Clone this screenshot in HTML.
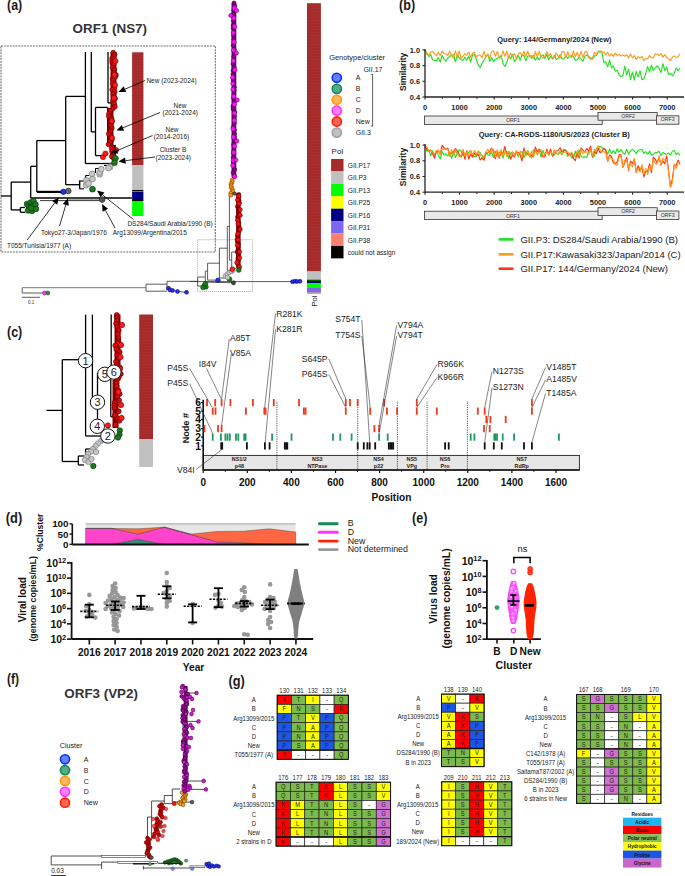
<!DOCTYPE html>
<html><head><meta charset="utf-8"><title>Figure</title>
<style>html,body{margin:0;padding:0;background:#fff;overflow:hidden}svg{display:block}text{font-family:"Liberation Sans",sans-serif}</style>
</head><body>
<svg width="685" height="876" viewBox="0 0 685 876">
<rect width="685" height="876" fill="#fff"/>
<text x="7" y="9.7" font-size="14" font-weight="bold" fill="#1a1a1a" textLength="15.2" lengthAdjust="spacingAndGlyphs">(a)</text>
<text x="399.1" y="9.7" font-size="14" font-weight="bold" fill="#1a1a1a" textLength="16" lengthAdjust="spacingAndGlyphs">(b)</text>
<text x="7" y="337.2" font-size="14" font-weight="bold" fill="#1a1a1a" textLength="15.2" lengthAdjust="spacingAndGlyphs">(c)</text>
<text x="5.8" y="522.8" font-size="14" font-weight="bold" fill="#1a1a1a" textLength="16.4" lengthAdjust="spacingAndGlyphs">(d)</text>
<text x="412" y="522.8" font-size="14" font-weight="bold" fill="#1a1a1a" textLength="15.4" lengthAdjust="spacingAndGlyphs">(e)</text>
<text x="7" y="683.9" font-size="14" font-weight="bold" fill="#1a1a1a" textLength="12" lengthAdjust="spacingAndGlyphs">(f)</text>
<text x="228.5" y="686.1" font-size="14" font-weight="bold" fill="#1a1a1a" textLength="16.3" lengthAdjust="spacingAndGlyphs">(g)</text>
<text x="72.6" y="33.3" font-size="13.4" font-weight="bold" fill="#333" >ORF1 (NS7)</text>
<rect x="1" y="46" width="214.3" height="206" fill="none" stroke="#707070" stroke-width="1.1" stroke-dasharray="2,0.9"/>
<line x1="1" y1="196" x2="11.2" y2="196" stroke="#000" stroke-width="1.3" />
<line x1="11.2" y1="182.1" x2="11.2" y2="209.9" stroke="#000" stroke-width="1.3" />
<line x1="11.2" y1="182.1" x2="30.7" y2="182.1" stroke="#000" stroke-width="1.3" />
<line x1="11.2" y1="209.9" x2="20.4" y2="209.9" stroke="#000" stroke-width="1.3" />
<line x1="20.4" y1="207.5" x2="20.4" y2="212.3" stroke="#000" stroke-width="1.3" />
<line x1="20.4" y1="207.5" x2="25" y2="207.5" stroke="#000" stroke-width="1.3" />
<line x1="20.4" y1="212.3" x2="25" y2="212.3" stroke="#000" stroke-width="1.3" />
<line x1="30.7" y1="166.3" x2="30.7" y2="198" stroke="#000" stroke-width="1.3" />
<line x1="30.7" y1="166.3" x2="36.8" y2="166.3" stroke="#000" stroke-width="1.3" />
<line x1="30.7" y1="198" x2="131.8" y2="198" stroke="#000" stroke-width="1.3" />
<line x1="36.8" y1="140.6" x2="36.8" y2="191.9" stroke="#000" stroke-width="1.3" />
<line x1="36.8" y1="140.6" x2="65.7" y2="140.6" stroke="#000" stroke-width="1.3" />
<line x1="65.7" y1="96.4" x2="65.7" y2="184.7" stroke="#000" stroke-width="1.3" />
<line x1="65.7" y1="96.4" x2="85.4" y2="96.4" stroke="#000" stroke-width="1.3" />
<line x1="65.7" y1="184.7" x2="79.7" y2="184.7" stroke="#000" stroke-width="1.3" />
<line x1="79.7" y1="180.5" x2="79.7" y2="188" stroke="#000" stroke-width="1.3" />
<line x1="85.4" y1="52" x2="85.4" y2="163.5" stroke="#000" stroke-width="1.3" />
<line x1="85.4" y1="163.5" x2="112" y2="163.5" stroke="#000" stroke-width="1.3" />
<line x1="91.3" y1="52" x2="91.3" y2="131.9" stroke="#000" stroke-width="1.3" />
<line x1="91.3" y1="131.9" x2="95.5" y2="131.9" stroke="#000" stroke-width="1.3" />
<line x1="95.5" y1="107.4" x2="95.5" y2="155.6" stroke="#000" stroke-width="1.3" />
<line x1="95.5" y1="155.6" x2="103.2" y2="155.6" stroke="#000" stroke-width="1.3" />
<line x1="95.5" y1="107.4" x2="107.7" y2="107.4" stroke="#000" stroke-width="1.3" />
<line x1="107.7" y1="107.4" x2="107.7" y2="146" stroke="#000" stroke-width="1.3" />
<line x1="108" y1="52" x2="108" y2="102.9" stroke="#000" stroke-width="1.3" />
<line x1="108" y1="102.9" x2="111" y2="102.9" stroke="#000" stroke-width="1.3" />
<line x1="36.8" y1="191.9" x2="63.4" y2="191.9" stroke="#000" stroke-width="2.2" />
<line x1="40" y1="200.6" x2="101" y2="200.6" stroke="#222" stroke-width="0.9" />
<line x1="68" y1="199.2" x2="101" y2="199.2" stroke="#555" stroke-width="0.7" />
<rect x="132.1" y="52.3" width="11.3" height="112.7" fill="#A52A2A" />
<rect x="132.1" y="54" width="11.3" height="0.5" fill="#B84444" opacity="0.5"/>
<rect x="132.1" y="57" width="11.3" height="0.5" fill="#B84444" opacity="0.5"/>
<rect x="132.1" y="60" width="11.3" height="0.5" fill="#B84444" opacity="0.5"/>
<rect x="132.1" y="63" width="11.3" height="0.5" fill="#B84444" opacity="0.5"/>
<rect x="132.1" y="66" width="11.3" height="0.5" fill="#B84444" opacity="0.5"/>
<rect x="132.1" y="69" width="11.3" height="0.5" fill="#B84444" opacity="0.5"/>
<rect x="132.1" y="72" width="11.3" height="0.5" fill="#B84444" opacity="0.5"/>
<rect x="132.1" y="75" width="11.3" height="0.5" fill="#B84444" opacity="0.5"/>
<rect x="132.1" y="78" width="11.3" height="0.5" fill="#B84444" opacity="0.5"/>
<rect x="132.1" y="81" width="11.3" height="0.5" fill="#B84444" opacity="0.5"/>
<rect x="132.1" y="84" width="11.3" height="0.5" fill="#B84444" opacity="0.5"/>
<rect x="132.1" y="87" width="11.3" height="0.5" fill="#B84444" opacity="0.5"/>
<rect x="132.1" y="90" width="11.3" height="0.5" fill="#B84444" opacity="0.5"/>
<rect x="132.1" y="93" width="11.3" height="0.5" fill="#B84444" opacity="0.5"/>
<rect x="132.1" y="96" width="11.3" height="0.5" fill="#B84444" opacity="0.5"/>
<rect x="132.1" y="99" width="11.3" height="0.5" fill="#B84444" opacity="0.5"/>
<rect x="132.1" y="102" width="11.3" height="0.5" fill="#B84444" opacity="0.5"/>
<rect x="132.1" y="105" width="11.3" height="0.5" fill="#B84444" opacity="0.5"/>
<rect x="132.1" y="108" width="11.3" height="0.5" fill="#B84444" opacity="0.5"/>
<rect x="132.1" y="111" width="11.3" height="0.5" fill="#B84444" opacity="0.5"/>
<rect x="132.1" y="114" width="11.3" height="0.5" fill="#B84444" opacity="0.5"/>
<rect x="132.1" y="117" width="11.3" height="0.5" fill="#B84444" opacity="0.5"/>
<rect x="132.1" y="120" width="11.3" height="0.5" fill="#B84444" opacity="0.5"/>
<rect x="132.1" y="123" width="11.3" height="0.5" fill="#B84444" opacity="0.5"/>
<rect x="132.1" y="126" width="11.3" height="0.5" fill="#B84444" opacity="0.5"/>
<rect x="132.1" y="129" width="11.3" height="0.5" fill="#B84444" opacity="0.5"/>
<rect x="132.1" y="132" width="11.3" height="0.5" fill="#B84444" opacity="0.5"/>
<rect x="132.1" y="135" width="11.3" height="0.5" fill="#B84444" opacity="0.5"/>
<rect x="132.1" y="138" width="11.3" height="0.5" fill="#B84444" opacity="0.5"/>
<rect x="132.1" y="141" width="11.3" height="0.5" fill="#B84444" opacity="0.5"/>
<rect x="132.1" y="144" width="11.3" height="0.5" fill="#B84444" opacity="0.5"/>
<rect x="132.1" y="147" width="11.3" height="0.5" fill="#B84444" opacity="0.5"/>
<rect x="132.1" y="150" width="11.3" height="0.5" fill="#B84444" opacity="0.5"/>
<rect x="132.1" y="153" width="11.3" height="0.5" fill="#B84444" opacity="0.5"/>
<rect x="132.1" y="156" width="11.3" height="0.5" fill="#B84444" opacity="0.5"/>
<rect x="132.1" y="159" width="11.3" height="0.5" fill="#B84444" opacity="0.5"/>
<rect x="132.1" y="162" width="11.3" height="0.5" fill="#B84444" opacity="0.5"/>
<rect x="132.1" y="165" width="11.3" height="25" fill="#C0C0C0" />
<rect x="132.1" y="190" width="11.3" height="1" fill="#000" />
<rect x="132.1" y="191" width="11.3" height="1" fill="#00CC00" />
<rect x="132.1" y="192" width="11.3" height="8" fill="#000080" />
<rect x="132.1" y="200" width="11.3" height="1" fill="#000" />
<rect x="132.1" y="201" width="11.3" height="14.2" fill="#00FF00" />
<rect x="132.1" y="215.2" width="11.3" height="0.8" fill="#7B68EE" />
<rect x="110.5" y="52" width="6" height="56" fill="#8B0000" />
<rect x="107.5" y="108" width="6" height="38" fill="#8B0000" />
<rect x="110" y="145" width="6" height="14" fill="#8B0000" />
<circle cx="113.22" cy="52.5" r="2.3" fill="#DD0A0A" stroke="#5A0000" stroke-width="0.6" />
<circle cx="114.66" cy="54.34" r="2.3" fill="#DD0A0A" stroke="#5A0000" stroke-width="0.6" />
<circle cx="114.16" cy="56.06" r="2.3" fill="#DD0A0A" stroke="#5A0000" stroke-width="0.6" />
<circle cx="112.06" cy="58.24" r="2.3" fill="#DD0A0A" stroke="#5A0000" stroke-width="0.6" />
<circle cx="111.96" cy="60.65" r="2.3" fill="#DD0A0A" stroke="#5A0000" stroke-width="0.6" />
<circle cx="112.11" cy="62.95" r="2.3" fill="#DD0A0A" stroke="#5A0000" stroke-width="0.6" />
<circle cx="113.67" cy="64.69" r="2.3" fill="#DD0A0A" stroke="#5A0000" stroke-width="0.6" />
<circle cx="112.34" cy="67.62" r="2.3" fill="#DD0A0A" stroke="#5A0000" stroke-width="0.6" />
<circle cx="114.56" cy="69.57" r="2.3" fill="#DD0A0A" stroke="#5A0000" stroke-width="0.6" />
<circle cx="114.34" cy="72.69" r="2.3" fill="#DD0A0A" stroke="#5A0000" stroke-width="0.6" />
<circle cx="116.1" cy="74.92" r="2.3" fill="#DD0A0A" stroke="#5A0000" stroke-width="0.6" />
<circle cx="115.58" cy="76.6" r="2.3" fill="#DD0A0A" stroke="#5A0000" stroke-width="0.6" />
<circle cx="112.43" cy="78.66" r="2.3" fill="#DD0A0A" stroke="#5A0000" stroke-width="0.6" />
<circle cx="113.16" cy="80.45" r="2.3" fill="#DD0A0A" stroke="#5A0000" stroke-width="0.6" />
<circle cx="112.6" cy="83.36" r="2.3" fill="#DD0A0A" stroke="#5A0000" stroke-width="0.6" />
<circle cx="114.61" cy="85.89" r="2.3" fill="#DD0A0A" stroke="#5A0000" stroke-width="0.6" />
<circle cx="114.21" cy="88.08" r="2.3" fill="#DD0A0A" stroke="#5A0000" stroke-width="0.6" />
<circle cx="112.06" cy="89.78" r="2.3" fill="#DD0A0A" stroke="#5A0000" stroke-width="0.6" />
<circle cx="114.79" cy="91.71" r="2.3" fill="#DD0A0A" stroke="#5A0000" stroke-width="0.6" />
<circle cx="113.18" cy="94" r="2.3" fill="#DD0A0A" stroke="#5A0000" stroke-width="0.6" />
<circle cx="113.79" cy="96.53" r="2.3" fill="#DD0A0A" stroke="#5A0000" stroke-width="0.6" />
<circle cx="115.3" cy="98.61" r="2.3" fill="#DD0A0A" stroke="#5A0000" stroke-width="0.6" />
<circle cx="112.87" cy="101.33" r="2.3" fill="#DD0A0A" stroke="#5A0000" stroke-width="0.6" />
<circle cx="114.11" cy="103.85" r="2.3" fill="#DD0A0A" stroke="#5A0000" stroke-width="0.6" />
<circle cx="115.01" cy="106.85" r="2.3" fill="#DD0A0A" stroke="#5A0000" stroke-width="0.6" />
<circle cx="112.61" cy="108.91" r="2.3" fill="#DD0A0A" stroke="#5A0000" stroke-width="0.6" />
<circle cx="110.14" cy="110.7" r="2.3" fill="#DD0A0A" stroke="#5A0000" stroke-width="0.6" />
<circle cx="108.97" cy="113.51" r="2.3" fill="#DD0A0A" stroke="#5A0000" stroke-width="0.6" />
<circle cx="108.47" cy="115.89" r="2.3" fill="#DD0A0A" stroke="#5A0000" stroke-width="0.6" />
<circle cx="111.66" cy="118.56" r="2.3" fill="#DD0A0A" stroke="#5A0000" stroke-width="0.6" />
<circle cx="112.15" cy="121.08" r="2.3" fill="#DD0A0A" stroke="#5A0000" stroke-width="0.6" />
<circle cx="111.36" cy="123.18" r="2.3" fill="#DD0A0A" stroke="#5A0000" stroke-width="0.6" />
<circle cx="110.85" cy="125.73" r="2.3" fill="#DD0A0A" stroke="#5A0000" stroke-width="0.6" />
<circle cx="112" cy="128.06" r="2.3" fill="#DD0A0A" stroke="#5A0000" stroke-width="0.6" />
<circle cx="110.39" cy="131.18" r="2.3" fill="#DD0A0A" stroke="#5A0000" stroke-width="0.6" />
<circle cx="108.57" cy="133.84" r="2.3" fill="#DD0A0A" stroke="#5A0000" stroke-width="0.6" />
<circle cx="111.15" cy="136.56" r="2.3" fill="#DD0A0A" stroke="#5A0000" stroke-width="0.6" />
<circle cx="111.92" cy="139.75" r="2.3" fill="#DD0A0A" stroke="#5A0000" stroke-width="0.6" />
<circle cx="110" cy="141.8" r="2.3" fill="#DD0A0A" stroke="#5A0000" stroke-width="0.6" />
<circle cx="108.4" cy="144.47" r="2.3" fill="#DD0A0A" stroke="#5A0000" stroke-width="0.6" />
<circle cx="112.04" cy="146.81" r="2.3" fill="#DD0A0A" stroke="#5A0000" stroke-width="0.6" />
<circle cx="111.56" cy="148.6" r="2.3" fill="#DD0A0A" stroke="#5A0000" stroke-width="0.6" />
<circle cx="111.87" cy="151.43" r="2.3" fill="#DD0A0A" stroke="#5A0000" stroke-width="0.6" />
<circle cx="113.02" cy="153.43" r="2.3" fill="#DD0A0A" stroke="#5A0000" stroke-width="0.6" />
<circle cx="111.65" cy="156.42" r="2.3" fill="#DD0A0A" stroke="#5A0000" stroke-width="0.6" />
<circle cx="113.72" cy="158.74" r="2.3" fill="#DD0A0A" stroke="#5A0000" stroke-width="0.6" />
<circle cx="115.5" cy="61" r="2.6" fill="#FF1A1A" stroke="#770000" stroke-width="0.6" />
<circle cx="114.5" cy="75" r="2.6" fill="#FF1A1A" stroke="#770000" stroke-width="0.6" />
<circle cx="115" cy="85" r="2.6" fill="#FF1A1A" stroke="#770000" stroke-width="0.6" />
<circle cx="114" cy="98" r="2.6" fill="#FF1A1A" stroke="#770000" stroke-width="0.6" />
<circle cx="112" cy="121" r="2.6" fill="#FF1A1A" stroke="#770000" stroke-width="0.6" />
<circle cx="112" cy="138" r="2.6" fill="#FF1A1A" stroke="#770000" stroke-width="0.6" />
<circle cx="116" cy="150" r="2.6" fill="#FF1A1A" stroke="#770000" stroke-width="0.6" />
<circle cx="103" cy="157" r="2.6" fill="#FF1A1A" stroke="#770000" stroke-width="0.6" />
<circle cx="105.5" cy="153.5" r="2.6" fill="#FF1A1A" stroke="#770000" stroke-width="0.6" />
<line x1="79.5" y1="181" x2="79.5" y2="188.8" stroke="#000" stroke-width="1.1" />
<line x1="79.5" y1="181" x2="84" y2="181" stroke="#000" stroke-width="1.1" />
<line x1="79.5" y1="188.8" x2="84" y2="188.8" stroke="#000" stroke-width="1.1" />
<line x1="85.5" y1="175.5" x2="85.5" y2="181" stroke="#000" stroke-width="1.1" />
<line x1="85.5" y1="175.5" x2="89" y2="175.5" stroke="#000" stroke-width="1.1" />
<line x1="95.5" y1="168.5" x2="95.5" y2="173" stroke="#000" stroke-width="1.1" />
<line x1="95.5" y1="168.5" x2="99" y2="168.5" stroke="#000" stroke-width="1.1" />
<line x1="104" y1="165.5" x2="108" y2="165.5" stroke="#000" stroke-width="1.1" />
<circle cx="86" cy="185.2" r="2.9" fill="#C8C8C8" stroke="#777" stroke-width="0.7" />
<circle cx="86.5" cy="180.3" r="2.9" fill="#C8C8C8" stroke="#777" stroke-width="0.7" />
<circle cx="92.1" cy="173.9" r="2.9" fill="#C8C8C8" stroke="#777" stroke-width="0.7" />
<circle cx="92.5" cy="179.1" r="2.9" fill="#C8C8C8" stroke="#777" stroke-width="0.7" />
<circle cx="99.7" cy="174.3" r="2.9" fill="#C8C8C8" stroke="#777" stroke-width="0.7" />
<circle cx="99.7" cy="172.3" r="2.9" fill="#C8C8C8" stroke="#777" stroke-width="0.7" />
<circle cx="101.3" cy="169.1" r="2.9" fill="#C8C8C8" stroke="#777" stroke-width="0.7" />
<circle cx="110.2" cy="166.7" r="2.9" fill="#C8C8C8" stroke="#777" stroke-width="0.7" />
<circle cx="108.5" cy="168" r="2.9" fill="#C8C8C8" stroke="#777" stroke-width="0.7" />
<circle cx="88.5" cy="183.5" r="2.9" fill="#C8C8C8" stroke="#777" stroke-width="0.7" />
<circle cx="115.4" cy="158.3" r="2.9" fill="#1E7A1E" stroke="#0A3A0A" stroke-width="0.7" />
<circle cx="114.5" cy="162.7" r="2.9" fill="#1E7A1E" stroke="#0A3A0A" stroke-width="0.7" />
<circle cx="92.5" cy="189.2" r="2.9" fill="#1E7A1E" stroke="#0A3A0A" stroke-width="0.7" />
<circle cx="27" cy="204" r="2.8" fill="#1E7A1E" stroke="#0A3A0A" stroke-width="0.7" />
<circle cx="30.5" cy="202.5" r="2.8" fill="#1E7A1E" stroke="#0A3A0A" stroke-width="0.7" />
<circle cx="33.5" cy="201" r="2.8" fill="#1E7A1E" stroke="#0A3A0A" stroke-width="0.7" />
<circle cx="29" cy="207" r="2.8" fill="#1E7A1E" stroke="#0A3A0A" stroke-width="0.7" />
<circle cx="33" cy="206" r="2.8" fill="#1E7A1E" stroke="#0A3A0A" stroke-width="0.7" />
<circle cx="28" cy="210.5" r="2.8" fill="#1E7A1E" stroke="#0A3A0A" stroke-width="0.7" />
<circle cx="32" cy="211" r="2.8" fill="#1E7A1E" stroke="#0A3A0A" stroke-width="0.7" />
<circle cx="35.5" cy="204.5" r="2.8" fill="#1E7A1E" stroke="#0A3A0A" stroke-width="0.7" />
<circle cx="36" cy="209" r="2.8" fill="#1E7A1E" stroke="#0A3A0A" stroke-width="0.7" />
<circle cx="31" cy="208" r="2.8" fill="#1E7A1E" stroke="#0A3A0A" stroke-width="0.7" />
<circle cx="63.4" cy="191.8" r="2.6" fill="#1A33EE" stroke="#000066" stroke-width="0.7" />
<circle cx="68.3" cy="191" r="2.8" fill="#666" stroke="#222" stroke-width="0.7" />
<circle cx="102.2" cy="199.6" r="2.8" fill="#555" stroke="#222" stroke-width="0.7" />
<line x1="145" y1="80.5" x2="124.92" y2="89.21" stroke="#000" stroke-width="0.8" />
<polygon points="118.5,92 123.69,86.37 126.16,92.06" fill="#000" />
<line x1="160" y1="112.5" x2="122.97" y2="127.82" stroke="#000" stroke-width="0.8" />
<polygon points="116.5,130.5 121.78,124.96 124.15,130.69" fill="#000" />
<line x1="152.5" y1="135.5" x2="116.93" y2="150.74" stroke="#000" stroke-width="0.8" />
<polygon points="110.5,153.5 115.71,147.89 118.16,153.59" fill="#000" />
<line x1="155" y1="157" x2="125.45" y2="160.64" stroke="#000" stroke-width="0.8" />
<polygon points="118.5,161.5 125.07,157.57 125.83,163.72" fill="#000" />
<line x1="133.5" y1="219.5" x2="102.48" y2="194.85" stroke="#000" stroke-width="0.8" />
<polygon points="97,190.5 104.41,192.43 100.55,197.28" fill="#000" />
<line x1="115" y1="228" x2="105.33" y2="210.16" stroke="#000" stroke-width="0.8" />
<polygon points="102,204 108.06,208.68 102.61,211.63" fill="#000" />
<line x1="59.5" y1="226" x2="65.8" y2="204.91" stroke="#000" stroke-width="0.8" />
<polygon points="67.8,198.2 68.77,205.79 62.83,204.02" fill="#000" />
<line x1="27.2" y1="240" x2="54.73" y2="202.92" stroke="#000" stroke-width="0.8" />
<polygon points="58.9,197.3 57.22,204.77 52.24,201.07" fill="#000" />
<text x="146.4" y="83" font-size="6.5" fill="#222" >New (2023-2024)</text>
<text x="180" y="108" font-size="6.5" text-anchor="middle" fill="#222" >New</text>
<text x="162.5" y="115.3" font-size="6.5" fill="#222" >(2021-2024)</text>
<text x="172" y="131.5" font-size="6.5" text-anchor="middle" fill="#222" >New</text>
<text x="153.8" y="138.5" font-size="6.5" fill="#222" >(2014-2016)</text>
<text x="173" y="152.3" font-size="6.5" text-anchor="middle" fill="#222" >Cluster B</text>
<text x="155.6" y="160.4" font-size="6.5" fill="#222" >(2023-2024)</text>
<text x="127.4" y="225.9" font-size="6.5" fill="#222" >DS284/Saudi Arabia/1990 (B)</text>
<text x="112.7" y="234.5" font-size="6.5" fill="#222" >Arg13099/Argentina/2015</text>
<text x="41" y="234.6" font-size="6.5" fill="#222" >Tokyo27-3/Japan/1976</text>
<text x="7" y="247.7" font-size="6.5" fill="#222" >T055/Tunisia/1977 (A)</text>
<line x1="22.2" y1="287.7" x2="22.2" y2="293" stroke="#333" stroke-width="0.8" />
<line x1="22.2" y1="293" x2="44" y2="293" stroke="#333" stroke-width="0.8" />
<line x1="146" y1="284.2" x2="146" y2="291.2" stroke="#333" stroke-width="0.8" />
<line x1="146" y1="284.2" x2="167" y2="284.2" stroke="#333" stroke-width="0.8" />
<line x1="146" y1="291.2" x2="167" y2="291.2" stroke="#333" stroke-width="0.8" />
<line x1="167" y1="281.3" x2="167" y2="290" stroke="#333" stroke-width="0.8" />
<line x1="167" y1="281.3" x2="197.7" y2="281.3" stroke="#333" stroke-width="0.8" />
<line x1="167" y1="289.5" x2="186" y2="292.5" stroke="#333" stroke-width="0.8" />
<line x1="22.2" y1="287.7" x2="146" y2="287.7" stroke="#666" stroke-width="0.9" />
<line x1="22" y1="297.3" x2="40" y2="297.3" stroke="#333" stroke-width="0.8" />
<text x="28" y="304.3" font-size="4.5" fill="#333" >0.1</text>
<circle cx="44.5" cy="293" r="2" fill="#FF44FF" stroke="#660066" stroke-width="0.5" />
<circle cx="47.8" cy="293" r="2" fill="#3A8A3A" stroke="#113311" stroke-width="0.5" />
<circle cx="168.5" cy="288.3" r="2" fill="#2233EE" stroke="#000066" stroke-width="0.5" />
<circle cx="170" cy="290" r="2" fill="#2233EE" stroke="#000066" stroke-width="0.5" />
<circle cx="172.5" cy="290.5" r="2" fill="#2233EE" stroke="#000066" stroke-width="0.5" />
<circle cx="177.5" cy="291.5" r="2" fill="#2233EE" stroke="#000066" stroke-width="0.5" />
<circle cx="186.5" cy="292.3" r="2" fill="#2233EE" stroke="#000066" stroke-width="0.5" />
<rect x="197.5" y="239.7" width="55" height="51.8" fill="none" stroke="#888" stroke-width="0.6" stroke-dasharray="1.2,0.8"/>
<line x1="190" y1="281.6" x2="300" y2="281.6" stroke="#333" stroke-width="0.8" />
<circle cx="292.5" cy="281.8" r="2" fill="#2233EE" stroke="#000066" stroke-width="0.5" />
<circle cx="295" cy="281.2" r="2" fill="#2233EE" stroke="#000066" stroke-width="0.5" />
<circle cx="297" cy="281.5" r="2" fill="#2233EE" stroke="#000066" stroke-width="0.5" />
<circle cx="300" cy="281.3" r="2" fill="#2233EE" stroke="#000066" stroke-width="0.5" />
<line x1="197.7" y1="277" x2="197.7" y2="286" stroke="#333" stroke-width="0.8" />
<line x1="197.7" y1="277" x2="205.1" y2="277" stroke="#333" stroke-width="0.8" />
<line x1="197.7" y1="286" x2="203" y2="286" stroke="#333" stroke-width="0.8" />
<line x1="205.3" y1="271.1" x2="205.3" y2="282.1" stroke="#333" stroke-width="0.8" />
<line x1="205.3" y1="271.1" x2="207.6" y2="271.1" stroke="#333" stroke-width="0.8" />
<line x1="207.6" y1="263.2" x2="207.6" y2="280.1" stroke="#333" stroke-width="0.8" />
<line x1="207.6" y1="263.2" x2="219.4" y2="263.2" stroke="#333" stroke-width="0.8" />
<line x1="207.6" y1="280.1" x2="216" y2="280.1" stroke="#333" stroke-width="0.8" />
<line x1="219.4" y1="248.2" x2="219.4" y2="278" stroke="#333" stroke-width="0.8" />
<line x1="219.4" y1="248.2" x2="227.3" y2="248.2" stroke="#333" stroke-width="0.8" />
<line x1="219.4" y1="278" x2="226" y2="278" stroke="#333" stroke-width="0.8" />
<line x1="227.3" y1="226.4" x2="227.3" y2="270.4" stroke="#333" stroke-width="0.8" />
<line x1="227.3" y1="226.4" x2="229.4" y2="226.4" stroke="#333" stroke-width="0.8" />
<line x1="227.3" y1="270.4" x2="233" y2="270.4" stroke="#333" stroke-width="0.8" />
<line x1="229.4" y1="195.6" x2="229.4" y2="260.1" stroke="#333" stroke-width="0.8" />
<line x1="229.4" y1="260.1" x2="231.7" y2="260.1" stroke="#333" stroke-width="0.8" />
<line x1="231.7" y1="252" x2="231.7" y2="268.3" stroke="#333" stroke-width="0.8" />
<line x1="231.7" y1="252" x2="236" y2="252" stroke="#333" stroke-width="0.8" />
<line x1="231.7" y1="268.3" x2="236" y2="268.3" stroke="#333" stroke-width="0.8" />
<line x1="205.3" y1="282.1" x2="233.5" y2="282.8" stroke="#333" stroke-width="0.8" />
<line x1="197.7" y1="277.3" x2="205" y2="277.3" stroke="#aaa" stroke-width="1.5" />
<rect x="231.5" y="1.5" width="4.8" height="177" fill="#700070" rx="2.4"/>
<circle cx="234.05" cy="3" r="2.1" fill="#8A008A" stroke="#3A003A" stroke-width="0.5" />
<circle cx="234.74" cy="5.89" r="2.1" fill="#8A008A" stroke="#3A003A" stroke-width="0.5" />
<circle cx="233.84" cy="10.24" r="2.1" fill="#8A008A" stroke="#3A003A" stroke-width="0.5" />
<circle cx="233.39" cy="14.06" r="2.1" fill="#8A008A" stroke="#3A003A" stroke-width="0.5" />
<circle cx="233.52" cy="17.01" r="2.1" fill="#8A008A" stroke="#3A003A" stroke-width="0.5" />
<circle cx="233.38" cy="20.89" r="2.1" fill="#8A008A" stroke="#3A003A" stroke-width="0.5" />
<circle cx="233.13" cy="25.33" r="2.1" fill="#8A008A" stroke="#3A003A" stroke-width="0.5" />
<circle cx="233.16" cy="28.22" r="2.1" fill="#8A008A" stroke="#3A003A" stroke-width="0.5" />
<circle cx="233.66" cy="32.26" r="2.1" fill="#8A008A" stroke="#3A003A" stroke-width="0.5" />
<circle cx="233.59" cy="35.7" r="2.1" fill="#8A008A" stroke="#3A003A" stroke-width="0.5" />
<circle cx="233.73" cy="39.48" r="2.1" fill="#8A008A" stroke="#3A003A" stroke-width="0.5" />
<circle cx="233.77" cy="42.4" r="2.1" fill="#8A008A" stroke="#3A003A" stroke-width="0.5" />
<circle cx="233.2" cy="45.5" r="2.1" fill="#8A008A" stroke="#3A003A" stroke-width="0.5" />
<circle cx="234.22" cy="49.65" r="2.1" fill="#8A008A" stroke="#3A003A" stroke-width="0.5" />
<circle cx="234.59" cy="53.48" r="2.1" fill="#8A008A" stroke="#3A003A" stroke-width="0.5" />
<circle cx="233.68" cy="56.77" r="2.1" fill="#8A008A" stroke="#3A003A" stroke-width="0.5" />
<circle cx="233.73" cy="60.12" r="2.1" fill="#8A008A" stroke="#3A003A" stroke-width="0.5" />
<circle cx="233.01" cy="63.95" r="2.1" fill="#8A008A" stroke="#3A003A" stroke-width="0.5" />
<circle cx="233.96" cy="67.38" r="2.1" fill="#8A008A" stroke="#3A003A" stroke-width="0.5" />
<circle cx="233.04" cy="70.57" r="2.1" fill="#8A008A" stroke="#3A003A" stroke-width="0.5" />
<circle cx="233.02" cy="74.48" r="2.1" fill="#8A008A" stroke="#3A003A" stroke-width="0.5" />
<circle cx="233.28" cy="78.11" r="2.1" fill="#8A008A" stroke="#3A003A" stroke-width="0.5" />
<circle cx="233.33" cy="80.68" r="2.1" fill="#8A008A" stroke="#3A003A" stroke-width="0.5" />
<circle cx="233.27" cy="83.31" r="2.1" fill="#8A008A" stroke="#3A003A" stroke-width="0.5" />
<circle cx="234.31" cy="87.18" r="2.1" fill="#8A008A" stroke="#3A003A" stroke-width="0.5" />
<circle cx="234.17" cy="90.41" r="2.1" fill="#8A008A" stroke="#3A003A" stroke-width="0.5" />
<circle cx="233.9" cy="93.86" r="2.1" fill="#8A008A" stroke="#3A003A" stroke-width="0.5" />
<circle cx="233.56" cy="98.11" r="2.1" fill="#8A008A" stroke="#3A003A" stroke-width="0.5" />
<circle cx="234.24" cy="102.35" r="2.1" fill="#8A008A" stroke="#3A003A" stroke-width="0.5" />
<circle cx="233.01" cy="106.22" r="2.1" fill="#8A008A" stroke="#3A003A" stroke-width="0.5" />
<circle cx="233.06" cy="108.88" r="2.1" fill="#8A008A" stroke="#3A003A" stroke-width="0.5" />
<circle cx="234.7" cy="112.08" r="2.1" fill="#8A008A" stroke="#3A003A" stroke-width="0.5" />
<circle cx="234.51" cy="116.33" r="2.1" fill="#8A008A" stroke="#3A003A" stroke-width="0.5" />
<circle cx="234.27" cy="119.06" r="2.1" fill="#8A008A" stroke="#3A003A" stroke-width="0.5" />
<circle cx="234.46" cy="123.11" r="2.1" fill="#8A008A" stroke="#3A003A" stroke-width="0.5" />
<circle cx="233.25" cy="127.2" r="2.1" fill="#8A008A" stroke="#3A003A" stroke-width="0.5" />
<circle cx="234.43" cy="130.06" r="2.1" fill="#8A008A" stroke="#3A003A" stroke-width="0.5" />
<circle cx="234.61" cy="134.03" r="2.1" fill="#8A008A" stroke="#3A003A" stroke-width="0.5" />
<circle cx="234.6" cy="137.43" r="2.1" fill="#8A008A" stroke="#3A003A" stroke-width="0.5" />
<circle cx="234.72" cy="140.2" r="2.1" fill="#8A008A" stroke="#3A003A" stroke-width="0.5" />
<circle cx="233.61" cy="144.47" r="2.1" fill="#8A008A" stroke="#3A003A" stroke-width="0.5" />
<circle cx="233.99" cy="147.11" r="2.1" fill="#8A008A" stroke="#3A003A" stroke-width="0.5" />
<circle cx="233.63" cy="150.99" r="2.1" fill="#8A008A" stroke="#3A003A" stroke-width="0.5" />
<circle cx="233.5" cy="153.6" r="2.1" fill="#8A008A" stroke="#3A003A" stroke-width="0.5" />
<circle cx="233.16" cy="157.75" r="2.1" fill="#8A008A" stroke="#3A003A" stroke-width="0.5" />
<circle cx="233.45" cy="162.13" r="2.1" fill="#8A008A" stroke="#3A003A" stroke-width="0.5" />
<circle cx="233.2" cy="165.03" r="2.1" fill="#8A008A" stroke="#3A003A" stroke-width="0.5" />
<circle cx="234.62" cy="169.5" r="2.1" fill="#8A008A" stroke="#3A003A" stroke-width="0.5" />
<circle cx="233.17" cy="172.63" r="2.1" fill="#8A008A" stroke="#3A003A" stroke-width="0.5" />
<circle cx="234.6" cy="176.44" r="2.1" fill="#8A008A" stroke="#3A003A" stroke-width="0.5" />
<circle cx="234.25" cy="8" r="2.2" fill="#FF10FF" stroke="#5A005A" stroke-width="0.4" />
<circle cx="233.79" cy="18.14" r="2.2" fill="#FF10FF" stroke="#5A005A" stroke-width="0.4" />
<circle cx="234.69" cy="26.56" r="2.2" fill="#FF10FF" stroke="#5A005A" stroke-width="0.4" />
<circle cx="233.31" cy="32.99" r="2.2" fill="#FF10FF" stroke="#5A005A" stroke-width="0.4" />
<circle cx="234.04" cy="41.95" r="2.2" fill="#FF10FF" stroke="#5A005A" stroke-width="0.4" />
<circle cx="233.47" cy="50.16" r="2.2" fill="#FF10FF" stroke="#5A005A" stroke-width="0.4" />
<circle cx="233.35" cy="60.78" r="2.2" fill="#FF10FF" stroke="#5A005A" stroke-width="0.4" />
<circle cx="234.92" cy="69.86" r="2.2" fill="#FF10FF" stroke="#5A005A" stroke-width="0.4" />
<circle cx="232.74" cy="77.26" r="2.2" fill="#FF10FF" stroke="#5A005A" stroke-width="0.4" />
<circle cx="232.77" cy="83.58" r="2.2" fill="#FF10FF" stroke="#5A005A" stroke-width="0.4" />
<circle cx="232.91" cy="89.47" r="2.2" fill="#FF10FF" stroke="#5A005A" stroke-width="0.4" />
<circle cx="233.56" cy="96.53" r="2.2" fill="#FF10FF" stroke="#5A005A" stroke-width="0.4" />
<circle cx="234.33" cy="104.21" r="2.2" fill="#FF10FF" stroke="#5A005A" stroke-width="0.4" />
<circle cx="234.39" cy="113.27" r="2.2" fill="#FF10FF" stroke="#5A005A" stroke-width="0.4" />
<circle cx="234.32" cy="120.46" r="2.2" fill="#FF10FF" stroke="#5A005A" stroke-width="0.4" />
<circle cx="232.93" cy="128.76" r="2.2" fill="#FF10FF" stroke="#5A005A" stroke-width="0.4" />
<circle cx="233.43" cy="137.03" r="2.2" fill="#FF10FF" stroke="#5A005A" stroke-width="0.4" />
<circle cx="234.51" cy="146.09" r="2.2" fill="#FF10FF" stroke="#5A005A" stroke-width="0.4" />
<circle cx="233.73" cy="152.53" r="2.2" fill="#FF10FF" stroke="#5A005A" stroke-width="0.4" />
<circle cx="233.37" cy="160.26" r="2.2" fill="#FF10FF" stroke="#5A005A" stroke-width="0.4" />
<circle cx="232.73" cy="165.51" r="2.2" fill="#FF10FF" stroke="#5A005A" stroke-width="0.4" />
<circle cx="234.52" cy="176.46" r="2.2" fill="#FF10FF" stroke="#5A005A" stroke-width="0.4" />
<circle cx="236.6" cy="10.5" r="2.1" fill="#FF10FF" stroke="#4A004A" stroke-width="0.5" />
<circle cx="230.8" cy="15.5" r="2.1" fill="#FF10FF" stroke="#4A004A" stroke-width="0.5" />
<circle cx="236.4" cy="53" r="2.1" fill="#FF10FF" stroke="#4A004A" stroke-width="0.5" />
<circle cx="237.2" cy="100" r="2.1" fill="#FF10FF" stroke="#4A004A" stroke-width="0.5" />
<circle cx="236.8" cy="141" r="2.1" fill="#FF10FF" stroke="#4A004A" stroke-width="0.5" />
<circle cx="235.8" cy="160" r="2.1" fill="#FF10FF" stroke="#4A004A" stroke-width="0.5" />
<circle cx="232.2" cy="180" r="2" fill="#FF9900" stroke="#663300" stroke-width="0.5" />
<circle cx="232.3" cy="181.9" r="2" fill="#FF9900" stroke="#663300" stroke-width="0.5" />
<circle cx="231.01" cy="183.8" r="2" fill="#FF9900" stroke="#663300" stroke-width="0.5" />
<circle cx="231.31" cy="185.7" r="2" fill="#FF9900" stroke="#663300" stroke-width="0.5" />
<circle cx="231.19" cy="187.6" r="2" fill="#FF9900" stroke="#663300" stroke-width="0.5" />
<circle cx="232.35" cy="189.5" r="2" fill="#FF9900" stroke="#663300" stroke-width="0.5" />
<circle cx="232.51" cy="191.4" r="2" fill="#FF9900" stroke="#663300" stroke-width="0.5" />
<circle cx="230.73" cy="193.3" r="2" fill="#FF9900" stroke="#663300" stroke-width="0.5" />
<circle cx="230.79" cy="195.2" r="2" fill="#FF9900" stroke="#663300" stroke-width="0.5" />
<circle cx="234.6" cy="193.6" r="1.8" fill="#555" stroke="#222" stroke-width="0.5" />
<rect x="236.2" y="193.6" width="4.4" height="74" fill="#7A0000" />
<circle cx="238.73" cy="194.5" r="2.1" fill="#A00000" stroke="#3A0000" stroke-width="0.5" />
<circle cx="238.82" cy="196.9" r="2.1" fill="#A00000" stroke="#3A0000" stroke-width="0.5" />
<circle cx="238.95" cy="200.33" r="2.1" fill="#A00000" stroke="#3A0000" stroke-width="0.5" />
<circle cx="239.37" cy="203.03" r="2.1" fill="#A00000" stroke="#3A0000" stroke-width="0.5" />
<circle cx="237.52" cy="206.41" r="2.1" fill="#A00000" stroke="#3A0000" stroke-width="0.5" />
<circle cx="238.3" cy="209.03" r="2.1" fill="#A00000" stroke="#3A0000" stroke-width="0.5" />
<circle cx="238.63" cy="211.44" r="2.1" fill="#A00000" stroke="#3A0000" stroke-width="0.5" />
<circle cx="238.89" cy="213.65" r="2.1" fill="#A00000" stroke="#3A0000" stroke-width="0.5" />
<circle cx="237.52" cy="216.94" r="2.1" fill="#A00000" stroke="#3A0000" stroke-width="0.5" />
<circle cx="237.93" cy="219.98" r="2.1" fill="#A00000" stroke="#3A0000" stroke-width="0.5" />
<circle cx="238.78" cy="222.94" r="2.1" fill="#A00000" stroke="#3A0000" stroke-width="0.5" />
<circle cx="239" cy="226.4" r="2.1" fill="#A00000" stroke="#3A0000" stroke-width="0.5" />
<circle cx="238.86" cy="228.91" r="2.1" fill="#A00000" stroke="#3A0000" stroke-width="0.5" />
<circle cx="238.83" cy="231.13" r="2.1" fill="#A00000" stroke="#3A0000" stroke-width="0.5" />
<circle cx="237.93" cy="233.76" r="2.1" fill="#A00000" stroke="#3A0000" stroke-width="0.5" />
<circle cx="237.43" cy="236.11" r="2.1" fill="#A00000" stroke="#3A0000" stroke-width="0.5" />
<circle cx="237.19" cy="239.31" r="2.1" fill="#A00000" stroke="#3A0000" stroke-width="0.5" />
<circle cx="237.38" cy="241.66" r="2.1" fill="#A00000" stroke="#3A0000" stroke-width="0.5" />
<circle cx="238.46" cy="243.89" r="2.1" fill="#A00000" stroke="#3A0000" stroke-width="0.5" />
<circle cx="238.33" cy="246.78" r="2.1" fill="#A00000" stroke="#3A0000" stroke-width="0.5" />
<circle cx="237.9" cy="250.13" r="2.1" fill="#A00000" stroke="#3A0000" stroke-width="0.5" />
<circle cx="237.38" cy="252.18" r="2.1" fill="#A00000" stroke="#3A0000" stroke-width="0.5" />
<circle cx="238.43" cy="254.96" r="2.1" fill="#A00000" stroke="#3A0000" stroke-width="0.5" />
<circle cx="238.02" cy="258.33" r="2.1" fill="#A00000" stroke="#3A0000" stroke-width="0.5" />
<circle cx="238.19" cy="260.68" r="2.1" fill="#A00000" stroke="#3A0000" stroke-width="0.5" />
<circle cx="237.67" cy="264.08" r="2.1" fill="#A00000" stroke="#3A0000" stroke-width="0.5" />
<circle cx="238.81" cy="267.47" r="2.1" fill="#A00000" stroke="#3A0000" stroke-width="0.5" />
<circle cx="238.64" cy="196" r="2.2" fill="#F01010" stroke="#4A0000" stroke-width="0.4" />
<circle cx="237.53" cy="199.95" r="2.2" fill="#F01010" stroke="#4A0000" stroke-width="0.4" />
<circle cx="239.03" cy="203.59" r="2.2" fill="#F01010" stroke="#4A0000" stroke-width="0.4" />
<circle cx="240.18" cy="209.59" r="2.2" fill="#F01010" stroke="#4A0000" stroke-width="0.4" />
<circle cx="240.18" cy="215.2" r="2.2" fill="#F01010" stroke="#4A0000" stroke-width="0.4" />
<circle cx="237.6" cy="220.11" r="2.2" fill="#F01010" stroke="#4A0000" stroke-width="0.4" />
<circle cx="238.06" cy="223.82" r="2.2" fill="#F01010" stroke="#4A0000" stroke-width="0.4" />
<circle cx="240.16" cy="229.17" r="2.2" fill="#F01010" stroke="#4A0000" stroke-width="0.4" />
<circle cx="237.91" cy="233.71" r="2.2" fill="#F01010" stroke="#4A0000" stroke-width="0.4" />
<circle cx="237.97" cy="239.75" r="2.2" fill="#F01010" stroke="#4A0000" stroke-width="0.4" />
<circle cx="237.25" cy="245.2" r="2.2" fill="#F01010" stroke="#4A0000" stroke-width="0.4" />
<circle cx="239.56" cy="251.69" r="2.2" fill="#F01010" stroke="#4A0000" stroke-width="0.4" />
<circle cx="239.61" cy="257.83" r="2.2" fill="#F01010" stroke="#4A0000" stroke-width="0.4" />
<circle cx="236.9" cy="262.49" r="2.2" fill="#F01010" stroke="#4A0000" stroke-width="0.4" />
<circle cx="239.49" cy="267.06" r="2.2" fill="#F01010" stroke="#4A0000" stroke-width="0.4" />
<circle cx="238.8" cy="270" r="2.4" fill="#1E7A1E" stroke="#0A3A0A" stroke-width="0.6" />
<circle cx="229.5" cy="279.2" r="2.4" fill="#1E7A1E" stroke="#0A3A0A" stroke-width="0.6" />
<circle cx="204.5" cy="285.2" r="2.3" fill="#1E7A1E" stroke="#0A3A0A" stroke-width="0.6" />
<circle cx="206" cy="287" r="2.3" fill="#1E7A1E" stroke="#0A3A0A" stroke-width="0.6" />
<circle cx="203" cy="287.5" r="2.3" fill="#1E7A1E" stroke="#0A3A0A" stroke-width="0.6" />
<circle cx="205.5" cy="283.5" r="2.3" fill="#1E7A1E" stroke="#0A3A0A" stroke-width="0.6" />
<circle cx="218" cy="280.3" r="2.3" fill="#2233EE" stroke="#000066" stroke-width="0.5" />
<circle cx="233.5" cy="282.8" r="2.1" fill="#444" stroke="#111" stroke-width="0.5" />
<circle cx="225" cy="276" r="2.2" fill="#C8C8C8" stroke="#666" stroke-width="0.5" />
<circle cx="227" cy="274" r="2.2" fill="#C8C8C8" stroke="#666" stroke-width="0.5" />
<circle cx="229" cy="272.5" r="2.2" fill="#C8C8C8" stroke="#666" stroke-width="0.5" />
<circle cx="231.5" cy="271.5" r="2.2" fill="#C8C8C8" stroke="#666" stroke-width="0.5" />
<circle cx="233" cy="270.5" r="2.2" fill="#C8C8C8" stroke="#666" stroke-width="0.5" />
<circle cx="227.5" cy="277.5" r="2.2" fill="#C8C8C8" stroke="#666" stroke-width="0.5" />
<circle cx="232.3" cy="269.2" r="2.4" fill="#FF2222" stroke="#550000" stroke-width="0.5" />
<rect x="307" y="3.2" width="13.9" height="268.3" fill="#A52A2A" />
<rect x="307" y="5" width="13.9" height="0.5" fill="#B84444" opacity="0.5"/>
<rect x="307" y="8" width="13.9" height="0.5" fill="#B84444" opacity="0.5"/>
<rect x="307" y="11" width="13.9" height="0.5" fill="#B84444" opacity="0.5"/>
<rect x="307" y="14" width="13.9" height="0.5" fill="#B84444" opacity="0.5"/>
<rect x="307" y="17" width="13.9" height="0.5" fill="#B84444" opacity="0.5"/>
<rect x="307" y="20" width="13.9" height="0.5" fill="#B84444" opacity="0.5"/>
<rect x="307" y="23" width="13.9" height="0.5" fill="#B84444" opacity="0.5"/>
<rect x="307" y="26" width="13.9" height="0.5" fill="#B84444" opacity="0.5"/>
<rect x="307" y="29" width="13.9" height="0.5" fill="#B84444" opacity="0.5"/>
<rect x="307" y="32" width="13.9" height="0.5" fill="#B84444" opacity="0.5"/>
<rect x="307" y="35" width="13.9" height="0.5" fill="#B84444" opacity="0.5"/>
<rect x="307" y="38" width="13.9" height="0.5" fill="#B84444" opacity="0.5"/>
<rect x="307" y="41" width="13.9" height="0.5" fill="#B84444" opacity="0.5"/>
<rect x="307" y="44" width="13.9" height="0.5" fill="#B84444" opacity="0.5"/>
<rect x="307" y="47" width="13.9" height="0.5" fill="#B84444" opacity="0.5"/>
<rect x="307" y="50" width="13.9" height="0.5" fill="#B84444" opacity="0.5"/>
<rect x="307" y="53" width="13.9" height="0.5" fill="#B84444" opacity="0.5"/>
<rect x="307" y="56" width="13.9" height="0.5" fill="#B84444" opacity="0.5"/>
<rect x="307" y="59" width="13.9" height="0.5" fill="#B84444" opacity="0.5"/>
<rect x="307" y="62" width="13.9" height="0.5" fill="#B84444" opacity="0.5"/>
<rect x="307" y="65" width="13.9" height="0.5" fill="#B84444" opacity="0.5"/>
<rect x="307" y="68" width="13.9" height="0.5" fill="#B84444" opacity="0.5"/>
<rect x="307" y="71" width="13.9" height="0.5" fill="#B84444" opacity="0.5"/>
<rect x="307" y="74" width="13.9" height="0.5" fill="#B84444" opacity="0.5"/>
<rect x="307" y="77" width="13.9" height="0.5" fill="#B84444" opacity="0.5"/>
<rect x="307" y="80" width="13.9" height="0.5" fill="#B84444" opacity="0.5"/>
<rect x="307" y="83" width="13.9" height="0.5" fill="#B84444" opacity="0.5"/>
<rect x="307" y="86" width="13.9" height="0.5" fill="#B84444" opacity="0.5"/>
<rect x="307" y="89" width="13.9" height="0.5" fill="#B84444" opacity="0.5"/>
<rect x="307" y="92" width="13.9" height="0.5" fill="#B84444" opacity="0.5"/>
<rect x="307" y="95" width="13.9" height="0.5" fill="#B84444" opacity="0.5"/>
<rect x="307" y="98" width="13.9" height="0.5" fill="#B84444" opacity="0.5"/>
<rect x="307" y="101" width="13.9" height="0.5" fill="#B84444" opacity="0.5"/>
<rect x="307" y="104" width="13.9" height="0.5" fill="#B84444" opacity="0.5"/>
<rect x="307" y="107" width="13.9" height="0.5" fill="#B84444" opacity="0.5"/>
<rect x="307" y="110" width="13.9" height="0.5" fill="#B84444" opacity="0.5"/>
<rect x="307" y="113" width="13.9" height="0.5" fill="#B84444" opacity="0.5"/>
<rect x="307" y="116" width="13.9" height="0.5" fill="#B84444" opacity="0.5"/>
<rect x="307" y="119" width="13.9" height="0.5" fill="#B84444" opacity="0.5"/>
<rect x="307" y="122" width="13.9" height="0.5" fill="#B84444" opacity="0.5"/>
<rect x="307" y="125" width="13.9" height="0.5" fill="#B84444" opacity="0.5"/>
<rect x="307" y="128" width="13.9" height="0.5" fill="#B84444" opacity="0.5"/>
<rect x="307" y="131" width="13.9" height="0.5" fill="#B84444" opacity="0.5"/>
<rect x="307" y="134" width="13.9" height="0.5" fill="#B84444" opacity="0.5"/>
<rect x="307" y="137" width="13.9" height="0.5" fill="#B84444" opacity="0.5"/>
<rect x="307" y="140" width="13.9" height="0.5" fill="#B84444" opacity="0.5"/>
<rect x="307" y="143" width="13.9" height="0.5" fill="#B84444" opacity="0.5"/>
<rect x="307" y="146" width="13.9" height="0.5" fill="#B84444" opacity="0.5"/>
<rect x="307" y="149" width="13.9" height="0.5" fill="#B84444" opacity="0.5"/>
<rect x="307" y="152" width="13.9" height="0.5" fill="#B84444" opacity="0.5"/>
<rect x="307" y="155" width="13.9" height="0.5" fill="#B84444" opacity="0.5"/>
<rect x="307" y="158" width="13.9" height="0.5" fill="#B84444" opacity="0.5"/>
<rect x="307" y="161" width="13.9" height="0.5" fill="#B84444" opacity="0.5"/>
<rect x="307" y="164" width="13.9" height="0.5" fill="#B84444" opacity="0.5"/>
<rect x="307" y="167" width="13.9" height="0.5" fill="#B84444" opacity="0.5"/>
<rect x="307" y="170" width="13.9" height="0.5" fill="#B84444" opacity="0.5"/>
<rect x="307" y="173" width="13.9" height="0.5" fill="#B84444" opacity="0.5"/>
<rect x="307" y="176" width="13.9" height="0.5" fill="#B84444" opacity="0.5"/>
<rect x="307" y="179" width="13.9" height="0.5" fill="#B84444" opacity="0.5"/>
<rect x="307" y="182" width="13.9" height="0.5" fill="#B84444" opacity="0.5"/>
<rect x="307" y="185" width="13.9" height="0.5" fill="#B84444" opacity="0.5"/>
<rect x="307" y="188" width="13.9" height="0.5" fill="#B84444" opacity="0.5"/>
<rect x="307" y="191" width="13.9" height="0.5" fill="#B84444" opacity="0.5"/>
<rect x="307" y="194" width="13.9" height="0.5" fill="#B84444" opacity="0.5"/>
<rect x="307" y="197" width="13.9" height="0.5" fill="#B84444" opacity="0.5"/>
<rect x="307" y="200" width="13.9" height="0.5" fill="#B84444" opacity="0.5"/>
<rect x="307" y="203" width="13.9" height="0.5" fill="#B84444" opacity="0.5"/>
<rect x="307" y="206" width="13.9" height="0.5" fill="#B84444" opacity="0.5"/>
<rect x="307" y="209" width="13.9" height="0.5" fill="#B84444" opacity="0.5"/>
<rect x="307" y="212" width="13.9" height="0.5" fill="#B84444" opacity="0.5"/>
<rect x="307" y="215" width="13.9" height="0.5" fill="#B84444" opacity="0.5"/>
<rect x="307" y="218" width="13.9" height="0.5" fill="#B84444" opacity="0.5"/>
<rect x="307" y="221" width="13.9" height="0.5" fill="#B84444" opacity="0.5"/>
<rect x="307" y="224" width="13.9" height="0.5" fill="#B84444" opacity="0.5"/>
<rect x="307" y="227" width="13.9" height="0.5" fill="#B84444" opacity="0.5"/>
<rect x="307" y="230" width="13.9" height="0.5" fill="#B84444" opacity="0.5"/>
<rect x="307" y="233" width="13.9" height="0.5" fill="#B84444" opacity="0.5"/>
<rect x="307" y="236" width="13.9" height="0.5" fill="#B84444" opacity="0.5"/>
<rect x="307" y="239" width="13.9" height="0.5" fill="#B84444" opacity="0.5"/>
<rect x="307" y="242" width="13.9" height="0.5" fill="#B84444" opacity="0.5"/>
<rect x="307" y="245" width="13.9" height="0.5" fill="#B84444" opacity="0.5"/>
<rect x="307" y="248" width="13.9" height="0.5" fill="#B84444" opacity="0.5"/>
<rect x="307" y="251" width="13.9" height="0.5" fill="#B84444" opacity="0.5"/>
<rect x="307" y="254" width="13.9" height="0.5" fill="#B84444" opacity="0.5"/>
<rect x="307" y="257" width="13.9" height="0.5" fill="#B84444" opacity="0.5"/>
<rect x="307" y="260" width="13.9" height="0.5" fill="#B84444" opacity="0.5"/>
<rect x="307" y="263" width="13.9" height="0.5" fill="#B84444" opacity="0.5"/>
<rect x="307" y="266" width="13.9" height="0.5" fill="#B84444" opacity="0.5"/>
<rect x="307" y="269" width="13.9" height="0.5" fill="#B84444" opacity="0.5"/>
<rect x="307" y="271.5" width="13.9" height="8.1" fill="#C0C0C0" />
<rect x="307" y="279.6" width="13.9" height="1.4" fill="#006400" />
<rect x="307" y="281" width="13.9" height="2" fill="#000080" />
<rect x="307" y="283" width="13.9" height="5" fill="#00FF00" />
<rect x="307" y="288" width="13.9" height="4.7" fill="#7B68EE" />
<rect x="307" y="292.7" width="13.9" height="1.1" fill="#F08030" />
<text x="0" y="0" font-size="7.6" fill="#222" transform="translate(316.8,306.6) rotate(-90)">Pol</text>
<text x="329.2" y="59.7" font-size="7.4" fill="#222" >Genotype/cluster</text>
<text x="363.4" y="71.5" font-size="7" fill="#222" >GII.17</text>
<circle cx="336.8" cy="77.8" r="4.6" fill="#6680FF" stroke="#0033FF" stroke-width="1.6" />
<text x="355.7" y="80.3" font-size="7" fill="#222" >A</text>
<circle cx="336.8" cy="88.9" r="4.6" fill="#55AA88" stroke="#118855" stroke-width="1.6" />
<text x="355.7" y="91.4" font-size="7" fill="#222" >B</text>
<circle cx="336.8" cy="99.8" r="4.6" fill="#FFB860" stroke="#FF9900" stroke-width="1.6" />
<text x="355.7" y="102.3" font-size="7" fill="#222" >C</text>
<circle cx="336.8" cy="110.6" r="4.6" fill="#FF80FF" stroke="#FF33FF" stroke-width="1.6" />
<text x="355.7" y="113.1" font-size="7" fill="#222" >D</text>
<circle cx="336.8" cy="121.5" r="4.6" fill="#FF6655" stroke="#FF2200" stroke-width="1.6" />
<text x="355.7" y="124" font-size="7" fill="#222" >New</text>
<circle cx="336.8" cy="132.6" r="4.6" fill="#C0C0C0" stroke="#A0A0A0" stroke-width="1.6" />
<text x="355.7" y="135.1" font-size="7" fill="#222" >GII.3</text>
<line x1="372.6" y1="74.4" x2="372.6" y2="126" stroke="#333" stroke-width="0.8" />
<line x1="370.8" y1="74.4" x2="372.6" y2="74.4" stroke="#333" stroke-width="0.8" />
<line x1="370.8" y1="126" x2="372.6" y2="126" stroke="#333" stroke-width="0.8" />
<text x="331.6" y="154" font-size="8" fill="#222" >Pol</text>
<rect x="331.1" y="159" width="12.4" height="12.42" fill="#A52A2A" />
<text x="347.8" y="168" font-size="6.6" fill="#222" >GII.P17</text>
<rect x="331.1" y="171.42" width="12.4" height="12.42" fill="#C0C0C0" />
<text x="347.8" y="180.42" font-size="6.6" fill="#222" >GII.P3</text>
<rect x="331.1" y="183.84" width="12.4" height="12.42" fill="#00FF00" />
<text x="347.8" y="192.84" font-size="6.6" fill="#222" >GII.P13</text>
<rect x="331.1" y="196.26" width="12.4" height="12.42" fill="#FFFF00" />
<text x="347.8" y="205.26" font-size="6.6" fill="#222" >GII.P25</text>
<rect x="331.1" y="208.68" width="12.4" height="12.42" fill="#000080" />
<text x="347.8" y="217.68" font-size="6.6" fill="#222" >GII.P16</text>
<rect x="331.1" y="221.1" width="12.4" height="12.42" fill="#7B68EE" />
<text x="347.8" y="230.1" font-size="6.6" fill="#222" >GII.P31</text>
<rect x="331.1" y="233.52" width="12.4" height="12.42" fill="#FA8072" />
<text x="347.8" y="242.52" font-size="6.6" fill="#222" >GII.P38</text>
<rect x="331.1" y="245.94" width="12.4" height="12.42" fill="#000" />
<text x="347.8" y="254.94" font-size="6.6" fill="#222" >could not assign</text>
<polyline points="425,49.9 426.9,53.12 428.81,56.52 430.71,54.57 432.61,59.76 434.51,60.59 436.42,60.61 438.32,57.61 440.22,61.99 442.13,55.52 444.03,59.15 445.93,61.02 447.84,58.03 449.74,56.47 451.64,55.04 453.55,54.89 455.45,61.76 457.35,54.84 459.25,57.8 461.16,59.69 463.06,60.47 464.96,57.08 466.87,60.29 468.77,56.08 470.67,62.12 472.57,54.86 474.48,54.64 476.38,59.5 478.28,64.88 480.19,67.77 482.09,63.26 483.99,60.18 485.9,57.3 487.8,54.19 489.7,61.46 491.61,57.47 493.51,61.66 495.41,59.25 497.31,58.31 499.22,57.46 501.12,55.32 503.02,63.63 504.93,66.51 506.83,62.54 508.73,55.92 510.63,58.69 512.54,54.29 514.44,61.53 516.34,59.48 518.25,55.52 520.15,60.25 522.05,55.17 523.96,55.57 525.86,60.69 527.76,56.29 529.66,55.52 531.57,58.18 533.47,55.31 535.37,60.32 537.28,57.15 539.18,59.79 541.08,56.11 542.99,54.75 544.89,58.36 546.79,53.95 548.69,59.75 550.6,56.23 552.5,59.25 554.4,55.25 556.31,59.47 558.21,58.24 560.11,54.76 562.02,58.93 563.92,58.99 565.82,55.82 567.73,58.5 569.63,56.18 571.53,55.81 573.43,56.76 575.34,60.44 577.24,59.74 579.14,56.93 581.05,58.82 582.95,61.1 584.85,56.37 586.75,55.09 588.66,56.14 590.56,59.17 592.46,59.1 594.37,55.88 596.27,55.71 598.17,51.88 600.08,51.74 601.98,52.53 603.88,62.72 605.78,61.79 607.69,66.88 609.59,60.04 611.49,67.93 613.4,65.92 615.3,71.27 617.2,70.31 619.11,75.01 621.01,76.87 622.91,75.42 624.82,66.17 626.72,74.83 628.62,69.2 630.52,79.7 632.43,71.97 634.33,80.19 636.23,71.37 638.14,77.09 640.04,70.76 641.94,79.6 643.85,78.96 645.75,73.54 647.65,66.36 649.55,72.11 651.46,65.08 653.36,70.47 655.26,67.81 657.17,65.82 659.07,68.18 660.97,72.63 662.88,63.7 664.78,70.62 666.68,66.9 668.58,74.63 670.49,73.25 672.39,75.86 674.29,73.4 676.2,67.87 678.1,70.71 680,67.98" fill="none" stroke="#22E022" stroke-width="1.15" stroke-linejoin="round"/>
<polyline points="425,49.9 426.9,54.58 428.81,55.38 430.71,52.06 432.61,51.73 434.51,53.66 436.42,55.87 438.32,52.19 440.22,55.77 442.13,50.98 444.03,53.65 445.93,53.73 447.84,55.45 449.74,51.14 451.64,55.76 453.55,58.08 455.45,50.82 457.35,57.4 459.25,50.89 461.16,58.42 463.06,56.06 464.96,53.63 466.87,55.23 468.77,52.09 470.67,57.4 472.57,53.12 474.48,52.52 476.38,56.7 478.28,55.2 480.19,55.08 482.09,57.99 483.99,51.43 485.9,57.05 487.8,54.05 489.7,58.38 491.61,51.55 493.51,50.89 495.41,56.26 497.31,51.48 499.22,57.65 501.12,58.04 503.02,50.88 504.93,56.21 506.83,50.97 508.73,58.27 510.63,53.11 512.54,55.63 514.44,53.69 516.34,58.52 518.25,54.05 520.15,52.33 522.05,55.84 523.96,51.3 525.86,56.49 527.76,50.98 529.66,56.75 531.57,55.46 533.47,58.36 535.37,51.43 537.28,56.54 539.18,51.23 541.08,56.6 542.99,58.01 544.89,56.6 546.79,51.64 548.69,56.03 550.6,53.7 552.5,58.49 554.4,57.22 556.31,53.02 558.21,55.96 560.11,58.07 562.02,51.44 563.92,51.76 565.82,57.69 567.73,51.73 569.63,56.72 571.53,57.44 573.43,50.88 575.34,57.05 577.24,52.29 579.14,57.38 581.05,51.33 582.95,57.82 584.85,51.94 586.75,51.29 588.66,57.98 590.56,57.43 592.46,58.38 594.37,52.35 596.27,54.66 598.17,51.2 600.08,50.69 601.98,52.06 603.88,52.03 605.78,55.05 607.69,52.19 609.59,56.14 611.49,53.9 613.4,56.43 615.3,53.05 617.2,55.45 619.11,54.48 621.01,56.08 622.91,54.96 624.82,56.24 626.72,54.83 628.62,58.06 630.52,53.83 632.43,58.02 634.33,55.47 636.23,59.6 638.14,56.85 640.04,58.02 641.94,56.38 643.85,60.54 645.75,58.56 647.65,58.68 649.55,55.61 651.46,57.5 653.36,57.99 655.26,53.89 657.17,54.28 659.07,55.57 660.97,53.61 662.88,57.13 664.78,54.72 666.68,57.58 668.58,58.63 670.49,60.63 672.39,57.09 674.29,55.87 676.2,57.35 678.1,57 680,53.76" fill="none" stroke="#FF9A1A" stroke-width="1.15" stroke-linejoin="round"/>
<line x1="425" y1="48.9" x2="425" y2="97" stroke="#222" stroke-width="1.3" />
<line x1="425" y1="97" x2="684" y2="97" stroke="#222" stroke-width="1.3" />
<line x1="422.5" y1="49.9" x2="425" y2="49.9" stroke="#222" stroke-width="1.1" />
<text x="420" y="52.5" font-size="7.4" text-anchor="end" font-weight="bold" fill="#222" >1.0</text>
<line x1="422.5" y1="65.6" x2="425" y2="65.6" stroke="#222" stroke-width="1.1" />
<text x="420" y="68.2" font-size="7.4" text-anchor="end" font-weight="bold" fill="#222" >0.8</text>
<line x1="422.5" y1="81.3" x2="425" y2="81.3" stroke="#222" stroke-width="1.1" />
<text x="420" y="83.9" font-size="7.4" text-anchor="end" font-weight="bold" fill="#222" >0.6</text>
<line x1="422.5" y1="97" x2="425" y2="97" stroke="#222" stroke-width="1.1" />
<text x="420" y="99.6" font-size="7.4" text-anchor="end" font-weight="bold" fill="#222" >0.4</text>
<line x1="425" y1="97" x2="425" y2="99.6" stroke="#222" stroke-width="1.1" />
<text x="425" y="109.5" font-size="7.4" text-anchor="middle" font-weight="bold" fill="#222" >0</text>
<line x1="442.3" y1="97" x2="442.3" y2="98.8" stroke="#222" stroke-width="1.1" />
<line x1="459.6" y1="97" x2="459.6" y2="99.6" stroke="#222" stroke-width="1.1" />
<text x="459.6" y="109.5" font-size="7.4" text-anchor="middle" font-weight="bold" fill="#222" >1000</text>
<line x1="476.9" y1="97" x2="476.9" y2="98.8" stroke="#222" stroke-width="1.1" />
<line x1="494.2" y1="97" x2="494.2" y2="99.6" stroke="#222" stroke-width="1.1" />
<text x="494.2" y="109.5" font-size="7.4" text-anchor="middle" font-weight="bold" fill="#222" >2000</text>
<line x1="511.5" y1="97" x2="511.5" y2="98.8" stroke="#222" stroke-width="1.1" />
<line x1="528.8" y1="97" x2="528.8" y2="99.6" stroke="#222" stroke-width="1.1" />
<text x="528.8" y="109.5" font-size="7.4" text-anchor="middle" font-weight="bold" fill="#222" >3000</text>
<line x1="546.1" y1="97" x2="546.1" y2="98.8" stroke="#222" stroke-width="1.1" />
<line x1="563.4" y1="97" x2="563.4" y2="99.6" stroke="#222" stroke-width="1.1" />
<text x="563.4" y="109.5" font-size="7.4" text-anchor="middle" font-weight="bold" fill="#222" >4000</text>
<line x1="580.7" y1="97" x2="580.7" y2="98.8" stroke="#222" stroke-width="1.1" />
<line x1="598" y1="97" x2="598" y2="99.6" stroke="#222" stroke-width="1.1" />
<text x="598" y="109.5" font-size="7.4" text-anchor="middle" font-weight="bold" fill="#222" >5000</text>
<line x1="615.3" y1="97" x2="615.3" y2="98.8" stroke="#222" stroke-width="1.1" />
<line x1="632.6" y1="97" x2="632.6" y2="99.6" stroke="#222" stroke-width="1.1" />
<text x="632.6" y="109.5" font-size="7.4" text-anchor="middle" font-weight="bold" fill="#222" >6000</text>
<line x1="649.9" y1="97" x2="649.9" y2="98.8" stroke="#222" stroke-width="1.1" />
<line x1="667.2" y1="97" x2="667.2" y2="99.6" stroke="#222" stroke-width="1.1" />
<text x="667.2" y="109.5" font-size="7.4" text-anchor="middle" font-weight="bold" fill="#222" >7000</text>
<text x="497.3" y="41.6" font-size="7.48" font-weight="bold" fill="#222" >Query: 144/Germany/2024 (New)</text>
<text x="0" y="0" font-size="8.5" text-anchor="middle" font-weight="bold" fill="#222" transform="translate(406,71.8) rotate(-90)">Similarity</text>
<rect x="424.4" y="116" width="177.8" height="8.4" fill="#E8E8E8" stroke="#333" stroke-width="0.8" />
<rect x="598" y="112.5" width="59.2" height="7.7" fill="#E8E8E8" stroke="#333" stroke-width="0.8" />
<rect x="656.5" y="115.8" width="22.4" height="8.4" fill="#E8E8E8" stroke="#333" stroke-width="0.8" />
<text x="513" y="122.4" font-size="5.2" text-anchor="middle" fill="#333" >ORF1</text>
<text x="628.1" y="118.1" font-size="5.2" text-anchor="middle" fill="#333" >ORF2</text>
<text x="667.7" y="121.4" font-size="5.2" text-anchor="middle" fill="#333" >ORF3</text>
<polyline points="425,145.1 426.9,151.23 428.81,149.62 430.71,155.75 432.61,150.69 434.51,156.26 436.42,150.61 438.32,155.13 440.22,159 442.13,151.42 444.03,154.99 445.93,153.74 447.84,155.92 449.74,152.04 451.64,158.39 453.55,151.3 455.45,157.61 457.35,152.79 459.25,149.83 461.16,151.01 463.06,155.77 464.96,153.62 466.87,152.26 468.77,152.31 470.67,150.43 472.57,155.63 474.48,156.67 476.38,156.36 478.28,151.31 480.19,152.75 482.09,156.06 483.99,157.76 485.9,152.83 487.8,154.93 489.7,155.39 491.61,152.01 493.51,157.57 495.41,151.22 497.31,156.31 499.22,152.69 501.12,150.58 503.02,158.09 504.93,152.19 506.83,151.21 508.73,158.45 510.63,152.7 512.54,152.42 514.44,154.84 516.34,151.43 518.25,156.86 520.15,151.92 522.05,151.8 523.96,157.83 525.86,153.05 527.76,150.51 529.66,155.2 531.57,158.04 533.47,150 535.37,151.31 537.28,154.82 539.18,149.95 541.08,157.06 542.99,150.47 544.89,155.49 546.79,150.86 548.69,155.22 550.6,150.36 552.5,155.39 554.4,155.1 556.31,152.51 558.21,154.54 560.11,152.13 562.02,154.78 563.92,150.21 565.82,151.06 567.73,156.4 569.63,153.32 571.53,157.56 573.43,157.73 575.34,151.13 577.24,156.85 579.14,149.81 581.05,156.16 582.95,157.41 584.85,156.69 586.75,157.43 588.66,150.93 590.56,150.27 592.46,156.94 594.37,156.15 596.27,148.76 598.17,146.57 600.08,146.53 601.98,147.14 603.88,149.3 605.78,149.45 607.69,154.15 609.59,149.09 611.49,153.6 613.4,150.68 615.3,153.42 617.2,148.84 619.11,152.16 621.01,149.65 622.91,152.73 624.82,154.17 626.72,149.22 628.62,154.31 630.52,150.64 632.43,149.33 634.33,150.89 636.23,153.56 638.14,150.69 640.04,149.75 641.94,149.53 643.85,153.38 645.75,151.55 647.65,154.19 649.55,151.05 651.46,155.51 653.36,154.47 655.26,152.53 657.17,152.57 659.07,151.13 660.97,155.66 662.88,152.48 664.78,153.62 666.68,154.28 668.58,152.9 670.49,154.98 672.39,151.3 674.29,150.5 676.2,154.46 678.1,152.83 680,155.35" fill="none" stroke="#22E022" stroke-width="1.15" stroke-linejoin="round"/>
<polyline points="425,147.2 426.9,148.96 428.81,151.61 430.71,150.03 432.61,153.79 434.51,158.22 436.42,151.3 438.32,150.95 440.22,154.06 442.13,145.27 444.03,147.62 445.93,149.25 447.84,148.25 449.74,155.57 451.64,152.85 453.55,152.05 455.45,148.51 457.35,150.95 459.25,154.36 461.16,157.09 463.06,150.22 464.96,159.29 466.87,150.72 468.77,158.97 470.67,154.02 472.57,157.3 474.48,153.16 476.38,155.61 478.28,154.53 480.19,159.94 482.09,157.7 483.99,160.27 485.9,153.01 487.8,152.88 489.7,151.09 491.61,148.16 493.51,152.08 495.41,158.72 497.31,150.87 499.22,158.29 501.12,152.63 503.02,153.07 504.93,146.32 506.83,156.5 508.73,151.49 510.63,159.3 512.54,154.76 514.44,157.11 516.34,152.26 518.25,152.5 520.15,154.82 522.05,160.96 523.96,147.83 525.86,155.44 527.76,153.5 529.66,156.22 531.57,154.97 533.47,156.83 535.37,146.98 537.28,151.64 539.18,149.1 541.08,151.63 542.99,156.98 544.89,156.95 546.79,149.07 548.69,154.18 550.6,149.04 552.5,156.18 554.4,151.9 556.31,150.93 558.21,150.26 560.11,147.73 562.02,152.02 563.92,149.54 565.82,150.25 567.73,153.89 569.63,154.63 571.53,153.21 573.43,158.65 575.34,160.64 577.24,152.35 579.14,158.13 581.05,147.83 582.95,150.21 584.85,152.08 586.75,148.59 588.66,150.84 590.56,146.14 592.46,156.95 594.37,151.45 596.27,153.75 598.17,147.96 600.08,152.71 601.98,150.95 603.88,148.36 605.78,150.19 607.69,161.42 609.59,155.02 611.49,156.26 613.4,163.04 615.3,163.34 617.2,162.02 619.11,154.52 621.01,154.7 622.91,167.27 624.82,162.54 626.72,157.26 628.62,170.43 630.52,161.06 632.43,163.32 634.33,159.27 636.23,172.44 638.14,165.83 640.04,170.2 641.94,167.07 643.85,177.01 645.75,171.15 647.65,171.46 649.55,163.87 651.46,172.68 653.36,157.03 655.26,159.35 657.17,162.88 659.07,156.91 660.97,164.93 662.88,160.91 664.78,163.94 666.68,155.84 668.58,170.56 670.49,187.2 672.39,179.14 674.29,164.47 676.2,165.57 678.1,160.11 680,164.37" fill="none" stroke="#FF3311" stroke-width="1.15" stroke-linejoin="round"/>
<polyline points="425,145.1 426.9,146.86 428.81,151.49 430.71,150.73 432.61,151.93 434.51,154.32 436.42,150.66 438.32,149.92 440.22,154.58 442.13,148.83 444.03,149.11 445.93,149.37 447.84,149.18 449.74,156.95 451.64,149.35 453.55,155.19 455.45,150.71 457.35,153.89 459.25,156.7 461.16,156.25 463.06,149.42 464.96,156.18 466.87,151.77 468.77,155.54 470.67,150.63 472.57,155.01 474.48,150.51 476.38,154.35 478.28,151.02 480.19,156.02 482.09,154.96 483.99,157.14 485.9,151.94 487.8,149.16 489.7,154.03 491.61,149.05 493.51,149.32 495.41,156.77 497.31,149.68 499.22,157.22 501.12,149.67 503.02,155.81 504.93,150.2 506.83,156.23 508.73,151.36 510.63,156.05 512.54,151.64 514.44,155.88 516.34,150.42 518.25,155.08 520.15,152.16 522.05,157.22 523.96,151.37 525.86,155.66 527.76,150.73 529.66,156.56 531.57,151.25 533.47,157.06 535.37,150.73 537.28,154.49 539.18,150.64 541.08,149.75 542.99,155.94 544.89,154.34 546.79,151.2 548.69,154.44 550.6,151.23 552.5,154.84 554.4,149.73 556.31,153.38 558.21,154.06 560.11,150.5 562.02,154.42 563.92,152.04 565.82,152.13 567.73,151.75 569.63,154.77 571.53,152.08 573.43,154.95 575.34,156.93 577.24,150.62 579.14,156.24 581.05,149.34 582.95,153.8 584.85,151.67 586.75,152.02 588.66,154.67 590.56,149.71 592.46,155.89 594.37,149.25 596.27,151.6 598.17,145.58 600.08,150.39 601.98,151.92 603.88,151.5 605.78,152.86 607.69,161.26 609.59,156.23 611.49,158.61 613.4,159.78 615.3,164.61 617.2,165.24 619.11,156.74 621.01,156.67 622.91,167.1 624.82,160.02 626.72,159.53 628.62,169.11 630.52,163.42 632.43,167.03 634.33,158.45 636.23,171.66 638.14,169.33 640.04,171.96 641.94,164.48 643.85,174.08 645.75,168.42 647.65,174.64 649.55,166.28 651.46,169.9 653.36,159.59 655.26,163.12 657.17,164.12 659.07,155.73 660.97,165.31 662.88,158.01 664.78,160.13 666.68,159.53 668.58,171.73 670.49,187.41 672.39,182.55 674.29,163.95 676.2,168.49 678.1,162.67 680,162.1" fill="none" stroke="#FF9A1A" stroke-width="1.15" stroke-linejoin="round"/>
<line x1="425" y1="144.1" x2="425" y2="192.2" stroke="#222" stroke-width="1.3" />
<line x1="425" y1="192.2" x2="684" y2="192.2" stroke="#222" stroke-width="1.3" />
<line x1="422.5" y1="145.1" x2="425" y2="145.1" stroke="#222" stroke-width="1.1" />
<text x="420" y="147.7" font-size="7.4" text-anchor="end" font-weight="bold" fill="#222" >1.0</text>
<line x1="422.5" y1="160.8" x2="425" y2="160.8" stroke="#222" stroke-width="1.1" />
<text x="420" y="163.4" font-size="7.4" text-anchor="end" font-weight="bold" fill="#222" >0.8</text>
<line x1="422.5" y1="176.5" x2="425" y2="176.5" stroke="#222" stroke-width="1.1" />
<text x="420" y="179.1" font-size="7.4" text-anchor="end" font-weight="bold" fill="#222" >0.6</text>
<line x1="422.5" y1="192.2" x2="425" y2="192.2" stroke="#222" stroke-width="1.1" />
<text x="420" y="194.8" font-size="7.4" text-anchor="end" font-weight="bold" fill="#222" >0.4</text>
<line x1="425" y1="192.2" x2="425" y2="194.8" stroke="#222" stroke-width="1.1" />
<text x="425" y="204.7" font-size="7.4" text-anchor="middle" font-weight="bold" fill="#222" >0</text>
<line x1="442.3" y1="192.2" x2="442.3" y2="194" stroke="#222" stroke-width="1.1" />
<line x1="459.6" y1="192.2" x2="459.6" y2="194.8" stroke="#222" stroke-width="1.1" />
<text x="459.6" y="204.7" font-size="7.4" text-anchor="middle" font-weight="bold" fill="#222" >1000</text>
<line x1="476.9" y1="192.2" x2="476.9" y2="194" stroke="#222" stroke-width="1.1" />
<line x1="494.2" y1="192.2" x2="494.2" y2="194.8" stroke="#222" stroke-width="1.1" />
<text x="494.2" y="204.7" font-size="7.4" text-anchor="middle" font-weight="bold" fill="#222" >2000</text>
<line x1="511.5" y1="192.2" x2="511.5" y2="194" stroke="#222" stroke-width="1.1" />
<line x1="528.8" y1="192.2" x2="528.8" y2="194.8" stroke="#222" stroke-width="1.1" />
<text x="528.8" y="204.7" font-size="7.4" text-anchor="middle" font-weight="bold" fill="#222" >3000</text>
<line x1="546.1" y1="192.2" x2="546.1" y2="194" stroke="#222" stroke-width="1.1" />
<line x1="563.4" y1="192.2" x2="563.4" y2="194.8" stroke="#222" stroke-width="1.1" />
<text x="563.4" y="204.7" font-size="7.4" text-anchor="middle" font-weight="bold" fill="#222" >4000</text>
<line x1="580.7" y1="192.2" x2="580.7" y2="194" stroke="#222" stroke-width="1.1" />
<line x1="598" y1="192.2" x2="598" y2="194.8" stroke="#222" stroke-width="1.1" />
<text x="598" y="204.7" font-size="7.4" text-anchor="middle" font-weight="bold" fill="#222" >5000</text>
<line x1="615.3" y1="192.2" x2="615.3" y2="194" stroke="#222" stroke-width="1.1" />
<line x1="632.6" y1="192.2" x2="632.6" y2="194.8" stroke="#222" stroke-width="1.1" />
<text x="632.6" y="204.7" font-size="7.4" text-anchor="middle" font-weight="bold" fill="#222" >6000</text>
<line x1="649.9" y1="192.2" x2="649.9" y2="194" stroke="#222" stroke-width="1.1" />
<line x1="667.2" y1="192.2" x2="667.2" y2="194.8" stroke="#222" stroke-width="1.1" />
<text x="667.2" y="204.7" font-size="7.4" text-anchor="middle" font-weight="bold" fill="#222" >7000</text>
<text x="478.7" y="136.8" font-size="7.48" font-weight="bold" fill="#222" >Query: CA-RGDS-1180/US/2023 (Cluster B)</text>
<text x="0" y="0" font-size="8.5" text-anchor="middle" font-weight="bold" fill="#222" transform="translate(406,167) rotate(-90)">Similarity</text>
<rect x="424.4" y="211.2" width="177.8" height="8.4" fill="#E8E8E8" stroke="#333" stroke-width="0.8" />
<rect x="598" y="207.7" width="59.2" height="7.7" fill="#E8E8E8" stroke="#333" stroke-width="0.8" />
<rect x="656.5" y="211" width="22.4" height="8.4" fill="#E8E8E8" stroke="#333" stroke-width="0.8" />
<text x="513" y="217.6" font-size="5.2" text-anchor="middle" fill="#333" >ORF1</text>
<text x="628.1" y="213.3" font-size="5.2" text-anchor="middle" fill="#333" >ORF2</text>
<text x="667.7" y="216.6" font-size="5.2" text-anchor="middle" fill="#333" >ORF3</text>
<line x1="498.6" y1="239.4" x2="513.5" y2="239.4" stroke="#22E022" stroke-width="2.6" />
<text x="520.4" y="242.7" font-size="9.55" fill="#222" >GII.P3: DS284/Saudi Arabia/1990 (B)</text>
<line x1="498.6" y1="254.3" x2="513.5" y2="254.3" stroke="#FF9A1A" stroke-width="2.6" />
<text x="520.4" y="257.6" font-size="9.55" fill="#222" >GII.P17:Kawasaki323/Japan/2014 (C)</text>
<line x1="498.6" y1="268.7" x2="513.5" y2="268.7" stroke="#FF3311" stroke-width="2.6" />
<text x="520.4" y="272" font-size="9.55" fill="#222" >GII.P17: 144/Germany/2024 (New)</text>
<line x1="46.4" y1="410.4" x2="62.3" y2="410.4" stroke="#000" stroke-width="1.3" />
<line x1="62.3" y1="359.7" x2="62.3" y2="461.5" stroke="#000" stroke-width="1.3" />
<line x1="62.3" y1="359.7" x2="80" y2="359.7" stroke="#000" stroke-width="1.3" />
<line x1="62.3" y1="461.5" x2="78.3" y2="461.5" stroke="#000" stroke-width="1.3" />
<line x1="85.6" y1="314.6" x2="85.6" y2="436" stroke="#000" stroke-width="1.3" />
<line x1="85.6" y1="436" x2="101" y2="436" stroke="#000" stroke-width="1.3" />
<line x1="92.4" y1="314.6" x2="92.4" y2="397" stroke="#000" stroke-width="1.3" />
<line x1="97.5" y1="373" x2="97.5" y2="426" stroke="#000" stroke-width="1.3" />
<line x1="97.5" y1="373" x2="104" y2="373" stroke="#000" stroke-width="1.3" />
<line x1="111.2" y1="314.6" x2="111.2" y2="372" stroke="#000" stroke-width="1.3" />
<line x1="110.8" y1="378" x2="110.8" y2="416.8" stroke="#000" stroke-width="1.3" />
<line x1="110.8" y1="416.8" x2="114" y2="416.8" stroke="#000" stroke-width="1.3" />
<line x1="78.3" y1="456" x2="78.3" y2="465" stroke="#000" stroke-width="1.3" />
<line x1="78.3" y1="456" x2="84" y2="456" stroke="#000" stroke-width="1.3" />
<line x1="78.3" y1="465" x2="84" y2="465" stroke="#000" stroke-width="1.3" />
<line x1="85.6" y1="449" x2="85.6" y2="455" stroke="#000" stroke-width="1.3" />
<line x1="85.6" y1="449" x2="90" y2="449" stroke="#000" stroke-width="1.3" />
<rect x="139.2" y="314.5" width="13.8" height="124.5" fill="#A52A2A" />
<rect x="139.2" y="316" width="13.8" height="0.5" fill="#B84444" opacity="0.5"/>
<rect x="139.2" y="319" width="13.8" height="0.5" fill="#B84444" opacity="0.5"/>
<rect x="139.2" y="322" width="13.8" height="0.5" fill="#B84444" opacity="0.5"/>
<rect x="139.2" y="325" width="13.8" height="0.5" fill="#B84444" opacity="0.5"/>
<rect x="139.2" y="328" width="13.8" height="0.5" fill="#B84444" opacity="0.5"/>
<rect x="139.2" y="331" width="13.8" height="0.5" fill="#B84444" opacity="0.5"/>
<rect x="139.2" y="334" width="13.8" height="0.5" fill="#B84444" opacity="0.5"/>
<rect x="139.2" y="337" width="13.8" height="0.5" fill="#B84444" opacity="0.5"/>
<rect x="139.2" y="340" width="13.8" height="0.5" fill="#B84444" opacity="0.5"/>
<rect x="139.2" y="343" width="13.8" height="0.5" fill="#B84444" opacity="0.5"/>
<rect x="139.2" y="346" width="13.8" height="0.5" fill="#B84444" opacity="0.5"/>
<rect x="139.2" y="349" width="13.8" height="0.5" fill="#B84444" opacity="0.5"/>
<rect x="139.2" y="352" width="13.8" height="0.5" fill="#B84444" opacity="0.5"/>
<rect x="139.2" y="355" width="13.8" height="0.5" fill="#B84444" opacity="0.5"/>
<rect x="139.2" y="358" width="13.8" height="0.5" fill="#B84444" opacity="0.5"/>
<rect x="139.2" y="361" width="13.8" height="0.5" fill="#B84444" opacity="0.5"/>
<rect x="139.2" y="364" width="13.8" height="0.5" fill="#B84444" opacity="0.5"/>
<rect x="139.2" y="367" width="13.8" height="0.5" fill="#B84444" opacity="0.5"/>
<rect x="139.2" y="370" width="13.8" height="0.5" fill="#B84444" opacity="0.5"/>
<rect x="139.2" y="373" width="13.8" height="0.5" fill="#B84444" opacity="0.5"/>
<rect x="139.2" y="376" width="13.8" height="0.5" fill="#B84444" opacity="0.5"/>
<rect x="139.2" y="379" width="13.8" height="0.5" fill="#B84444" opacity="0.5"/>
<rect x="139.2" y="382" width="13.8" height="0.5" fill="#B84444" opacity="0.5"/>
<rect x="139.2" y="385" width="13.8" height="0.5" fill="#B84444" opacity="0.5"/>
<rect x="139.2" y="388" width="13.8" height="0.5" fill="#B84444" opacity="0.5"/>
<rect x="139.2" y="391" width="13.8" height="0.5" fill="#B84444" opacity="0.5"/>
<rect x="139.2" y="394" width="13.8" height="0.5" fill="#B84444" opacity="0.5"/>
<rect x="139.2" y="397" width="13.8" height="0.5" fill="#B84444" opacity="0.5"/>
<rect x="139.2" y="400" width="13.8" height="0.5" fill="#B84444" opacity="0.5"/>
<rect x="139.2" y="403" width="13.8" height="0.5" fill="#B84444" opacity="0.5"/>
<rect x="139.2" y="406" width="13.8" height="0.5" fill="#B84444" opacity="0.5"/>
<rect x="139.2" y="409" width="13.8" height="0.5" fill="#B84444" opacity="0.5"/>
<rect x="139.2" y="412" width="13.8" height="0.5" fill="#B84444" opacity="0.5"/>
<rect x="139.2" y="415" width="13.8" height="0.5" fill="#B84444" opacity="0.5"/>
<rect x="139.2" y="418" width="13.8" height="0.5" fill="#B84444" opacity="0.5"/>
<rect x="139.2" y="421" width="13.8" height="0.5" fill="#B84444" opacity="0.5"/>
<rect x="139.2" y="424" width="13.8" height="0.5" fill="#B84444" opacity="0.5"/>
<rect x="139.2" y="427" width="13.8" height="0.5" fill="#B84444" opacity="0.5"/>
<rect x="139.2" y="430" width="13.8" height="0.5" fill="#B84444" opacity="0.5"/>
<rect x="139.2" y="433" width="13.8" height="0.5" fill="#B84444" opacity="0.5"/>
<rect x="139.2" y="436" width="13.8" height="0.5" fill="#B84444" opacity="0.5"/>
<rect x="139.2" y="439" width="13.8" height="28" fill="#C0C0C0" />
<rect x="114.5" y="314.5" width="6" height="66" fill="#8B0000" />
<rect x="112.5" y="380" width="6" height="48" fill="#8B0000" />
<circle cx="116.81" cy="315" r="2.5" fill="#D80808" stroke="#550000" stroke-width="0.6" />
<circle cx="116.74" cy="317.59" r="2.5" fill="#D80808" stroke="#550000" stroke-width="0.6" />
<circle cx="116.86" cy="320.76" r="2.5" fill="#D80808" stroke="#550000" stroke-width="0.6" />
<circle cx="116.09" cy="323.6" r="2.5" fill="#D80808" stroke="#550000" stroke-width="0.6" />
<circle cx="117.42" cy="327.42" r="2.5" fill="#D80808" stroke="#550000" stroke-width="0.6" />
<circle cx="118.8" cy="330.33" r="2.5" fill="#D80808" stroke="#550000" stroke-width="0.6" />
<circle cx="117.82" cy="334.14" r="2.5" fill="#D80808" stroke="#550000" stroke-width="0.6" />
<circle cx="118.31" cy="337.98" r="2.5" fill="#D80808" stroke="#550000" stroke-width="0.6" />
<circle cx="118.44" cy="341.04" r="2.5" fill="#D80808" stroke="#550000" stroke-width="0.6" />
<circle cx="117.94" cy="343.08" r="2.5" fill="#D80808" stroke="#550000" stroke-width="0.6" />
<circle cx="115.32" cy="345.44" r="2.5" fill="#D80808" stroke="#550000" stroke-width="0.6" />
<circle cx="116.33" cy="349.04" r="2.5" fill="#D80808" stroke="#550000" stroke-width="0.6" />
<circle cx="119.65" cy="351.99" r="2.5" fill="#D80808" stroke="#550000" stroke-width="0.6" />
<circle cx="117.26" cy="355.1" r="2.5" fill="#D80808" stroke="#550000" stroke-width="0.6" />
<circle cx="118.63" cy="358.14" r="2.5" fill="#D80808" stroke="#550000" stroke-width="0.6" />
<circle cx="115.94" cy="361.71" r="2.5" fill="#D80808" stroke="#550000" stroke-width="0.6" />
<circle cx="116.79" cy="364.83" r="2.5" fill="#D80808" stroke="#550000" stroke-width="0.6" />
<circle cx="119.93" cy="367.38" r="2.5" fill="#D80808" stroke="#550000" stroke-width="0.6" />
<circle cx="118.67" cy="370.4" r="2.5" fill="#D80808" stroke="#550000" stroke-width="0.6" />
<circle cx="120.77" cy="373.92" r="2.5" fill="#D80808" stroke="#550000" stroke-width="0.6" />
<circle cx="118.98" cy="376.8" r="2.5" fill="#D80808" stroke="#550000" stroke-width="0.6" />
<circle cx="117.07" cy="379.82" r="2.5" fill="#D80808" stroke="#550000" stroke-width="0.6" />
<circle cx="116.71" cy="383.2" r="2.5" fill="#D80808" stroke="#550000" stroke-width="0.6" />
<circle cx="116.87" cy="386.27" r="2.5" fill="#D80808" stroke="#550000" stroke-width="0.6" />
<circle cx="118.2" cy="390.15" r="2.5" fill="#D80808" stroke="#550000" stroke-width="0.6" />
<circle cx="119.65" cy="393.9" r="2.5" fill="#D80808" stroke="#550000" stroke-width="0.6" />
<circle cx="117.36" cy="396.42" r="2.5" fill="#D80808" stroke="#550000" stroke-width="0.6" />
<circle cx="119.04" cy="400.31" r="2.5" fill="#D80808" stroke="#550000" stroke-width="0.6" />
<circle cx="114.73" cy="402.58" r="2.5" fill="#D80808" stroke="#550000" stroke-width="0.6" />
<circle cx="114.44" cy="405.47" r="2.5" fill="#D80808" stroke="#550000" stroke-width="0.6" />
<circle cx="114.44" cy="407.95" r="2.5" fill="#D80808" stroke="#550000" stroke-width="0.6" />
<circle cx="118.7" cy="411.29" r="2.5" fill="#D80808" stroke="#550000" stroke-width="0.6" />
<circle cx="114.93" cy="415.08" r="2.5" fill="#D80808" stroke="#550000" stroke-width="0.6" />
<circle cx="117.96" cy="418.51" r="2.5" fill="#D80808" stroke="#550000" stroke-width="0.6" />
<circle cx="119.3" cy="420.8" r="2.5" fill="#D80808" stroke="#550000" stroke-width="0.6" />
<circle cx="115.32" cy="424.74" r="2.5" fill="#D80808" stroke="#550000" stroke-width="0.6" />
<circle cx="122" cy="325" r="2.7" fill="#FF1A1A" stroke="#770000" stroke-width="0.6" />
<circle cx="121" cy="345" r="2.7" fill="#FF1A1A" stroke="#770000" stroke-width="0.6" />
<circle cx="120.5" cy="357" r="2.7" fill="#FF1A1A" stroke="#770000" stroke-width="0.6" />
<circle cx="120" cy="369" r="2.7" fill="#FF1A1A" stroke="#770000" stroke-width="0.6" />
<circle cx="118.5" cy="392" r="2.7" fill="#FF1A1A" stroke="#770000" stroke-width="0.6" />
<circle cx="121" cy="405" r="2.7" fill="#FF1A1A" stroke="#770000" stroke-width="0.6" />
<circle cx="121.5" cy="418" r="2.7" fill="#FF1A1A" stroke="#770000" stroke-width="0.6" />
<circle cx="107.9" cy="425.4" r="2.6" fill="#FF1A1A" stroke="#770000" stroke-width="0.6" />
<circle cx="119.8" cy="430.5" r="2.7" fill="#1E7A1E" stroke="#0A3A0A" stroke-width="0.7" />
<circle cx="119.5" cy="434.5" r="2.7" fill="#1E7A1E" stroke="#0A3A0A" stroke-width="0.7" />
<circle cx="118" cy="437.5" r="2.7" fill="#1E7A1E" stroke="#0A3A0A" stroke-width="0.7" />
<circle cx="93.3" cy="466" r="2.7" fill="#1E7A1E" stroke="#0A3A0A" stroke-width="0.7" />
<circle cx="101" cy="441" r="2.7" fill="#C4C4C4" stroke="#777" stroke-width="0.6" />
<circle cx="98" cy="443.5" r="2.7" fill="#C4C4C4" stroke="#777" stroke-width="0.6" />
<circle cx="95.5" cy="446" r="2.7" fill="#C4C4C4" stroke="#777" stroke-width="0.6" />
<circle cx="93" cy="449" r="2.7" fill="#C4C4C4" stroke="#777" stroke-width="0.6" />
<circle cx="91" cy="451.5" r="2.7" fill="#C4C4C4" stroke="#777" stroke-width="0.6" />
<circle cx="88" cy="454" r="2.7" fill="#C4C4C4" stroke="#777" stroke-width="0.6" />
<circle cx="86.5" cy="457" r="2.7" fill="#C4C4C4" stroke="#777" stroke-width="0.6" />
<circle cx="85" cy="460" r="2.7" fill="#C4C4C4" stroke="#777" stroke-width="0.6" />
<circle cx="88.5" cy="462" r="2.7" fill="#C4C4C4" stroke="#777" stroke-width="0.6" />
<circle cx="91.5" cy="459" r="2.7" fill="#C4C4C4" stroke="#777" stroke-width="0.6" />
<circle cx="104" cy="439.5" r="2.7" fill="#C4C4C4" stroke="#777" stroke-width="0.6" />
<circle cx="96" cy="452" r="2.7" fill="#C4C4C4" stroke="#777" stroke-width="0.6" />
<circle cx="85.6" cy="360.7" r="7.2" fill="#fff" stroke="#111" stroke-width="1" />
<text x="85.6" y="364.6" font-size="11" text-anchor="middle" fill="#222" >1</text>
<circle cx="104.8" cy="374.3" r="7.2" fill="#fff" stroke="#111" stroke-width="1" />
<text x="104.8" y="378.2" font-size="11" text-anchor="middle" fill="#222" >5</text>
<circle cx="113.9" cy="372.1" r="7.2" fill="#fff" stroke="#111" stroke-width="1" />
<text x="113.9" y="376" font-size="11" text-anchor="middle" fill="#222" >6</text>
<circle cx="97.5" cy="402.2" r="7.2" fill="#fff" stroke="#111" stroke-width="1" />
<text x="97.5" y="406.1" font-size="11" text-anchor="middle" fill="#222" >3</text>
<circle cx="97.3" cy="426.3" r="7.2" fill="#fff" stroke="#111" stroke-width="1" />
<text x="97.3" y="430.2" font-size="11" text-anchor="middle" fill="#222" >4</text>
<circle cx="107.9" cy="436" r="7.2" fill="#fff" stroke="#111" stroke-width="1" />
<text x="107.9" y="439.9" font-size="11" text-anchor="middle" fill="#222" >2</text>
<rect x="203.2" y="455.4" width="376.2" height="14.6" fill="#E6E6E6" stroke="#222" stroke-width="0.9" />
<line x1="203.2" y1="470" x2="579.6" y2="470" stroke="#111" stroke-width="1.6" />
<line x1="203.2" y1="399.7" x2="203.2" y2="470" stroke="#111" stroke-width="1.6" />
<line x1="201" y1="402.6" x2="203.2" y2="402.6" stroke="#111" stroke-width="1.2" />
<text x="201" y="406.3" font-size="10.3" text-anchor="end" font-weight="bold" fill="#111" >6</text>
<line x1="201" y1="411.1" x2="203.2" y2="411.1" stroke="#111" stroke-width="1.2" />
<text x="201" y="414.8" font-size="10.3" text-anchor="end" font-weight="bold" fill="#111" >5</text>
<line x1="201" y1="419.5" x2="203.2" y2="419.5" stroke="#111" stroke-width="1.2" />
<text x="201" y="423.2" font-size="10.3" text-anchor="end" font-weight="bold" fill="#111" >4</text>
<line x1="201" y1="428.6" x2="203.2" y2="428.6" stroke="#111" stroke-width="1.2" />
<text x="201" y="432.3" font-size="10.3" text-anchor="end" font-weight="bold" fill="#111" >3</text>
<line x1="201" y1="437.1" x2="203.2" y2="437.1" stroke="#111" stroke-width="1.2" />
<text x="201" y="440.8" font-size="10.3" text-anchor="end" font-weight="bold" fill="#111" >2</text>
<line x1="201" y1="445.9" x2="203.2" y2="445.9" stroke="#111" stroke-width="1.2" />
<text x="201" y="449.6" font-size="10.3" text-anchor="end" font-weight="bold" fill="#111" >1</text>
<line x1="203.2" y1="470" x2="203.2" y2="473" stroke="#111" stroke-width="1.2" />
<text x="203.2" y="485.7" font-size="10" text-anchor="middle" font-weight="bold" fill="#111" >0</text>
<line x1="247.3" y1="470" x2="247.3" y2="473" stroke="#111" stroke-width="1.2" />
<text x="247.3" y="485.7" font-size="10" text-anchor="middle" font-weight="bold" fill="#111" >200</text>
<line x1="291.4" y1="470" x2="291.4" y2="473" stroke="#111" stroke-width="1.2" />
<text x="291.4" y="485.7" font-size="10" text-anchor="middle" font-weight="bold" fill="#111" >400</text>
<line x1="335.5" y1="470" x2="335.5" y2="473" stroke="#111" stroke-width="1.2" />
<text x="335.5" y="485.7" font-size="10" text-anchor="middle" font-weight="bold" fill="#111" >600</text>
<line x1="379.6" y1="470" x2="379.6" y2="473" stroke="#111" stroke-width="1.2" />
<text x="379.6" y="485.7" font-size="10" text-anchor="middle" font-weight="bold" fill="#111" >800</text>
<line x1="423.7" y1="470" x2="423.7" y2="473" stroke="#111" stroke-width="1.2" />
<text x="423.7" y="485.7" font-size="10" text-anchor="middle" font-weight="bold" fill="#111" >1000</text>
<line x1="467.8" y1="470" x2="467.8" y2="473" stroke="#111" stroke-width="1.2" />
<text x="467.8" y="485.7" font-size="10" text-anchor="middle" font-weight="bold" fill="#111" >1200</text>
<line x1="511.9" y1="470" x2="511.9" y2="473" stroke="#111" stroke-width="1.2" />
<text x="511.9" y="485.7" font-size="10" text-anchor="middle" font-weight="bold" fill="#111" >1400</text>
<line x1="556" y1="470" x2="556" y2="473" stroke="#111" stroke-width="1.2" />
<text x="556" y="485.7" font-size="10" text-anchor="middle" font-weight="bold" fill="#111" >1600</text>
<line x1="225.25" y1="470" x2="225.25" y2="471.8" stroke="#111" stroke-width="1" />
<line x1="269.35" y1="470" x2="269.35" y2="471.8" stroke="#111" stroke-width="1" />
<line x1="313.45" y1="470" x2="313.45" y2="471.8" stroke="#111" stroke-width="1" />
<line x1="357.55" y1="470" x2="357.55" y2="471.8" stroke="#111" stroke-width="1" />
<line x1="401.65" y1="470" x2="401.65" y2="471.8" stroke="#111" stroke-width="1" />
<line x1="445.75" y1="470" x2="445.75" y2="471.8" stroke="#111" stroke-width="1" />
<line x1="489.85" y1="470" x2="489.85" y2="471.8" stroke="#111" stroke-width="1" />
<line x1="533.95" y1="470" x2="533.95" y2="471.8" stroke="#111" stroke-width="1" />
<text x="0" y="0" font-size="9.1" text-anchor="middle" font-weight="bold" fill="#111" transform="translate(188.5,428.2) rotate(-90)">Node #</text>
<text x="391.4" y="501" font-size="10.1" text-anchor="middle" font-weight="bold" fill="#111" >Position</text>
<line x1="276.9" y1="401.6" x2="276.9" y2="470" stroke="#222" stroke-width="0.8" stroke-dasharray="0.9,0.9"/>
<line x1="357.7" y1="401.6" x2="357.7" y2="470" stroke="#222" stroke-width="0.8" stroke-dasharray="0.9,0.9"/>
<line x1="397.4" y1="401.6" x2="397.4" y2="470" stroke="#222" stroke-width="0.8" stroke-dasharray="0.9,0.9"/>
<line x1="427.1" y1="401.6" x2="427.1" y2="470" stroke="#222" stroke-width="0.8" stroke-dasharray="0.9,0.9"/>
<line x1="467.4" y1="401.6" x2="467.4" y2="470" stroke="#222" stroke-width="0.8" stroke-dasharray="0.9,0.9"/>
<text x="239.3" y="461.2" font-size="5.4" text-anchor="middle" font-weight="bold" fill="#222" >NS1/2</text>
<text x="239.3" y="468" font-size="5.4" text-anchor="middle" font-weight="bold" fill="#222" >p48</text>
<text x="317.3" y="461.2" font-size="5.4" text-anchor="middle" font-weight="bold" fill="#222" >NS3</text>
<text x="317.3" y="468" font-size="5.4" text-anchor="middle" font-weight="bold" fill="#222" >NTPase</text>
<text x="378.5" y="461.2" font-size="5.4" text-anchor="middle" font-weight="bold" fill="#222" >NS4</text>
<text x="378.5" y="468" font-size="5.4" text-anchor="middle" font-weight="bold" fill="#222" >p22</text>
<text x="411.8" y="461.2" font-size="5.4" text-anchor="middle" font-weight="bold" fill="#222" >NS5</text>
<text x="411.8" y="468" font-size="5.4" text-anchor="middle" font-weight="bold" fill="#222" >VPg</text>
<text x="445.1" y="461.2" font-size="5.4" text-anchor="middle" font-weight="bold" fill="#222" >NS6</text>
<text x="445.1" y="468" font-size="5.4" text-anchor="middle" font-weight="bold" fill="#222" >Pro</text>
<text x="521.7" y="461.2" font-size="5.4" text-anchor="middle" font-weight="bold" fill="#222" >NS7</text>
<text x="521.7" y="468" font-size="5.4" text-anchor="middle" font-weight="bold" fill="#222" >RdRp</text>
<rect x="206.1" y="399" width="1.8" height="7.2" fill="#F03A1E" />
<rect x="214.3" y="399" width="1.8" height="7.2" fill="#F03A1E" />
<rect x="220.7" y="399" width="1.8" height="7.2" fill="#F03A1E" />
<rect x="229.5" y="399" width="1.8" height="7.2" fill="#F03A1E" />
<rect x="252" y="399" width="1.8" height="7.2" fill="#F03A1E" />
<rect x="272.9" y="399" width="1.8" height="7.2" fill="#F03A1E" />
<rect x="298.1" y="399" width="1.8" height="7.2" fill="#F03A1E" />
<rect x="344.9" y="399" width="1.8" height="7.2" fill="#F03A1E" />
<rect x="349.1" y="399" width="1.8" height="7.2" fill="#F03A1E" />
<rect x="356.8" y="399" width="1.8" height="7.2" fill="#F03A1E" />
<rect x="383.2" y="399" width="1.8" height="7.2" fill="#F03A1E" />
<rect x="415.9" y="399" width="1.8" height="7.2" fill="#F03A1E" />
<rect x="531" y="399" width="1.8" height="7.2" fill="#F03A1E" />
<rect x="211.8" y="407.5" width="1.8" height="7.2" fill="#F03A1E" />
<rect x="214.6" y="407.5" width="1.8" height="7.2" fill="#F03A1E" />
<rect x="245" y="407.5" width="1.8" height="7.2" fill="#F03A1E" />
<rect x="263.4" y="407.5" width="1.8" height="7.2" fill="#F03A1E" />
<rect x="264.7" y="407.5" width="1.8" height="7.2" fill="#F03A1E" />
<rect x="303" y="407.5" width="1.8" height="7.2" fill="#F03A1E" />
<rect x="304.7" y="407.5" width="1.8" height="7.2" fill="#F03A1E" />
<rect x="344.9" y="407.5" width="1.8" height="7.2" fill="#F03A1E" />
<rect x="369.3" y="407.5" width="1.8" height="7.2" fill="#F03A1E" />
<rect x="386" y="407.5" width="1.8" height="7.2" fill="#F03A1E" />
<rect x="396.2" y="407.5" width="1.8" height="7.2" fill="#F03A1E" />
<rect x="415.9" y="407.5" width="1.8" height="7.2" fill="#F03A1E" />
<rect x="435.9" y="407.5" width="1.8" height="7.2" fill="#F03A1E" />
<rect x="476.9" y="407.5" width="1.8" height="7.2" fill="#F03A1E" />
<rect x="483.8" y="407.5" width="1.8" height="7.2" fill="#F03A1E" />
<rect x="531" y="407.5" width="1.8" height="7.2" fill="#F03A1E" />
<rect x="485.4" y="415.9" width="1.8" height="7.2" fill="#F03A1E" />
<rect x="489.5" y="415.9" width="1.8" height="7.2" fill="#F03A1E" />
<rect x="504.8" y="415.9" width="1.8" height="7.2" fill="#F03A1E" />
<rect x="203.6" y="425" width="1.8" height="7.2" fill="#F03A1E" />
<rect x="217.1" y="425" width="1.8" height="7.2" fill="#F03A1E" />
<rect x="220.7" y="425" width="1.8" height="7.2" fill="#F03A1E" />
<rect x="373.5" y="425" width="1.8" height="7.2" fill="#F03A1E" />
<rect x="378.2" y="425" width="1.8" height="7.2" fill="#F03A1E" />
<rect x="483.1" y="425" width="1.8" height="7.2" fill="#F03A1E" />
<rect x="488.8" y="425" width="1.8" height="7.2" fill="#F03A1E" />
<rect x="211.8" y="433.5" width="1.8" height="7.2" fill="#1F9960" />
<rect x="220" y="433.5" width="1.8" height="7.2" fill="#1F9960" />
<rect x="224.5" y="433.5" width="1.8" height="7.2" fill="#1F9960" />
<rect x="226.6" y="433.5" width="1.8" height="7.2" fill="#1F9960" />
<rect x="228.9" y="433.5" width="1.8" height="7.2" fill="#1F9960" />
<rect x="235.1" y="433.5" width="1.8" height="7.2" fill="#1F9960" />
<rect x="237.4" y="433.5" width="1.8" height="7.2" fill="#1F9960" />
<rect x="243.3" y="433.5" width="1.8" height="7.2" fill="#1F9960" />
<rect x="244.7" y="433.5" width="1.8" height="7.2" fill="#1F9960" />
<rect x="271.2" y="433.5" width="1.8" height="7.2" fill="#1F9960" />
<rect x="290.6" y="433.5" width="1.8" height="7.2" fill="#1F9960" />
<rect x="332.1" y="433.5" width="1.8" height="7.2" fill="#1F9960" />
<rect x="339.4" y="433.5" width="1.8" height="7.2" fill="#1F9960" />
<rect x="350.7" y="433.5" width="1.8" height="7.2" fill="#1F9960" />
<rect x="378.2" y="433.5" width="1.8" height="7.2" fill="#1F9960" />
<rect x="386.8" y="433.5" width="1.8" height="7.2" fill="#1F9960" />
<rect x="469.8" y="433.5" width="1.8" height="7.2" fill="#1F9960" />
<rect x="473.5" y="433.5" width="1.8" height="7.2" fill="#1F9960" />
<rect x="493.4" y="433.5" width="1.8" height="7.2" fill="#1F9960" />
<rect x="494.7" y="433.5" width="1.8" height="7.2" fill="#1F9960" />
<rect x="496.1" y="433.5" width="1.8" height="7.2" fill="#1F9960" />
<rect x="501.8" y="433.5" width="1.8" height="7.2" fill="#1F9960" />
<rect x="513.2" y="433.5" width="1.8" height="7.2" fill="#1F9960" />
<rect x="558" y="433.5" width="1.8" height="7.2" fill="#1F9960" />
<rect x="220.3" y="442.3" width="1.8" height="7.2" fill="#111" />
<rect x="221.3" y="442.3" width="1.8" height="7.2" fill="#111" />
<rect x="246" y="442.3" width="1.8" height="7.2" fill="#111" />
<rect x="264" y="442.3" width="1.8" height="7.2" fill="#111" />
<rect x="268.7" y="442.3" width="1.8" height="7.2" fill="#111" />
<rect x="283.9" y="442.3" width="1.8" height="7.2" fill="#111" />
<rect x="285.2" y="442.3" width="1.8" height="7.2" fill="#111" />
<rect x="286.4" y="442.3" width="1.8" height="7.2" fill="#111" />
<rect x="356.8" y="442.3" width="1.8" height="7.2" fill="#111" />
<rect x="362.9" y="442.3" width="1.8" height="7.2" fill="#111" />
<rect x="366.5" y="442.3" width="1.8" height="7.2" fill="#111" />
<rect x="368.8" y="442.3" width="1.8" height="7.2" fill="#111" />
<rect x="374.3" y="442.3" width="1.8" height="7.2" fill="#111" />
<rect x="387.9" y="442.3" width="1.8" height="7.2" fill="#111" />
<rect x="389.4" y="442.3" width="1.8" height="7.2" fill="#111" />
<rect x="390.9" y="442.3" width="1.8" height="7.2" fill="#111" />
<rect x="392.3" y="442.3" width="1.8" height="7.2" fill="#111" />
<rect x="444.2" y="442.3" width="1.8" height="7.2" fill="#111" />
<rect x="447.8" y="442.3" width="1.8" height="7.2" fill="#111" />
<rect x="483.8" y="442.3" width="1.8" height="7.2" fill="#111" />
<rect x="492.9" y="442.3" width="1.8" height="7.2" fill="#111" />
<rect x="500.9" y="442.3" width="1.8" height="7.2" fill="#111" />
<rect x="523.1" y="442.3" width="1.8" height="7.2" fill="#111" />
<rect x="531" y="442.3" width="1.8" height="7.2" fill="#111" />
<text x="188.3" y="370.7" font-size="8.6" text-anchor="end" fill="#222" >P45S</text>
<line x1="189.7" y1="368.5" x2="212" y2="407" stroke="#333" stroke-width="0.6" />
<text x="188.3" y="386" font-size="8.6" text-anchor="end" fill="#222" >P45S</text>
<line x1="189.7" y1="383.8" x2="212.7" y2="433.5" stroke="#333" stroke-width="0.6" />
<text x="198.8" y="366.6" font-size="8.6" fill="#222" >I84V</text>
<line x1="206.5" y1="368.5" x2="221.2" y2="398.8" stroke="#333" stroke-width="0.6" />
<text x="230" y="341" font-size="8.6" fill="#222" >A85T</text>
<line x1="229.3" y1="338.8" x2="221.6" y2="398.8" stroke="#333" stroke-width="0.6" />
<text x="230" y="356.3" font-size="8.6" fill="#222" >V85A</text>
<line x1="231.3" y1="354" x2="221.6" y2="425" stroke="#333" stroke-width="0.6" />
<text x="194.7" y="472.8" font-size="8.6" text-anchor="end" fill="#222" >V84I</text>
<line x1="196" y1="469.5" x2="222" y2="449.5" stroke="#333" stroke-width="0.6" />
<text x="276.2" y="316.6" font-size="8.6" fill="#222" >R281K</text>
<line x1="275.5" y1="313.5" x2="264.6" y2="407.5" stroke="#333" stroke-width="0.6" />
<text x="276.2" y="332" font-size="8.6" fill="#222" >K281R</text>
<line x1="275.5" y1="329.5" x2="265.2" y2="442.3" stroke="#333" stroke-width="0.6" />
<text x="327.5" y="361.6" font-size="8.6" text-anchor="end" fill="#222" >S645P</text>
<line x1="328.8" y1="359" x2="345.8" y2="399" stroke="#333" stroke-width="0.6" />
<text x="327.5" y="376.8" font-size="8.6" text-anchor="end" fill="#222" >P645S</text>
<line x1="328.8" y1="374.5" x2="345.8" y2="407.5" stroke="#333" stroke-width="0.6" />
<text x="360.5" y="322.2" font-size="8.6" text-anchor="end" fill="#222" >S754T</text>
<line x1="361.8" y1="320" x2="369.7" y2="442.3" stroke="#333" stroke-width="0.6" />
<text x="360.5" y="338.3" font-size="8.6" text-anchor="end" fill="#222" >T754S</text>
<line x1="361.8" y1="336" x2="370.2" y2="407.5" stroke="#333" stroke-width="0.6" />
<text x="397.4" y="327.7" font-size="8.6" fill="#222" >V794A</text>
<line x1="396.6" y1="325.5" x2="379.1" y2="425" stroke="#333" stroke-width="0.6" />
<text x="397.4" y="338" font-size="8.6" fill="#222" >V794T</text>
<line x1="396.6" y1="336" x2="379.1" y2="433.5" stroke="#333" stroke-width="0.6" />
<text x="437.6" y="366.6" font-size="8.6" fill="#222" >R966K</text>
<line x1="437" y1="364.5" x2="416.8" y2="399" stroke="#333" stroke-width="0.6" />
<text x="437.6" y="379.9" font-size="8.6" fill="#222" >K966R</text>
<line x1="437" y1="377.5" x2="416.8" y2="407.5" stroke="#333" stroke-width="0.6" />
<text x="492.7" y="373.5" font-size="8.6" fill="#222" >N1273S</text>
<line x1="492" y1="371.5" x2="484.7" y2="407.5" stroke="#333" stroke-width="0.6" />
<text x="492.7" y="389.5" font-size="8.6" fill="#222" >S1273N</text>
<line x1="492" y1="387.5" x2="484.7" y2="442.3" stroke="#333" stroke-width="0.6" />
<text x="546.3" y="369.6" font-size="8.6" fill="#222" >V1485T</text>
<line x1="545.5" y1="367.5" x2="531.9" y2="399" stroke="#333" stroke-width="0.6" />
<text x="546.3" y="382.2" font-size="8.6" fill="#222" >A1485V</text>
<line x1="545.5" y1="380" x2="531.9" y2="407.5" stroke="#333" stroke-width="0.6" />
<text x="546.3" y="395.5" font-size="8.6" fill="#222" >T1485A</text>
<line x1="545.5" y1="393.5" x2="531.9" y2="442.3" stroke="#333" stroke-width="0.6" />
<polygon points="85.6,523.9 295.68,523.9 295.68,532.1 269.42,528.82 243.16,531.28 216.9,531.49 190.64,534.15 164.38,527.18 138.12,528.82 111.86,528.41 85.6,528.41" fill="#E6E6E6" />
<line x1="85.6" y1="523.9" x2="295.68" y2="523.9" stroke="#999" stroke-width="0.9" />
<polygon points="85.6,544.4 111.86,544.4 138.12,539.27 164.38,544.4 190.64,544.4 216.9,544.4 243.16,544.4 269.42,544.4 295.68,544.4 295.68,544.4 269.42,544.4 243.16,544.4 216.9,544.4 190.64,544.4 164.38,544.4 138.12,544.4 111.86,544.4 85.6,544.4" fill="#3D8A78" stroke="#333" stroke-width="0.4" />
<polygon points="85.6,528.41 111.86,528.41 138.12,534.15 164.38,527.18 190.64,534.36 216.9,541.94 243.16,542.76 269.42,544.4 295.68,544.4 295.68,544.4 269.42,544.4 243.16,544.4 216.9,544.4 190.64,544.4 164.38,544.4 138.12,539.27 111.86,544.4 85.6,544.4" fill="#FF44CC" stroke="#333" stroke-width="0.4" />
<polygon points="85.6,528.41 111.86,528.41 138.12,528.82 164.38,527.18 190.64,534.15 216.9,531.49 243.16,531.28 269.42,528.82 295.68,532.1 295.68,544.4 269.42,544.4 243.16,542.76 216.9,541.94 190.64,534.36 164.38,527.18 138.12,534.15 111.86,528.41 85.6,528.41" fill="#FF6644" stroke="#333" stroke-width="0.4" />
<line x1="72.3" y1="523.9" x2="72.3" y2="544.5" stroke="#111" stroke-width="1.6" />
<line x1="72.3" y1="544.5" x2="308.8" y2="544.5" stroke="#111" stroke-width="1.8" />
<line x1="69.5" y1="523.9" x2="72.3" y2="523.9" stroke="#111" stroke-width="1.4" />
<text x="68.5" y="527.4" font-size="9.8" text-anchor="end" font-weight="bold" fill="#111" >100</text>
<line x1="69.5" y1="534.1" x2="72.3" y2="534.1" stroke="#111" stroke-width="1.4" />
<text x="68.5" y="537.6" font-size="9.8" text-anchor="end" font-weight="bold" fill="#111" >50</text>
<line x1="69.5" y1="544.3" x2="72.3" y2="544.3" stroke="#111" stroke-width="1.4" />
<text x="68.5" y="547.8" font-size="9.8" text-anchor="end" font-weight="bold" fill="#111" >0</text>
<text x="0" y="0" font-size="8.6" text-anchor="middle" font-weight="bold" fill="#111" transform="translate(42.6,532.3) rotate(-90)">%Cluster</text>
<line x1="319.4" y1="523.8" x2="337.2" y2="523.8" stroke="#118855" stroke-width="2.9" stroke-linecap="round"/>
<text x="347.7" y="526.4" font-size="8.8" fill="#222" >B</text>
<line x1="319.4" y1="532.3" x2="337.2" y2="532.3" stroke="#FF33FF" stroke-width="2.9" stroke-linecap="round"/>
<text x="347.7" y="534.9" font-size="8.8" fill="#222" >D</text>
<line x1="319.4" y1="541.1" x2="337.2" y2="541.1" stroke="#FF2200" stroke-width="2.9" stroke-linecap="round"/>
<text x="347.7" y="543.7" font-size="8.8" fill="#222" >New</text>
<line x1="319.4" y1="549.6" x2="337.2" y2="549.6" stroke="#999" stroke-width="2.9" stroke-linecap="round"/>
<text x="347.7" y="552.2" font-size="8.8" fill="#222" >Not determined</text>
<line x1="71.6" y1="562" x2="71.6" y2="639.1" stroke="#111" stroke-width="1.8" />
<line x1="71.6" y1="639" x2="313.2" y2="639" stroke="#111" stroke-width="2" />
<line x1="67" y1="562.9" x2="71.6" y2="562.9" stroke="#111" stroke-width="1.6" />
<text x="66.2" y="567" font-size="10.5" font-weight="bold" text-anchor="end" fill="#111">10<tspan font-size="7.35" dy="-3.6">12</tspan></text>
<line x1="67" y1="578.14" x2="71.6" y2="578.14" stroke="#111" stroke-width="1.6" />
<text x="66.2" y="582.24" font-size="10.5" font-weight="bold" text-anchor="end" fill="#111">10<tspan font-size="7.35" dy="-3.6">10</tspan></text>
<line x1="67" y1="593.38" x2="71.6" y2="593.38" stroke="#111" stroke-width="1.6" />
<text x="66.2" y="597.48" font-size="10.5" font-weight="bold" text-anchor="end" fill="#111">10<tspan font-size="7.35" dy="-3.6">8</tspan></text>
<line x1="67" y1="608.62" x2="71.6" y2="608.62" stroke="#111" stroke-width="1.6" />
<text x="66.2" y="612.72" font-size="10.5" font-weight="bold" text-anchor="end" fill="#111">10<tspan font-size="7.35" dy="-3.6">6</tspan></text>
<line x1="67" y1="623.86" x2="71.6" y2="623.86" stroke="#111" stroke-width="1.6" />
<text x="66.2" y="627.96" font-size="10.5" font-weight="bold" text-anchor="end" fill="#111">10<tspan font-size="7.35" dy="-3.6">4</tspan></text>
<line x1="67" y1="639.1" x2="71.6" y2="639.1" stroke="#111" stroke-width="1.6" />
<text x="66.2" y="643.2" font-size="10.5" font-weight="bold" text-anchor="end" fill="#111">10<tspan font-size="7.35" dy="-3.6">2</tspan></text>
<text x="0" y="0" font-size="10.1" text-anchor="middle" font-weight="bold" fill="#111" transform="translate(25.6,599.7) rotate(-90)">Viral load</text>
<text x="0" y="0" font-size="8.8" text-anchor="middle" font-weight="bold" fill="#111" transform="translate(35.6,598.8) rotate(-90)">(genome copies/mL)</text>
<line x1="89.3" y1="639" x2="89.3" y2="644.5" stroke="#111" stroke-width="1.6" />
<text x="89.3" y="655.5" font-size="10.2" text-anchor="middle" font-weight="bold" fill="#111" >2016</text>
<line x1="115.13" y1="639" x2="115.13" y2="644.5" stroke="#111" stroke-width="1.6" />
<text x="115.13" y="655.5" font-size="10.2" text-anchor="middle" font-weight="bold" fill="#111" >2017</text>
<line x1="140.96" y1="639" x2="140.96" y2="644.5" stroke="#111" stroke-width="1.6" />
<text x="140.96" y="655.5" font-size="10.2" text-anchor="middle" font-weight="bold" fill="#111" >2018</text>
<line x1="166.79" y1="639" x2="166.79" y2="644.5" stroke="#111" stroke-width="1.6" />
<text x="166.79" y="655.5" font-size="10.2" text-anchor="middle" font-weight="bold" fill="#111" >2019</text>
<line x1="192.62" y1="639" x2="192.62" y2="644.5" stroke="#111" stroke-width="1.6" />
<text x="192.62" y="655.5" font-size="10.2" text-anchor="middle" font-weight="bold" fill="#111" >2020</text>
<line x1="218.45" y1="639" x2="218.45" y2="644.5" stroke="#111" stroke-width="1.6" />
<text x="218.45" y="655.5" font-size="10.2" text-anchor="middle" font-weight="bold" fill="#111" >2021</text>
<line x1="244.28" y1="639" x2="244.28" y2="644.5" stroke="#111" stroke-width="1.6" />
<text x="244.28" y="655.5" font-size="10.2" text-anchor="middle" font-weight="bold" fill="#111" >2022</text>
<line x1="270.11" y1="639" x2="270.11" y2="644.5" stroke="#111" stroke-width="1.6" />
<text x="270.11" y="655.5" font-size="10.2" text-anchor="middle" font-weight="bold" fill="#111" >2023</text>
<line x1="295.94" y1="639" x2="295.94" y2="644.5" stroke="#111" stroke-width="1.6" />
<text x="295.94" y="655.5" font-size="10.2" text-anchor="middle" font-weight="bold" fill="#111" >2024</text>
<text x="193.5" y="671.4" font-size="10.2" text-anchor="middle" font-weight="bold" fill="#111" >Year</text>
<circle cx="89.3" cy="594.9" r="2.3" fill="#8F8F8F" fill-opacity="0.92"/>
<circle cx="89.3" cy="604.3" r="2.3" fill="#8F8F8F" fill-opacity="0.92"/>
<circle cx="86.3" cy="606.2" r="2.3" fill="#8F8F8F" fill-opacity="0.92"/>
<circle cx="89.3" cy="610" r="2.3" fill="#8F8F8F" fill-opacity="0.92"/>
<circle cx="85.8" cy="611" r="2.3" fill="#8F8F8F" fill-opacity="0.92"/>
<circle cx="92.3" cy="612" r="2.3" fill="#8F8F8F" fill-opacity="0.92"/>
<circle cx="89.3" cy="613.8" r="2.3" fill="#8F8F8F" fill-opacity="0.92"/>
<circle cx="92.3" cy="615.7" r="2.3" fill="#8F8F8F" fill-opacity="0.92"/>
<circle cx="86.8" cy="616.5" r="2.3" fill="#8F8F8F" fill-opacity="0.92"/>
<circle cx="95.3" cy="617.6" r="2.3" fill="#8F8F8F" fill-opacity="0.92"/>
<line x1="89.3" y1="604.7" x2="89.3" y2="617.3" stroke="#000" stroke-width="1.8" />
<line x1="84.8" y1="604.7" x2="93.8" y2="604.7" stroke="#000" stroke-width="1.8" />
<line x1="84.8" y1="617.3" x2="93.8" y2="617.3" stroke="#000" stroke-width="1.8" />
<line x1="80.3" y1="611.4" x2="98.3" y2="611.4" stroke="#000" stroke-width="1.6" stroke-dasharray="2.2,1.3"/>
<circle cx="115.13" cy="583.5" r="2.3" fill="#8F8F8F" fill-opacity="0.92"/>
<circle cx="112.63" cy="586" r="2.3" fill="#8F8F8F" fill-opacity="0.92"/>
<circle cx="115.63" cy="588" r="2.3" fill="#8F8F8F" fill-opacity="0.92"/>
<circle cx="112.63" cy="590" r="2.3" fill="#8F8F8F" fill-opacity="0.92"/>
<circle cx="115.63" cy="592" r="2.3" fill="#8F8F8F" fill-opacity="0.92"/>
<circle cx="112.13" cy="593.5" r="2.3" fill="#8F8F8F" fill-opacity="0.92"/>
<circle cx="117.63" cy="595" r="2.3" fill="#8F8F8F" fill-opacity="0.92"/>
<circle cx="109.63" cy="596" r="2.3" fill="#8F8F8F" fill-opacity="0.92"/>
<circle cx="114.63" cy="597" r="2.3" fill="#8F8F8F" fill-opacity="0.92"/>
<circle cx="120.13" cy="597.5" r="2.3" fill="#8F8F8F" fill-opacity="0.92"/>
<circle cx="123.63" cy="598" r="2.3" fill="#8F8F8F" fill-opacity="0.92"/>
<circle cx="111.63" cy="599" r="2.3" fill="#8F8F8F" fill-opacity="0.92"/>
<circle cx="116.63" cy="600" r="2.3" fill="#8F8F8F" fill-opacity="0.92"/>
<circle cx="108.13" cy="600.5" r="2.3" fill="#8F8F8F" fill-opacity="0.92"/>
<circle cx="120.13" cy="601" r="2.3" fill="#8F8F8F" fill-opacity="0.92"/>
<circle cx="113.63" cy="602" r="2.3" fill="#8F8F8F" fill-opacity="0.92"/>
<circle cx="123.63" cy="602.5" r="2.3" fill="#8F8F8F" fill-opacity="0.92"/>
<circle cx="105.63" cy="603" r="2.3" fill="#8F8F8F" fill-opacity="0.92"/>
<circle cx="116.63" cy="604" r="2.3" fill="#8F8F8F" fill-opacity="0.92"/>
<circle cx="111.13" cy="604.5" r="2.3" fill="#8F8F8F" fill-opacity="0.92"/>
<circle cx="120.13" cy="605" r="2.3" fill="#8F8F8F" fill-opacity="0.92"/>
<circle cx="107.63" cy="606" r="2.3" fill="#8F8F8F" fill-opacity="0.92"/>
<circle cx="114.13" cy="606.5" r="2.3" fill="#8F8F8F" fill-opacity="0.92"/>
<circle cx="123.13" cy="607" r="2.3" fill="#8F8F8F" fill-opacity="0.92"/>
<circle cx="117.63" cy="608" r="2.3" fill="#8F8F8F" fill-opacity="0.92"/>
<circle cx="111.13" cy="608.5" r="2.3" fill="#8F8F8F" fill-opacity="0.92"/>
<circle cx="105.63" cy="609" r="2.3" fill="#8F8F8F" fill-opacity="0.92"/>
<circle cx="114.63" cy="610" r="2.3" fill="#8F8F8F" fill-opacity="0.92"/>
<circle cx="119.63" cy="611" r="2.3" fill="#8F8F8F" fill-opacity="0.92"/>
<circle cx="112.13" cy="612.5" r="2.3" fill="#8F8F8F" fill-opacity="0.92"/>
<circle cx="115.63" cy="614" r="2.3" fill="#8F8F8F" fill-opacity="0.92"/>
<circle cx="119.13" cy="615.5" r="2.3" fill="#8F8F8F" fill-opacity="0.92"/>
<circle cx="113.63" cy="617" r="2.3" fill="#8F8F8F" fill-opacity="0.92"/>
<circle cx="116.63" cy="619" r="2.3" fill="#8F8F8F" fill-opacity="0.92"/>
<circle cx="113.63" cy="621" r="2.3" fill="#8F8F8F" fill-opacity="0.92"/>
<circle cx="116.63" cy="623" r="2.3" fill="#8F8F8F" fill-opacity="0.92"/>
<circle cx="113.63" cy="625" r="2.3" fill="#8F8F8F" fill-opacity="0.92"/>
<circle cx="116.63" cy="627" r="2.3" fill="#8F8F8F" fill-opacity="0.92"/>
<circle cx="114.13" cy="629.5" r="2.3" fill="#8F8F8F" fill-opacity="0.92"/>
<circle cx="117.63" cy="631" r="2.3" fill="#8F8F8F" fill-opacity="0.92"/>
<line x1="115.13" y1="601.5" x2="115.13" y2="610" stroke="#000" stroke-width="1.8" />
<line x1="110.63" y1="601.5" x2="119.63" y2="601.5" stroke="#000" stroke-width="1.8" />
<line x1="110.63" y1="610" x2="119.63" y2="610" stroke="#000" stroke-width="1.8" />
<line x1="106.13" y1="605.3" x2="124.13" y2="605.3" stroke="#000" stroke-width="1.6" stroke-dasharray="2.2,1.3"/>
<circle cx="140.96" cy="607.2" r="2.3" fill="#8F8F8F" fill-opacity="0.92"/>
<circle cx="144.46" cy="607.8" r="2.3" fill="#8F8F8F" fill-opacity="0.92"/>
<circle cx="137.46" cy="608" r="2.3" fill="#8F8F8F" fill-opacity="0.92"/>
<circle cx="133.96" cy="608.5" r="2.3" fill="#8F8F8F" fill-opacity="0.92"/>
<circle cx="147.96" cy="609" r="2.3" fill="#8F8F8F" fill-opacity="0.92"/>
<circle cx="151.46" cy="609" r="2.3" fill="#8F8F8F" fill-opacity="0.92"/>
<line x1="140.96" y1="595.8" x2="140.96" y2="609" stroke="#000" stroke-width="1.8" />
<line x1="136.46" y1="595.8" x2="145.46" y2="595.8" stroke="#000" stroke-width="1.8" />
<line x1="136.46" y1="609" x2="145.46" y2="609" stroke="#000" stroke-width="1.8" />
<line x1="131.96" y1="606.6" x2="149.96" y2="606.6" stroke="#000" stroke-width="1.6" stroke-dasharray="2.2,1.3"/>
<circle cx="166.79" cy="573" r="2.3" fill="#8F8F8F" fill-opacity="0.92"/>
<circle cx="166.79" cy="582" r="2.3" fill="#8F8F8F" fill-opacity="0.92"/>
<circle cx="166.79" cy="586" r="2.3" fill="#8F8F8F" fill-opacity="0.92"/>
<circle cx="169.79" cy="588" r="2.3" fill="#8F8F8F" fill-opacity="0.92"/>
<circle cx="166.79" cy="591" r="2.3" fill="#8F8F8F" fill-opacity="0.92"/>
<circle cx="163.79" cy="593" r="2.3" fill="#8F8F8F" fill-opacity="0.92"/>
<circle cx="166.79" cy="595" r="2.3" fill="#8F8F8F" fill-opacity="0.92"/>
<circle cx="169.79" cy="597" r="2.3" fill="#8F8F8F" fill-opacity="0.92"/>
<circle cx="166.79" cy="599" r="2.3" fill="#8F8F8F" fill-opacity="0.92"/>
<circle cx="169.79" cy="601" r="2.3" fill="#8F8F8F" fill-opacity="0.92"/>
<circle cx="166.79" cy="603" r="2.3" fill="#8F8F8F" fill-opacity="0.92"/>
<circle cx="166.79" cy="606.6" r="2.3" fill="#8F8F8F" fill-opacity="0.92"/>
<line x1="166.79" y1="586.3" x2="166.79" y2="598.3" stroke="#000" stroke-width="1.8" />
<line x1="162.29" y1="586.3" x2="171.29" y2="586.3" stroke="#000" stroke-width="1.8" />
<line x1="162.29" y1="598.3" x2="171.29" y2="598.3" stroke="#000" stroke-width="1.8" />
<line x1="157.79" y1="594.3" x2="175.79" y2="594.3" stroke="#000" stroke-width="1.6" stroke-dasharray="2.2,1.3"/>
<circle cx="192.62" cy="604" r="2.3" fill="#8F8F8F" fill-opacity="0.92"/>
<circle cx="192.62" cy="623" r="2.3" fill="#8F8F8F" fill-opacity="0.92"/>
<line x1="192.62" y1="604.3" x2="192.62" y2="622.4" stroke="#000" stroke-width="1.8" />
<line x1="188.12" y1="604.3" x2="197.12" y2="604.3" stroke="#000" stroke-width="1.8" />
<line x1="188.12" y1="622.4" x2="197.12" y2="622.4" stroke="#000" stroke-width="1.8" />
<line x1="183.62" y1="606.2" x2="201.62" y2="606.2" stroke="#000" stroke-width="1.6" stroke-dasharray="2.2,1.3"/>
<circle cx="218.45" cy="593.9" r="2.3" fill="#8F8F8F" fill-opacity="0.92"/>
<circle cx="214.95" cy="594.9" r="2.3" fill="#8F8F8F" fill-opacity="0.92"/>
<circle cx="218.45" cy="600.5" r="2.3" fill="#8F8F8F" fill-opacity="0.92"/>
<circle cx="220.95" cy="603" r="2.3" fill="#8F8F8F" fill-opacity="0.92"/>
<circle cx="218.45" cy="605.5" r="2.3" fill="#8F8F8F" fill-opacity="0.92"/>
<circle cx="221.95" cy="606.6" r="2.3" fill="#8F8F8F" fill-opacity="0.92"/>
<circle cx="215.45" cy="607.6" r="2.3" fill="#8F8F8F" fill-opacity="0.92"/>
<line x1="218.45" y1="588.2" x2="218.45" y2="607.2" stroke="#000" stroke-width="1.8" />
<line x1="213.95" y1="588.2" x2="222.95" y2="588.2" stroke="#000" stroke-width="1.8" />
<line x1="213.95" y1="607.2" x2="222.95" y2="607.2" stroke="#000" stroke-width="1.8" />
<line x1="209.45" y1="599.2" x2="227.45" y2="599.2" stroke="#000" stroke-width="1.6" stroke-dasharray="2.2,1.3"/>
<circle cx="244.28" cy="587.3" r="2.3" fill="#8F8F8F" fill-opacity="0.92"/>
<circle cx="241.78" cy="590" r="2.3" fill="#8F8F8F" fill-opacity="0.92"/>
<circle cx="244.78" cy="592" r="2.3" fill="#8F8F8F" fill-opacity="0.92"/>
<circle cx="244.28" cy="597" r="2.3" fill="#8F8F8F" fill-opacity="0.92"/>
<circle cx="242.28" cy="600" r="2.3" fill="#8F8F8F" fill-opacity="0.92"/>
<circle cx="245.78" cy="601" r="2.3" fill="#8F8F8F" fill-opacity="0.92"/>
<circle cx="249.28" cy="602" r="2.3" fill="#8F8F8F" fill-opacity="0.92"/>
<circle cx="240.28" cy="603" r="2.3" fill="#8F8F8F" fill-opacity="0.92"/>
<circle cx="236.78" cy="603.5" r="2.3" fill="#8F8F8F" fill-opacity="0.92"/>
<circle cx="243.78" cy="604" r="2.3" fill="#8F8F8F" fill-opacity="0.92"/>
<circle cx="251.78" cy="604.5" r="2.3" fill="#8F8F8F" fill-opacity="0.92"/>
<circle cx="247.28" cy="605" r="2.3" fill="#8F8F8F" fill-opacity="0.92"/>
<circle cx="234.28" cy="606" r="2.3" fill="#8F8F8F" fill-opacity="0.92"/>
<circle cx="241.28" cy="606.5" r="2.3" fill="#8F8F8F" fill-opacity="0.92"/>
<circle cx="237.78" cy="607" r="2.3" fill="#8F8F8F" fill-opacity="0.92"/>
<circle cx="244.78" cy="608" r="2.3" fill="#8F8F8F" fill-opacity="0.92"/>
<circle cx="241.78" cy="610" r="2.3" fill="#8F8F8F" fill-opacity="0.92"/>
<circle cx="244.28" cy="634.2" r="2.3" fill="#8F8F8F" fill-opacity="0.92"/>
<circle cx="247.78" cy="634.8" r="2.3" fill="#8F8F8F" fill-opacity="0.92"/>
<line x1="244.28" y1="601.1" x2="244.28" y2="606.6" stroke="#000" stroke-width="1.8" />
<line x1="239.78" y1="601.1" x2="248.78" y2="601.1" stroke="#000" stroke-width="1.8" />
<line x1="239.78" y1="606.6" x2="248.78" y2="606.6" stroke="#000" stroke-width="1.8" />
<line x1="235.28" y1="603.4" x2="253.28" y2="603.4" stroke="#000" stroke-width="1.6" stroke-dasharray="2.2,1.3"/>
<circle cx="270.11" cy="584.4" r="2.3" fill="#8F8F8F" fill-opacity="0.92"/>
<circle cx="270.11" cy="597" r="2.3" fill="#8F8F8F" fill-opacity="0.92"/>
<circle cx="273.61" cy="598" r="2.3" fill="#8F8F8F" fill-opacity="0.92"/>
<circle cx="267.61" cy="599.6" r="2.3" fill="#8F8F8F" fill-opacity="0.92"/>
<circle cx="271.11" cy="600.5" r="2.3" fill="#8F8F8F" fill-opacity="0.92"/>
<circle cx="274.61" cy="601.5" r="2.3" fill="#8F8F8F" fill-opacity="0.92"/>
<circle cx="265.11" cy="602" r="2.3" fill="#8F8F8F" fill-opacity="0.92"/>
<circle cx="268.61" cy="603" r="2.3" fill="#8F8F8F" fill-opacity="0.92"/>
<circle cx="272.11" cy="604" r="2.3" fill="#8F8F8F" fill-opacity="0.92"/>
<circle cx="275.61" cy="605" r="2.3" fill="#8F8F8F" fill-opacity="0.92"/>
<circle cx="266.61" cy="606" r="2.3" fill="#8F8F8F" fill-opacity="0.92"/>
<circle cx="270.11" cy="607" r="2.3" fill="#8F8F8F" fill-opacity="0.92"/>
<circle cx="273.61" cy="608" r="2.3" fill="#8F8F8F" fill-opacity="0.92"/>
<circle cx="264.61" cy="609" r="2.3" fill="#8F8F8F" fill-opacity="0.92"/>
<circle cx="270.11" cy="611" r="2.3" fill="#8F8F8F" fill-opacity="0.92"/>
<circle cx="270.11" cy="617" r="2.3" fill="#8F8F8F" fill-opacity="0.92"/>
<circle cx="268.11" cy="620" r="2.3" fill="#8F8F8F" fill-opacity="0.92"/>
<circle cx="271.11" cy="622" r="2.3" fill="#8F8F8F" fill-opacity="0.92"/>
<circle cx="268.11" cy="624" r="2.3" fill="#8F8F8F" fill-opacity="0.92"/>
<circle cx="270.11" cy="628" r="2.3" fill="#8F8F8F" fill-opacity="0.92"/>
<line x1="270.11" y1="599.6" x2="270.11" y2="609.1" stroke="#000" stroke-width="1.8" />
<line x1="265.61" y1="599.6" x2="274.61" y2="599.6" stroke="#000" stroke-width="1.8" />
<line x1="265.61" y1="609.1" x2="274.61" y2="609.1" stroke="#000" stroke-width="1.8" />
<line x1="261.11" y1="605.3" x2="279.11" y2="605.3" stroke="#000" stroke-width="1.6" stroke-dasharray="2.2,1.3"/>
<polygon points="297.54,569.2 298.14,572 299.34,579.4 300.74,587 302.24,594 303.94,600 304.54,603.6 303.54,607 301.74,613.3 300.24,618 298.94,623 298.24,630 297.94,636 297.14,638.6 294.74,638.6 293.94,636 293.64,630 292.94,623 291.64,618 290.14,613.3 288.34,607 287.34,603.6 287.94,600 289.64,594 291.14,587 292.54,579.4 293.74,572 294.34,569.2" fill="#7F7F7F" />
<circle cx="295.94" cy="570.5" r="1.8" fill="#7F7F7F" />
<line x1="287.14" y1="603.6" x2="304.74" y2="603.6" stroke="#000" stroke-width="2" stroke-dasharray="2.2,1.2"/>
<rect x="290.94" y="602.4" width="10" height="2.4" fill="#000" />
<line x1="486.9" y1="560" x2="486.9" y2="639.2" stroke="#111" stroke-width="1.8" />
<line x1="486.9" y1="639.2" x2="540.9" y2="639.2" stroke="#111" stroke-width="1.8" />
<line x1="482.5" y1="560.7" x2="486.9" y2="560.7" stroke="#111" stroke-width="1.6" />
<text x="481.5" y="564.8" font-size="10.5" font-weight="bold" text-anchor="end" fill="#111">10<tspan font-size="7.35" dy="-3.6">12</tspan></text>
<line x1="482.5" y1="576.4" x2="486.9" y2="576.4" stroke="#111" stroke-width="1.6" />
<text x="481.5" y="580.5" font-size="10.5" font-weight="bold" text-anchor="end" fill="#111">10<tspan font-size="7.35" dy="-3.6">10</tspan></text>
<line x1="482.5" y1="592.1" x2="486.9" y2="592.1" stroke="#111" stroke-width="1.6" />
<text x="481.5" y="596.2" font-size="10.5" font-weight="bold" text-anchor="end" fill="#111">10<tspan font-size="7.35" dy="-3.6">8</tspan></text>
<line x1="482.5" y1="607.8" x2="486.9" y2="607.8" stroke="#111" stroke-width="1.6" />
<text x="481.5" y="611.9" font-size="10.5" font-weight="bold" text-anchor="end" fill="#111">10<tspan font-size="7.35" dy="-3.6">6</tspan></text>
<line x1="482.5" y1="623.5" x2="486.9" y2="623.5" stroke="#111" stroke-width="1.6" />
<text x="481.5" y="627.6" font-size="10.5" font-weight="bold" text-anchor="end" fill="#111">10<tspan font-size="7.35" dy="-3.6">4</tspan></text>
<line x1="482.5" y1="639.2" x2="486.9" y2="639.2" stroke="#111" stroke-width="1.6" />
<text x="481.5" y="643.3" font-size="10.5" font-weight="bold" text-anchor="end" fill="#111">10<tspan font-size="7.35" dy="-3.6">2</tspan></text>
<line x1="497" y1="639.2" x2="497" y2="643.5" stroke="#111" stroke-width="1.6" />
<text x="497" y="655.3" font-size="10.2" text-anchor="middle" font-weight="bold" fill="#111" >B</text>
<line x1="513.8" y1="639.2" x2="513.8" y2="643.5" stroke="#111" stroke-width="1.6" />
<text x="513.8" y="655.3" font-size="10.2" text-anchor="middle" font-weight="bold" fill="#111" >D</text>
<line x1="530.1" y1="639.2" x2="530.1" y2="643.5" stroke="#111" stroke-width="1.6" />
<text x="530.1" y="655.3" font-size="10.2" text-anchor="middle" font-weight="bold" fill="#111" >New</text>
<text x="513.8" y="668.8" font-size="10.6" text-anchor="middle" font-weight="bold" fill="#111" >Cluster</text>
<text x="0" y="0" font-size="10.3" text-anchor="middle" font-weight="bold" fill="#111" transform="translate(436.8,598.9) rotate(-90)">Virus load</text>
<text x="0" y="0" font-size="10.3" text-anchor="middle" font-weight="bold" fill="#111" transform="translate(449.6,598.5) rotate(-90)">(genome copies/mL)</text>
<text x="522.6" y="551.8" font-size="9.5" text-anchor="middle" fill="#222" >ns</text>
<polyline points="513.8,563.3 513.8,557.4 530.1,557.4 530.1,563.3" fill="none" stroke="#000" stroke-width="1.5" />
<circle cx="497" cy="607.6" r="2.4" fill="#2E9E6E" />
<circle cx="513.4" cy="571.4" r="2.2" fill="#fff" stroke="#FF44FF" stroke-width="1.3" />
<circle cx="513.4" cy="630.5" r="2.2" fill="#fff" stroke="#FF44FF" stroke-width="1.3" />
<polygon points="514.9,582.2 515.9,586 516.9,590 517.9,595 518.5,600 518,606 517,612 516.2,618 514.9,622.8 511.9,622.8 510.6,618 509.8,612 508.8,606 508.3,600 508.9,595 509.9,590 510.9,586 511.9,582.2" fill="#FF66FF" stroke="#FF44FF" stroke-width="2.2" stroke-linejoin="round"/>
<circle cx="514.42" cy="607.29" r="1.9" fill="#FFAAFF" stroke="#FF44FF" stroke-width="0.9" />
<circle cx="514.55" cy="614.01" r="1.9" fill="#FFAAFF" stroke="#FF44FF" stroke-width="0.9" />
<circle cx="515.17" cy="611.86" r="1.9" fill="#FFAAFF" stroke="#FF44FF" stroke-width="0.9" />
<circle cx="513.33" cy="584.13" r="1.9" fill="#FFAAFF" stroke="#FF44FF" stroke-width="0.9" />
<circle cx="513.4" cy="619.79" r="1.9" fill="#FFAAFF" stroke="#FF44FF" stroke-width="0.9" />
<circle cx="515.08" cy="608.31" r="1.9" fill="#FFAAFF" stroke="#FF44FF" stroke-width="0.9" />
<circle cx="513.28" cy="587.42" r="1.9" fill="#FFAAFF" stroke="#FF44FF" stroke-width="0.9" />
<circle cx="513.66" cy="592.62" r="1.9" fill="#FFAAFF" stroke="#FF44FF" stroke-width="0.9" />
<circle cx="510.38" cy="605.38" r="1.9" fill="#FFAAFF" stroke="#FF44FF" stroke-width="0.9" />
<circle cx="512.08" cy="591.45" r="1.9" fill="#FFAAFF" stroke="#FF44FF" stroke-width="0.9" />
<circle cx="513.4" cy="618.74" r="1.9" fill="#FFAAFF" stroke="#FF44FF" stroke-width="0.9" />
<circle cx="512.51" cy="612.86" r="1.9" fill="#FFAAFF" stroke="#FF44FF" stroke-width="0.9" />
<circle cx="512.46" cy="614.09" r="1.9" fill="#FFAAFF" stroke="#FF44FF" stroke-width="0.9" />
<circle cx="511.83" cy="607.08" r="1.9" fill="#FFAAFF" stroke="#FF44FF" stroke-width="0.9" />
<circle cx="514.14" cy="583.07" r="1.9" fill="#FFAAFF" stroke="#FF44FF" stroke-width="0.9" />
<circle cx="511.69" cy="591.17" r="1.9" fill="#FFAAFF" stroke="#FF44FF" stroke-width="0.9" />
<circle cx="513.4" cy="621.31" r="1.9" fill="#FFAAFF" stroke="#FF44FF" stroke-width="0.9" />
<circle cx="512.85" cy="617.02" r="1.9" fill="#FFAAFF" stroke="#FF44FF" stroke-width="0.9" />
<circle cx="513.4" cy="620.5" r="1.9" fill="#FFAAFF" stroke="#FF44FF" stroke-width="0.9" />
<circle cx="514.5" cy="604.03" r="1.9" fill="#FFAAFF" stroke="#FF44FF" stroke-width="0.9" />
<circle cx="516.05" cy="590.99" r="1.9" fill="#FFAAFF" stroke="#FF44FF" stroke-width="0.9" />
<circle cx="515.36" cy="609.94" r="1.9" fill="#FFAAFF" stroke="#FF44FF" stroke-width="0.9" />
<circle cx="512.88" cy="617.86" r="1.9" fill="#FFAAFF" stroke="#FF44FF" stroke-width="0.9" />
<circle cx="510.99" cy="597.09" r="1.9" fill="#FFAAFF" stroke="#FF44FF" stroke-width="0.9" />
<circle cx="511.66" cy="588.68" r="1.9" fill="#FFAAFF" stroke="#FF44FF" stroke-width="0.9" />
<circle cx="514.02" cy="594.75" r="1.9" fill="#FFAAFF" stroke="#FF44FF" stroke-width="0.9" />
<line x1="513.4" y1="595" x2="513.4" y2="604.8" stroke="#000" stroke-width="1.8" />
<line x1="510.3" y1="595" x2="516.4" y2="595" stroke="#000" stroke-width="1.8" />
<line x1="510.3" y1="604.8" x2="516.4" y2="604.8" stroke="#000" stroke-width="1.8" />
<line x1="507.7" y1="601.2" x2="519.5" y2="601.2" stroke="#000" stroke-width="1.8" />
<polygon points="531.6,583.8 533.1,587 534.3,592 535.3,597 536,603 535.7,608 534.7,614 533.9,620 533.5,628 533.1,634 531.9,638.7 528.3,638.7 527.1,634 526.7,628 526.3,620 525.5,614 524.5,608 524.2,603 524.9,597 525.9,592 527.1,587 528.6,583.8" fill="#FF2200" stroke="#FF2200" stroke-width="1.2" stroke-linejoin="round"/>
<circle cx="530.1" cy="569" r="2.2" fill="#FF5030" stroke="#FF2200" stroke-width="1.1" />
<circle cx="530.1" cy="572.5" r="2.2" fill="#FF5030" stroke="#FF2200" stroke-width="1.1" />
<rect x="524.7" y="604" width="9.2" height="2.7" fill="#000" />
<text x="64.3" y="697.8" font-size="13.4" font-weight="bold" fill="#333" >ORF3 (VP2)</text>
<text x="59.7" y="748" font-size="7.2" fill="#222" >Cluster</text>
<circle cx="65" cy="759.3" r="4.6" fill="#6680FF" stroke="#0033FF" stroke-width="1.6" />
<text x="83.8" y="761.8" font-size="7" fill="#222" >A</text>
<circle cx="65" cy="770.2" r="4.6" fill="#55AA88" stroke="#118855" stroke-width="1.6" />
<text x="83.8" y="772.7" font-size="7" fill="#222" >B</text>
<circle cx="65" cy="781" r="4.6" fill="#FFB860" stroke="#FF9900" stroke-width="1.6" />
<text x="83.8" y="783.5" font-size="7" fill="#222" >C</text>
<circle cx="65" cy="791.8" r="4.6" fill="#FF80FF" stroke="#FF33FF" stroke-width="1.6" />
<text x="83.8" y="794.3" font-size="7" fill="#222" >D</text>
<circle cx="65" cy="802.7" r="4.6" fill="#FF6655" stroke="#FF2200" stroke-width="1.6" />
<text x="83.8" y="805.2" font-size="7" fill="#222" >New</text>
<line x1="51.2" y1="856" x2="51.2" y2="864.9" stroke="#222" stroke-width="0.8" />
<line x1="51.2" y1="856" x2="101.6" y2="856" stroke="#222" stroke-width="0.8" />
<line x1="51.2" y1="864.9" x2="101.6" y2="864.9" stroke="#222" stroke-width="0.8" />
<line x1="101.6" y1="862.1" x2="101.6" y2="869" stroke="#222" stroke-width="0.8" />
<line x1="101.6" y1="862.1" x2="117.8" y2="862.1" stroke="#222" stroke-width="0.8" />
<line x1="147.5" y1="817" x2="147.5" y2="837" stroke="#222" stroke-width="0.8" />
<line x1="147.5" y1="817" x2="151.6" y2="817" stroke="#222" stroke-width="0.8" />
<line x1="151.6" y1="801" x2="151.6" y2="840" stroke="#222" stroke-width="0.8" />
<line x1="151.6" y1="801" x2="164.3" y2="801" stroke="#222" stroke-width="0.8" />
<line x1="164.3" y1="795.5" x2="164.3" y2="803.6" stroke="#222" stroke-width="0.8" />
<line x1="164.3" y1="795.5" x2="172.3" y2="795.5" stroke="#222" stroke-width="0.8" />
<line x1="164.3" y1="803.6" x2="174" y2="803.6" stroke="#222" stroke-width="0.8" />
<line x1="172.3" y1="789" x2="172.3" y2="802" stroke="#222" stroke-width="0.8" />
<line x1="172.3" y1="789" x2="180" y2="789" stroke="#222" stroke-width="0.8" />
<line x1="172.3" y1="802" x2="185" y2="802" stroke="#222" stroke-width="0.8" />
<line x1="185" y1="802" x2="192" y2="802" stroke="#222" stroke-width="0.8" />
<line x1="143.4" y1="866" x2="143.4" y2="869.5" stroke="#222" stroke-width="0.8" />
<line x1="143.4" y1="868" x2="190" y2="868" stroke="#222" stroke-width="0.8" />
<line x1="133" y1="863.6" x2="154" y2="863.6" stroke="#222" stroke-width="0.8" />
<line x1="184" y1="693" x2="196.5" y2="693" stroke="#222" stroke-width="0.8" />
<line x1="184" y1="721.4" x2="198.5" y2="721.4" stroke="#222" stroke-width="0.8" />
<line x1="186" y1="781" x2="203.7" y2="781" stroke="#222" stroke-width="0.8" />
<line x1="186" y1="789.4" x2="205.9" y2="789.4" stroke="#222" stroke-width="0.8" />
<line x1="183" y1="710" x2="183" y2="740" stroke="#222" stroke-width="0.8" />
<rect x="101.6" y="855.3" width="43.7" height="2.1" fill="#fff" stroke="#333" stroke-width="0.6" />
<rect x="117.8" y="861.3" width="39.8" height="2" fill="#fff" stroke="#333" stroke-width="0.6" />
<rect x="189.9" y="865.9" width="15.1" height="1.7" fill="#fff" stroke="#333" stroke-width="0.6" />
<line x1="133" y1="863.8" x2="154" y2="863.8" stroke="#111" stroke-width="1.3" />
<circle cx="161.58" cy="804.5" r="2" fill="#D00000" stroke="#4A0000" stroke-width="0.5" />
<circle cx="159.49" cy="806.14" r="2" fill="#D00000" stroke="#4A0000" stroke-width="0.5" />
<circle cx="163.31" cy="807.84" r="2" fill="#D00000" stroke="#4A0000" stroke-width="0.5" />
<circle cx="161.24" cy="809.32" r="2" fill="#D00000" stroke="#4A0000" stroke-width="0.5" />
<circle cx="160.44" cy="811.09" r="2" fill="#D00000" stroke="#4A0000" stroke-width="0.5" />
<circle cx="160.9" cy="812.84" r="2" fill="#D00000" stroke="#4A0000" stroke-width="0.5" />
<circle cx="159.85" cy="814.02" r="2" fill="#D00000" stroke="#4A0000" stroke-width="0.5" />
<circle cx="161.19" cy="815.47" r="2" fill="#D00000" stroke="#4A0000" stroke-width="0.5" />
<circle cx="162.2" cy="817.13" r="2" fill="#D00000" stroke="#4A0000" stroke-width="0.5" />
<circle cx="156.81" cy="818.64" r="2" fill="#D00000" stroke="#4A0000" stroke-width="0.5" />
<circle cx="157.65" cy="820.42" r="2" fill="#D00000" stroke="#4A0000" stroke-width="0.5" />
<circle cx="160.4" cy="822.13" r="2" fill="#D00000" stroke="#4A0000" stroke-width="0.5" />
<circle cx="157" cy="823.32" r="2" fill="#D00000" stroke="#4A0000" stroke-width="0.5" />
<circle cx="158.68" cy="824.23" r="2" fill="#D00000" stroke="#4A0000" stroke-width="0.5" />
<circle cx="156.34" cy="825.48" r="2" fill="#D00000" stroke="#4A0000" stroke-width="0.5" />
<circle cx="160.62" cy="826.41" r="2" fill="#E81818" stroke="#4A0000" stroke-width="0.5" />
<circle cx="155.64" cy="827.82" r="2" fill="#D00000" stroke="#4A0000" stroke-width="0.5" />
<circle cx="156.74" cy="828.82" r="2" fill="#D00000" stroke="#4A0000" stroke-width="0.5" />
<circle cx="155.86" cy="829.97" r="2" fill="#D00000" stroke="#4A0000" stroke-width="0.5" />
<circle cx="157.3" cy="831.46" r="2" fill="#D00000" stroke="#4A0000" stroke-width="0.5" />
<circle cx="157.65" cy="832.68" r="2" fill="#E81818" stroke="#4A0000" stroke-width="0.5" />
<circle cx="154.5" cy="833.86" r="2" fill="#D00000" stroke="#4A0000" stroke-width="0.5" />
<circle cx="158.88" cy="835.1" r="2" fill="#D00000" stroke="#4A0000" stroke-width="0.5" />
<circle cx="153.76" cy="836.79" r="2" fill="#D00000" stroke="#4A0000" stroke-width="0.5" />
<circle cx="147.49" cy="838.08" r="2" fill="#D00000" stroke="#4A0000" stroke-width="0.5" />
<circle cx="149.19" cy="839.8" r="2" fill="#D00000" stroke="#4A0000" stroke-width="0.5" />
<circle cx="148.28" cy="840.93" r="2" fill="#D00000" stroke="#4A0000" stroke-width="0.5" />
<circle cx="146.25" cy="842.42" r="2" fill="#D00000" stroke="#4A0000" stroke-width="0.5" />
<circle cx="148.75" cy="843.49" r="2" fill="#D00000" stroke="#4A0000" stroke-width="0.5" />
<circle cx="148.14" cy="845.07" r="2" fill="#D00000" stroke="#4A0000" stroke-width="0.5" />
<circle cx="148.33" cy="846.41" r="2" fill="#D00000" stroke="#4A0000" stroke-width="0.5" />
<circle cx="149.96" cy="847.62" r="2" fill="#D00000" stroke="#4A0000" stroke-width="0.5" />
<circle cx="148.22" cy="849.38" r="2" fill="#D00000" stroke="#4A0000" stroke-width="0.5" />
<circle cx="147.85" cy="850.4" r="2" fill="#D00000" stroke="#4A0000" stroke-width="0.5" />
<circle cx="147.53" cy="852.04" r="2" fill="#D00000" stroke="#4A0000" stroke-width="0.5" />
<circle cx="146.92" cy="853.13" r="2" fill="#D00000" stroke="#4A0000" stroke-width="0.5" />
<circle cx="148.84" cy="854.7" r="2" fill="#D00000" stroke="#4A0000" stroke-width="0.5" />
<circle cx="148.84" cy="855.93" r="2" fill="#D00000" stroke="#4A0000" stroke-width="0.5" />
<circle cx="150.35" cy="857.54" r="2" fill="#D00000" stroke="#4A0000" stroke-width="0.5" />
<circle cx="166" cy="809" r="1.8" fill="#FF5050" stroke="#770000" stroke-width="0.4" />
<circle cx="165.5" cy="818" r="1.8" fill="#FF5050" stroke="#770000" stroke-width="0.4" />
<circle cx="164.5" cy="826" r="1.8" fill="#FF5050" stroke="#770000" stroke-width="0.4" />
<circle cx="163.5" cy="831" r="1.8" fill="#FF5050" stroke="#770000" stroke-width="0.4" />
<circle cx="162.5" cy="836" r="1.8" fill="#FF5050" stroke="#770000" stroke-width="0.4" />
<circle cx="158" cy="840" r="1.8" fill="#FF5050" stroke="#770000" stroke-width="0.4" />
<circle cx="157.5" cy="838.8" r="1.8" fill="#FF5050" stroke="#770000" stroke-width="0.4" />
<circle cx="153" cy="819" r="1.8" fill="#FF5050" stroke="#770000" stroke-width="0.4" />
<circle cx="154" cy="826" r="1.8" fill="#FF5050" stroke="#770000" stroke-width="0.4" />
<circle cx="174.3" cy="803.6" r="2.1" fill="#FF1111" stroke="#550000" stroke-width="0.5" />
<circle cx="151.5" cy="857.5" r="1.8" fill="#555" stroke="#222" stroke-width="0.5" />
<circle cx="181.97" cy="792.5" r="1.9" fill="#F0A020" stroke="#663300" stroke-width="0.5" />
<circle cx="184.98" cy="793.45" r="1.9" fill="#F0A020" stroke="#663300" stroke-width="0.5" />
<circle cx="185.9" cy="794.4" r="1.9" fill="#F0A020" stroke="#663300" stroke-width="0.5" />
<circle cx="185.45" cy="795.35" r="1.9" fill="#F0A020" stroke="#663300" stroke-width="0.5" />
<circle cx="184.5" cy="796.3" r="1.9" fill="#F0A020" stroke="#663300" stroke-width="0.5" />
<circle cx="183.19" cy="797.25" r="1.9" fill="#F0A020" stroke="#663300" stroke-width="0.5" />
<circle cx="182.59" cy="798.2" r="1.9" fill="#F0A020" stroke="#663300" stroke-width="0.5" />
<circle cx="185.3" cy="799.15" r="1.9" fill="#F0A020" stroke="#663300" stroke-width="0.5" />
<circle cx="183.5" cy="800.1" r="1.9" fill="#F0A020" stroke="#663300" stroke-width="0.5" />
<circle cx="184.27" cy="801.05" r="1.9" fill="#F0A020" stroke="#663300" stroke-width="0.5" />
<circle cx="180.32" cy="802" r="1.9" fill="#F0A020" stroke="#663300" stroke-width="0.5" />
<circle cx="179.24" cy="802.95" r="1.9" fill="#F0A020" stroke="#663300" stroke-width="0.5" />
<circle cx="180.66" cy="803.9" r="1.9" fill="#F0A020" stroke="#663300" stroke-width="0.5" />
<circle cx="183.17" cy="804.85" r="1.9" fill="#F0A020" stroke="#663300" stroke-width="0.5" />
<circle cx="192" cy="802.1" r="1.9" fill="#555" stroke="#222" stroke-width="0.5" />
<rect x="183.6" y="686" width="4" height="106" fill="#6A006A" />
<circle cx="182.89" cy="686" r="1.9" fill="#D818D8" stroke="#2A002A" stroke-width="0.6" />
<circle cx="182" cy="687.26" r="1.9" fill="#D818D8" stroke="#2A002A" stroke-width="0.6" />
<circle cx="185.52" cy="689.56" r="1.9" fill="#D818D8" stroke="#2A002A" stroke-width="0.6" />
<circle cx="181.55" cy="691.95" r="1.9" fill="#D818D8" stroke="#2A002A" stroke-width="0.6" />
<circle cx="187.92" cy="694.27" r="1.9" fill="#A800A8" stroke="#2A002A" stroke-width="0.6" />
<circle cx="181.78" cy="696.41" r="1.9" fill="#A800A8" stroke="#2A002A" stroke-width="0.6" />
<circle cx="187.04" cy="697.44" r="1.9" fill="#D818D8" stroke="#2A002A" stroke-width="0.6" />
<circle cx="184.07" cy="698.76" r="1.9" fill="#A800A8" stroke="#2A002A" stroke-width="0.6" />
<circle cx="186.91" cy="700.88" r="1.9" fill="#D818D8" stroke="#2A002A" stroke-width="0.6" />
<circle cx="186.75" cy="703.23" r="1.9" fill="#D818D8" stroke="#2A002A" stroke-width="0.6" />
<circle cx="186.88" cy="704.25" r="1.9" fill="#A800A8" stroke="#2A002A" stroke-width="0.6" />
<circle cx="183.07" cy="706.12" r="1.9" fill="#A800A8" stroke="#2A002A" stroke-width="0.6" />
<circle cx="184.98" cy="707.59" r="1.9" fill="#A800A8" stroke="#2A002A" stroke-width="0.6" />
<circle cx="182.83" cy="709.22" r="1.9" fill="#A800A8" stroke="#2A002A" stroke-width="0.6" />
<circle cx="182.92" cy="710.5" r="1.9" fill="#A800A8" stroke="#2A002A" stroke-width="0.6" />
<circle cx="186.56" cy="712.08" r="1.9" fill="#A800A8" stroke="#2A002A" stroke-width="0.6" />
<circle cx="185.72" cy="713.84" r="1.9" fill="#D818D8" stroke="#2A002A" stroke-width="0.6" />
<circle cx="182.81" cy="715.17" r="1.9" fill="#A800A8" stroke="#2A002A" stroke-width="0.6" />
<circle cx="183.71" cy="716.64" r="1.9" fill="#A800A8" stroke="#2A002A" stroke-width="0.6" />
<circle cx="182.44" cy="718.07" r="1.9" fill="#D818D8" stroke="#2A002A" stroke-width="0.6" />
<circle cx="183.87" cy="719.7" r="1.9" fill="#A800A8" stroke="#2A002A" stroke-width="0.6" />
<circle cx="182.62" cy="721.72" r="1.9" fill="#A800A8" stroke="#2A002A" stroke-width="0.6" />
<circle cx="184.2" cy="722.94" r="1.9" fill="#D818D8" stroke="#2A002A" stroke-width="0.6" />
<circle cx="185.75" cy="724.1" r="1.9" fill="#D818D8" stroke="#2A002A" stroke-width="0.6" />
<circle cx="186.61" cy="726.44" r="1.9" fill="#A800A8" stroke="#2A002A" stroke-width="0.6" />
<circle cx="186.53" cy="727.5" r="1.9" fill="#A800A8" stroke="#2A002A" stroke-width="0.6" />
<circle cx="184.41" cy="729.22" r="1.9" fill="#D818D8" stroke="#2A002A" stroke-width="0.6" />
<circle cx="185.64" cy="731.45" r="1.9" fill="#A800A8" stroke="#2A002A" stroke-width="0.6" />
<circle cx="186.99" cy="732.71" r="1.9" fill="#A800A8" stroke="#2A002A" stroke-width="0.6" />
<circle cx="183.88" cy="734.32" r="1.9" fill="#D818D8" stroke="#2A002A" stroke-width="0.6" />
<circle cx="185.66" cy="736.34" r="1.9" fill="#D818D8" stroke="#2A002A" stroke-width="0.6" />
<circle cx="187.34" cy="737.67" r="1.9" fill="#D818D8" stroke="#2A002A" stroke-width="0.6" />
<circle cx="184.48" cy="739.79" r="1.9" fill="#A800A8" stroke="#2A002A" stroke-width="0.6" />
<circle cx="183.22" cy="740.93" r="1.9" fill="#D818D8" stroke="#2A002A" stroke-width="0.6" />
<circle cx="183.25" cy="742.23" r="1.9" fill="#A800A8" stroke="#2A002A" stroke-width="0.6" />
<circle cx="183.31" cy="743.77" r="1.9" fill="#D818D8" stroke="#2A002A" stroke-width="0.6" />
<circle cx="182.9" cy="745.36" r="1.9" fill="#D818D8" stroke="#2A002A" stroke-width="0.6" />
<circle cx="187.1" cy="746.55" r="1.9" fill="#D818D8" stroke="#2A002A" stroke-width="0.6" />
<circle cx="182.88" cy="748.84" r="1.9" fill="#D818D8" stroke="#2A002A" stroke-width="0.6" />
<circle cx="187.08" cy="751.06" r="1.9" fill="#D818D8" stroke="#2A002A" stroke-width="0.6" />
<circle cx="185.45" cy="752.8" r="1.9" fill="#A800A8" stroke="#2A002A" stroke-width="0.6" />
<circle cx="184.97" cy="754.91" r="1.9" fill="#D818D8" stroke="#2A002A" stroke-width="0.6" />
<circle cx="185.21" cy="756.62" r="1.9" fill="#A800A8" stroke="#2A002A" stroke-width="0.6" />
<circle cx="184.78" cy="758.38" r="1.9" fill="#A800A8" stroke="#2A002A" stroke-width="0.6" />
<circle cx="183.72" cy="760.66" r="1.9" fill="#A800A8" stroke="#2A002A" stroke-width="0.6" />
<circle cx="183.98" cy="762.09" r="1.9" fill="#D818D8" stroke="#2A002A" stroke-width="0.6" />
<circle cx="186.95" cy="764.25" r="1.9" fill="#D818D8" stroke="#2A002A" stroke-width="0.6" />
<circle cx="184.74" cy="766.37" r="1.9" fill="#A800A8" stroke="#2A002A" stroke-width="0.6" />
<circle cx="185.53" cy="768.53" r="1.9" fill="#A800A8" stroke="#2A002A" stroke-width="0.6" />
<circle cx="184.22" cy="770.75" r="1.9" fill="#D818D8" stroke="#2A002A" stroke-width="0.6" />
<circle cx="184.05" cy="771.91" r="1.9" fill="#A800A8" stroke="#2A002A" stroke-width="0.6" />
<circle cx="186.68" cy="773.68" r="1.9" fill="#A800A8" stroke="#2A002A" stroke-width="0.6" />
<circle cx="186.7" cy="775.59" r="1.9" fill="#D818D8" stroke="#2A002A" stroke-width="0.6" />
<circle cx="184.22" cy="777.05" r="1.9" fill="#D818D8" stroke="#2A002A" stroke-width="0.6" />
<circle cx="186.5" cy="778.45" r="1.9" fill="#A800A8" stroke="#2A002A" stroke-width="0.6" />
<circle cx="186.13" cy="780.71" r="1.9" fill="#A800A8" stroke="#2A002A" stroke-width="0.6" />
<circle cx="184.05" cy="781.8" r="1.9" fill="#A800A8" stroke="#2A002A" stroke-width="0.6" />
<circle cx="185.06" cy="784.07" r="1.9" fill="#A800A8" stroke="#2A002A" stroke-width="0.6" />
<circle cx="183.67" cy="785.56" r="1.9" fill="#A800A8" stroke="#2A002A" stroke-width="0.6" />
<circle cx="185.26" cy="786.65" r="1.9" fill="#A800A8" stroke="#2A002A" stroke-width="0.6" />
<circle cx="183.75" cy="788.68" r="1.9" fill="#D818D8" stroke="#2A002A" stroke-width="0.6" />
<circle cx="184.64" cy="791.07" r="1.9" fill="#A800A8" stroke="#2A002A" stroke-width="0.6" />
<circle cx="196.5" cy="693" r="1.9" fill="#D818D8" stroke="#330033" stroke-width="0.5" />
<circle cx="198.5" cy="721.4" r="1.9" fill="#D818D8" stroke="#330033" stroke-width="0.5" />
<circle cx="203.7" cy="781" r="1.9" fill="#D818D8" stroke="#330033" stroke-width="0.5" />
<circle cx="205.9" cy="789.4" r="1.9" fill="#D818D8" stroke="#330033" stroke-width="0.5" />
<circle cx="191" cy="738" r="1.9" fill="#D818D8" stroke="#330033" stroke-width="0.5" />
<circle cx="190" cy="697" r="1.9" fill="#D818D8" stroke="#330033" stroke-width="0.5" />
<circle cx="192" cy="699" r="1.9" fill="#D818D8" stroke="#330033" stroke-width="0.5" />
<circle cx="193" cy="710" r="1.9" fill="#D818D8" stroke="#330033" stroke-width="0.5" />
<circle cx="191.5" cy="714" r="1.9" fill="#D818D8" stroke="#330033" stroke-width="0.5" />
<circle cx="190.5" cy="725" r="1.9" fill="#D818D8" stroke="#330033" stroke-width="0.5" />
<circle cx="192.5" cy="728" r="1.9" fill="#D818D8" stroke="#330033" stroke-width="0.5" />
<circle cx="189" cy="747" r="1.9" fill="#D818D8" stroke="#330033" stroke-width="0.5" />
<circle cx="189.5" cy="786" r="1.9" fill="#D818D8" stroke="#330033" stroke-width="0.5" />
<circle cx="190" cy="788" r="1.9" fill="#D818D8" stroke="#330033" stroke-width="0.5" />
<circle cx="188" cy="790" r="1.9" fill="#D818D8" stroke="#330033" stroke-width="0.5" />
<circle cx="165" cy="862.5" r="1.8" fill="#1E6A1E" stroke="#0A300A" stroke-width="0.5" />
<circle cx="167.5" cy="861.5" r="1.8" fill="#1E6A1E" stroke="#0A300A" stroke-width="0.5" />
<circle cx="170" cy="860.8" r="1.8" fill="#1E6A1E" stroke="#0A300A" stroke-width="0.5" />
<circle cx="172.5" cy="860" r="1.8" fill="#1E6A1E" stroke="#0A300A" stroke-width="0.5" />
<circle cx="174.5" cy="859.3" r="1.8" fill="#1E6A1E" stroke="#0A300A" stroke-width="0.5" />
<circle cx="176.5" cy="859.8" r="1.8" fill="#1E6A1E" stroke="#0A300A" stroke-width="0.5" />
<circle cx="178" cy="861" r="1.8" fill="#1E6A1E" stroke="#0A300A" stroke-width="0.5" />
<circle cx="179.5" cy="862.2" r="1.8" fill="#1E6A1E" stroke="#0A300A" stroke-width="0.5" />
<circle cx="181" cy="863.5" r="1.8" fill="#1E6A1E" stroke="#0A300A" stroke-width="0.5" />
<circle cx="176" cy="862.5" r="1.8" fill="#1E6A1E" stroke="#0A300A" stroke-width="0.5" />
<circle cx="172" cy="862.8" r="1.8" fill="#1E6A1E" stroke="#0A300A" stroke-width="0.5" />
<circle cx="169" cy="863.2" r="1.8" fill="#1E6A1E" stroke="#0A300A" stroke-width="0.5" />
<circle cx="150" cy="864" r="1.6" fill="#55A055" stroke="#1A4A1A" stroke-width="0.4" />
<circle cx="186.1" cy="860.6" r="1.6" fill="#55A055" stroke="#1A4A1A" stroke-width="0.4" />
<line x1="158" y1="863.2" x2="181" y2="863.6" stroke="#111" stroke-width="0.9" />
<circle cx="172.8" cy="868.7" r="1.8" fill="#7080F0" stroke="#3040A0" stroke-width="0.4" />
<circle cx="192.2" cy="868.7" r="1.8" fill="#7080F0" stroke="#3040A0" stroke-width="0.4" />
<circle cx="206.5" cy="864" r="1.8" fill="#2233EE" stroke="#000066" stroke-width="0.5" />
<circle cx="208" cy="866" r="1.8" fill="#2233EE" stroke="#000066" stroke-width="0.5" />
<circle cx="210" cy="867" r="1.8" fill="#2233EE" stroke="#000066" stroke-width="0.5" />
<circle cx="212" cy="865.5" r="1.8" fill="#2233EE" stroke="#000066" stroke-width="0.5" />
<circle cx="214" cy="866.5" r="1.8" fill="#2233EE" stroke="#000066" stroke-width="0.5" />
<circle cx="216.5" cy="865.8" r="1.8" fill="#2233EE" stroke="#000066" stroke-width="0.5" />
<circle cx="218.7" cy="866.4" r="1.8" fill="#2233EE" stroke="#000066" stroke-width="0.5" />
<circle cx="209" cy="863.5" r="1.8" fill="#2233EE" stroke="#000066" stroke-width="0.5" />
<text x="51.2" y="873" font-size="6.5" fill="#222" >0.03</text>
<line x1="51.2" y1="875.5" x2="65.7" y2="875.5" stroke="#222" stroke-width="0.9" />
<text x="284.32" y="692.9" font-size="6.6" text-anchor="middle" fill="#222" textLength="9.91" lengthAdjust="spacingAndGlyphs">130</text>
<text x="298.56" y="692.9" font-size="6.6" text-anchor="middle" fill="#222" textLength="9.91" lengthAdjust="spacingAndGlyphs">131</text>
<text x="312.8" y="692.9" font-size="6.6" text-anchor="middle" fill="#222" textLength="9.91" lengthAdjust="spacingAndGlyphs">132</text>
<text x="327.04" y="692.9" font-size="6.6" text-anchor="middle" fill="#222" textLength="9.91" lengthAdjust="spacingAndGlyphs">133</text>
<text x="341.28" y="692.9" font-size="6.6" text-anchor="middle" fill="#222" textLength="9.91" lengthAdjust="spacingAndGlyphs">134</text>
<text x="253.8" y="702.18" font-size="6.7" text-anchor="middle" fill="#222" textLength="4.02" lengthAdjust="spacingAndGlyphs">A</text>
<rect x="277.2" y="695.2" width="14.24" height="9.16" fill="#FF0000" stroke="#222" stroke-width="0.7" />
<text x="284.32" y="702.08" font-size="6.4" text-anchor="middle" fill="#222" textLength="3.84" lengthAdjust="spacingAndGlyphs">K</text>
<rect x="291.44" y="695.2" width="14.24" height="9.16" fill="#7CBB4B" stroke="#222" stroke-width="0.7" />
<text x="298.56" y="702.08" font-size="6.4" text-anchor="middle" fill="#222" textLength="3.52" lengthAdjust="spacingAndGlyphs">T</text>
<rect x="305.68" y="695.2" width="14.24" height="9.16" fill="#FFFF00" stroke="#222" stroke-width="0.7" />
<text x="312.8" y="702.08" font-size="6.4" text-anchor="middle" fill="#222" textLength="1.6" lengthAdjust="spacingAndGlyphs">I</text>
<rect x="319.92" y="695.2" width="14.24" height="9.16" fill="#FFFFFF" stroke="#222" stroke-width="0.7" />
<text x="327.04" y="702.08" font-size="6.4" text-anchor="middle" fill="#222" textLength="1.92" lengthAdjust="spacingAndGlyphs">-</text>
<rect x="334.16" y="695.2" width="14.24" height="9.16" fill="#7CBB4B" stroke="#222" stroke-width="0.7" />
<text x="341.28" y="702.08" font-size="6.4" text-anchor="middle" fill="#222" textLength="4.48" lengthAdjust="spacingAndGlyphs">Q</text>
<text x="253.8" y="711.34" font-size="6.7" text-anchor="middle" fill="#222" textLength="4.02" lengthAdjust="spacingAndGlyphs">B</text>
<rect x="277.2" y="704.36" width="14.24" height="9.16" fill="#FFFF00" stroke="#222" stroke-width="0.7" />
<text x="284.32" y="711.24" font-size="6.4" text-anchor="middle" fill="#222" textLength="3.52" lengthAdjust="spacingAndGlyphs">F</text>
<rect x="291.44" y="704.36" width="14.24" height="9.16" fill="#7CBB4B" stroke="#222" stroke-width="0.7" />
<text x="298.56" y="711.24" font-size="6.4" text-anchor="middle" fill="#222" textLength="4.16" lengthAdjust="spacingAndGlyphs">N</text>
<rect x="305.68" y="704.36" width="14.24" height="9.16" fill="#7CBB4B" stroke="#222" stroke-width="0.7" />
<text x="312.8" y="711.24" font-size="6.4" text-anchor="middle" fill="#222" textLength="3.84" lengthAdjust="spacingAndGlyphs">S</text>
<rect x="319.92" y="704.36" width="14.24" height="9.16" fill="#FFFFFF" stroke="#222" stroke-width="0.7" />
<text x="327.04" y="711.24" font-size="6.4" text-anchor="middle" fill="#222" textLength="1.92" lengthAdjust="spacingAndGlyphs">-</text>
<rect x="334.16" y="704.36" width="14.24" height="9.16" fill="#FF0000" stroke="#222" stroke-width="0.7" />
<text x="341.28" y="711.24" font-size="6.4" text-anchor="middle" fill="#222" textLength="3.84" lengthAdjust="spacingAndGlyphs">K</text>
<text x="253.8" y="720.5" font-size="6.7" text-anchor="middle" fill="#222" textLength="41.24" lengthAdjust="spacingAndGlyphs">Arg13099/2015</text>
<rect x="277.2" y="713.52" width="14.24" height="9.16" fill="#1F56E6" stroke="#222" stroke-width="0.7" />
<text x="284.32" y="720.4" font-size="6.4" text-anchor="middle" fill="#222" textLength="3.84" lengthAdjust="spacingAndGlyphs">P</text>
<rect x="291.44" y="713.52" width="14.24" height="9.16" fill="#7CBB4B" stroke="#222" stroke-width="0.7" />
<text x="298.56" y="720.4" font-size="6.4" text-anchor="middle" fill="#222" textLength="3.52" lengthAdjust="spacingAndGlyphs">T</text>
<rect x="305.68" y="713.52" width="14.24" height="9.16" fill="#FFFF00" stroke="#222" stroke-width="0.7" />
<text x="312.8" y="720.4" font-size="6.4" text-anchor="middle" fill="#222" textLength="3.84" lengthAdjust="spacingAndGlyphs">V</text>
<rect x="319.92" y="713.52" width="14.24" height="9.16" fill="#1F56E6" stroke="#222" stroke-width="0.7" />
<text x="327.04" y="720.4" font-size="6.4" text-anchor="middle" fill="#222" textLength="3.84" lengthAdjust="spacingAndGlyphs">P</text>
<rect x="334.16" y="713.52" width="14.24" height="9.16" fill="#7CBB4B" stroke="#222" stroke-width="0.7" />
<text x="341.28" y="720.4" font-size="6.4" text-anchor="middle" fill="#222" textLength="4.48" lengthAdjust="spacingAndGlyphs">Q</text>
<text x="253.8" y="729.66" font-size="6.7" text-anchor="middle" fill="#222" textLength="4.35" lengthAdjust="spacingAndGlyphs">C</text>
<rect x="277.2" y="722.68" width="14.24" height="9.16" fill="#1F56E6" stroke="#222" stroke-width="0.7" />
<text x="284.32" y="729.56" font-size="6.4" text-anchor="middle" fill="#222" textLength="3.84" lengthAdjust="spacingAndGlyphs">P</text>
<rect x="291.44" y="722.68" width="14.24" height="9.16" fill="#7CBB4B" stroke="#222" stroke-width="0.7" />
<text x="298.56" y="729.56" font-size="6.4" text-anchor="middle" fill="#222" textLength="4.16" lengthAdjust="spacingAndGlyphs">N</text>
<rect x="305.68" y="722.68" width="14.24" height="9.16" fill="#FFFF00" stroke="#222" stroke-width="0.7" />
<text x="312.8" y="729.56" font-size="6.4" text-anchor="middle" fill="#222" textLength="3.84" lengthAdjust="spacingAndGlyphs">A</text>
<rect x="319.92" y="722.68" width="14.24" height="9.16" fill="#1F56E6" stroke="#222" stroke-width="0.7" />
<text x="327.04" y="729.56" font-size="6.4" text-anchor="middle" fill="#222" textLength="3.84" lengthAdjust="spacingAndGlyphs">P</text>
<rect x="334.16" y="722.68" width="14.24" height="9.16" fill="#7CBB4B" stroke="#222" stroke-width="0.7" />
<text x="341.28" y="729.56" font-size="6.4" text-anchor="middle" fill="#222" textLength="4.48" lengthAdjust="spacingAndGlyphs">Q</text>
<text x="253.8" y="738.82" font-size="6.7" text-anchor="middle" fill="#222" textLength="4.35" lengthAdjust="spacingAndGlyphs">D</text>
<rect x="277.2" y="731.84" width="14.24" height="9.16" fill="#1F56E6" stroke="#222" stroke-width="0.7" />
<text x="284.32" y="738.72" font-size="6.4" text-anchor="middle" fill="#222" textLength="3.84" lengthAdjust="spacingAndGlyphs">P</text>
<rect x="291.44" y="731.84" width="14.24" height="9.16" fill="#7CBB4B" stroke="#222" stroke-width="0.7" />
<text x="298.56" y="738.72" font-size="6.4" text-anchor="middle" fill="#222" textLength="4.16" lengthAdjust="spacingAndGlyphs">N</text>
<rect x="305.68" y="731.84" width="14.24" height="9.16" fill="#FFFF00" stroke="#222" stroke-width="0.7" />
<text x="312.8" y="738.72" font-size="6.4" text-anchor="middle" fill="#222" textLength="3.84" lengthAdjust="spacingAndGlyphs">A</text>
<rect x="319.92" y="731.84" width="14.24" height="9.16" fill="#1F56E6" stroke="#222" stroke-width="0.7" />
<text x="327.04" y="738.72" font-size="6.4" text-anchor="middle" fill="#222" textLength="3.84" lengthAdjust="spacingAndGlyphs">P</text>
<rect x="334.16" y="731.84" width="14.24" height="9.16" fill="#7CBB4B" stroke="#222" stroke-width="0.7" />
<text x="341.28" y="738.72" font-size="6.4" text-anchor="middle" fill="#222" textLength="4.48" lengthAdjust="spacingAndGlyphs">Q</text>
<text x="253.8" y="747.98" font-size="6.7" text-anchor="middle" fill="#222" textLength="12.06" lengthAdjust="spacingAndGlyphs">New</text>
<rect x="277.2" y="741" width="14.24" height="9.16" fill="#1F56E6" stroke="#222" stroke-width="0.7" />
<text x="284.32" y="747.88" font-size="6.4" text-anchor="middle" fill="#222" textLength="3.84" lengthAdjust="spacingAndGlyphs">P</text>
<rect x="291.44" y="741" width="14.24" height="9.16" fill="#7CBB4B" stroke="#222" stroke-width="0.7" />
<text x="298.56" y="747.88" font-size="6.4" text-anchor="middle" fill="#222" textLength="3.84" lengthAdjust="spacingAndGlyphs">S</text>
<rect x="305.68" y="741" width="14.24" height="9.16" fill="#FFFF00" stroke="#222" stroke-width="0.7" />
<text x="312.8" y="747.88" font-size="6.4" text-anchor="middle" fill="#222" textLength="3.84" lengthAdjust="spacingAndGlyphs">A</text>
<rect x="319.92" y="741" width="14.24" height="9.16" fill="#1F56E6" stroke="#222" stroke-width="0.7" />
<text x="327.04" y="747.88" font-size="6.4" text-anchor="middle" fill="#222" textLength="3.84" lengthAdjust="spacingAndGlyphs">P</text>
<rect x="334.16" y="741" width="14.24" height="9.16" fill="#7CBB4B" stroke="#222" stroke-width="0.7" />
<text x="341.28" y="747.88" font-size="6.4" text-anchor="middle" fill="#222" textLength="4.48" lengthAdjust="spacingAndGlyphs">Q</text>
<text x="253.8" y="757.14" font-size="6.7" text-anchor="middle" fill="#222" textLength="38.54" lengthAdjust="spacingAndGlyphs">T055/1977 (A)</text>
<rect x="277.2" y="750.16" width="14.24" height="9.16" fill="#FF0000" stroke="#222" stroke-width="0.7" />
<text x="284.32" y="757.04" font-size="6.4" text-anchor="middle" fill="#222" textLength="3.84" lengthAdjust="spacingAndGlyphs">K</text>
<rect x="291.44" y="750.16" width="14.24" height="9.16" fill="#FFFFFF" stroke="#222" stroke-width="0.7" />
<text x="298.56" y="757.04" font-size="6.4" text-anchor="middle" fill="#222" textLength="1.92" lengthAdjust="spacingAndGlyphs">-</text>
<rect x="305.68" y="750.16" width="14.24" height="9.16" fill="#FFFFFF" stroke="#222" stroke-width="0.7" />
<text x="312.8" y="757.04" font-size="6.4" text-anchor="middle" fill="#222" textLength="1.92" lengthAdjust="spacingAndGlyphs">-</text>
<rect x="319.92" y="750.16" width="14.24" height="9.16" fill="#FFFFFF" stroke="#222" stroke-width="0.7" />
<text x="327.04" y="757.04" font-size="6.4" text-anchor="middle" fill="#222" textLength="1.92" lengthAdjust="spacingAndGlyphs">-</text>
<rect x="334.16" y="750.16" width="14.24" height="9.16" fill="#7CBB4B" stroke="#222" stroke-width="0.7" />
<text x="341.28" y="757.04" font-size="6.4" text-anchor="middle" fill="#222" textLength="4.48" lengthAdjust="spacingAndGlyphs">Q</text>
<rect x="277.2" y="695.2" width="71.2" height="64.12" fill="none" stroke="#111" stroke-width="1" />
<line x1="277.2" y1="750.16" x2="348.4" y2="750.16" stroke="#111" stroke-width="1.4" />
<text x="448.6" y="692" font-size="6.6" text-anchor="middle" fill="#222" textLength="9.91" lengthAdjust="spacingAndGlyphs">138</text>
<text x="462.8" y="692" font-size="6.6" text-anchor="middle" fill="#222" textLength="9.91" lengthAdjust="spacingAndGlyphs">139</text>
<text x="477" y="692" font-size="6.6" text-anchor="middle" fill="#222" textLength="9.91" lengthAdjust="spacingAndGlyphs">140</text>
<text x="418.2" y="701.03" font-size="6.7" text-anchor="middle" fill="#222" textLength="4.02" lengthAdjust="spacingAndGlyphs">A</text>
<rect x="441.5" y="694.1" width="14.2" height="9.07" fill="#FFFF00" stroke="#222" stroke-width="0.7" />
<text x="448.6" y="700.93" font-size="6.4" text-anchor="middle" fill="#222" textLength="3.84" lengthAdjust="spacingAndGlyphs">V</text>
<rect x="455.7" y="694.1" width="14.2" height="9.07" fill="#FFFFFF" stroke="#222" stroke-width="0.7" />
<text x="462.8" y="700.93" font-size="6.4" text-anchor="middle" fill="#222" textLength="1.92" lengthAdjust="spacingAndGlyphs">-</text>
<rect x="469.9" y="694.1" width="14.2" height="9.07" fill="#FF0000" stroke="#222" stroke-width="0.7" />
<text x="477" y="700.93" font-size="6.4" text-anchor="middle" fill="#222" textLength="3.84" lengthAdjust="spacingAndGlyphs">K</text>
<text x="418.2" y="710.11" font-size="6.7" text-anchor="middle" fill="#222" textLength="4.02" lengthAdjust="spacingAndGlyphs">B</text>
<rect x="441.5" y="703.17" width="14.2" height="9.07" fill="#1F56E6" stroke="#222" stroke-width="0.7" />
<text x="448.6" y="710" font-size="6.4" text-anchor="middle" fill="#222" textLength="3.84" lengthAdjust="spacingAndGlyphs">P</text>
<rect x="455.7" y="703.17" width="14.2" height="9.07" fill="#FFFFFF" stroke="#222" stroke-width="0.7" />
<text x="462.8" y="710" font-size="6.4" text-anchor="middle" fill="#222" textLength="1.92" lengthAdjust="spacingAndGlyphs">-</text>
<rect x="469.9" y="703.17" width="14.2" height="9.07" fill="#FFFF00" stroke="#222" stroke-width="0.7" />
<text x="477" y="710" font-size="6.4" text-anchor="middle" fill="#222" textLength="3.84" lengthAdjust="spacingAndGlyphs">V</text>
<text x="418.2" y="719.17" font-size="6.7" text-anchor="middle" fill="#222" textLength="41.24" lengthAdjust="spacingAndGlyphs">Arg13099/2015</text>
<rect x="441.5" y="712.24" width="14.2" height="9.07" fill="#FFFF00" stroke="#222" stroke-width="0.7" />
<text x="448.6" y="719.07" font-size="6.4" text-anchor="middle" fill="#222" textLength="3.84" lengthAdjust="spacingAndGlyphs">V</text>
<rect x="455.7" y="712.24" width="14.2" height="9.07" fill="#FF0000" stroke="#222" stroke-width="0.7" />
<text x="462.8" y="719.07" font-size="6.4" text-anchor="middle" fill="#222" textLength="3.84" lengthAdjust="spacingAndGlyphs">K</text>
<rect x="469.9" y="712.24" width="14.2" height="9.07" fill="#7CBB4B" stroke="#222" stroke-width="0.7" />
<text x="477" y="719.07" font-size="6.4" text-anchor="middle" fill="#222" textLength="3.84" lengthAdjust="spacingAndGlyphs">S</text>
<text x="418.2" y="728.25" font-size="6.7" text-anchor="middle" fill="#222" textLength="4.35" lengthAdjust="spacingAndGlyphs">C</text>
<rect x="441.5" y="721.31" width="14.2" height="9.07" fill="#FFFF00" stroke="#222" stroke-width="0.7" />
<text x="448.6" y="728.14" font-size="6.4" text-anchor="middle" fill="#222" textLength="3.84" lengthAdjust="spacingAndGlyphs">A</text>
<rect x="455.7" y="721.31" width="14.2" height="9.07" fill="#FF0000" stroke="#222" stroke-width="0.7" />
<text x="462.8" y="728.14" font-size="6.4" text-anchor="middle" fill="#222" textLength="3.84" lengthAdjust="spacingAndGlyphs">K</text>
<rect x="469.9" y="721.31" width="14.2" height="9.07" fill="#1F56E6" stroke="#222" stroke-width="0.7" />
<text x="477" y="728.14" font-size="6.4" text-anchor="middle" fill="#222" textLength="3.84" lengthAdjust="spacingAndGlyphs">P</text>
<text x="418.2" y="737.31" font-size="6.7" text-anchor="middle" fill="#222" textLength="4.35" lengthAdjust="spacingAndGlyphs">D</text>
<rect x="441.5" y="730.38" width="14.2" height="9.07" fill="#FFFF00" stroke="#222" stroke-width="0.7" />
<text x="448.6" y="737.21" font-size="6.4" text-anchor="middle" fill="#222" textLength="3.84" lengthAdjust="spacingAndGlyphs">A</text>
<rect x="455.7" y="730.38" width="14.2" height="9.07" fill="#FF0000" stroke="#222" stroke-width="0.7" />
<text x="462.8" y="737.21" font-size="6.4" text-anchor="middle" fill="#222" textLength="3.84" lengthAdjust="spacingAndGlyphs">K</text>
<rect x="469.9" y="730.38" width="14.2" height="9.07" fill="#1F56E6" stroke="#222" stroke-width="0.7" />
<text x="477" y="737.21" font-size="6.4" text-anchor="middle" fill="#222" textLength="3.84" lengthAdjust="spacingAndGlyphs">P</text>
<text x="418.2" y="746.38" font-size="6.7" text-anchor="middle" fill="#222" textLength="12.06" lengthAdjust="spacingAndGlyphs">New</text>
<rect x="441.5" y="739.45" width="14.2" height="9.07" fill="#FFFF00" stroke="#222" stroke-width="0.7" />
<text x="448.6" y="746.28" font-size="6.4" text-anchor="middle" fill="#222" textLength="3.84" lengthAdjust="spacingAndGlyphs">A</text>
<rect x="455.7" y="739.45" width="14.2" height="9.07" fill="#FF0000" stroke="#222" stroke-width="0.7" />
<text x="462.8" y="746.28" font-size="6.4" text-anchor="middle" fill="#222" textLength="3.84" lengthAdjust="spacingAndGlyphs">K</text>
<rect x="469.9" y="739.45" width="14.2" height="9.07" fill="#1F56E6" stroke="#222" stroke-width="0.7" />
<text x="477" y="746.28" font-size="6.4" text-anchor="middle" fill="#222" textLength="3.84" lengthAdjust="spacingAndGlyphs">P</text>
<text x="418.2" y="755.45" font-size="6.7" text-anchor="middle" fill="#222" textLength="43.24" lengthAdjust="spacingAndGlyphs">DS284/1990 (B)</text>
<rect x="441.5" y="748.52" width="14.2" height="9.07" fill="#7CBB4B" stroke="#222" stroke-width="0.7" />
<text x="448.6" y="755.35" font-size="6.4" text-anchor="middle" fill="#222" textLength="3.52" lengthAdjust="spacingAndGlyphs">T</text>
<rect x="455.7" y="748.52" width="14.2" height="9.07" fill="#7CBB4B" stroke="#222" stroke-width="0.7" />
<text x="462.8" y="755.35" font-size="6.4" text-anchor="middle" fill="#222" textLength="4.16" lengthAdjust="spacingAndGlyphs">N</text>
<rect x="469.9" y="748.52" width="14.2" height="9.07" fill="#FFFF00" stroke="#222" stroke-width="0.7" />
<text x="477" y="755.35" font-size="6.4" text-anchor="middle" fill="#222" textLength="3.84" lengthAdjust="spacingAndGlyphs">V</text>
<text x="418.2" y="764.52" font-size="6.7" text-anchor="middle" fill="#222" textLength="25.48" lengthAdjust="spacingAndGlyphs">B in 2023</text>
<rect x="441.5" y="757.59" width="14.2" height="9.07" fill="#7CBB4B" stroke="#222" stroke-width="0.7" />
<text x="448.6" y="764.42" font-size="6.4" text-anchor="middle" fill="#222" textLength="3.52" lengthAdjust="spacingAndGlyphs">T</text>
<rect x="455.7" y="757.59" width="14.2" height="9.07" fill="#7CBB4B" stroke="#222" stroke-width="0.7" />
<text x="462.8" y="764.42" font-size="6.4" text-anchor="middle" fill="#222" textLength="3.84" lengthAdjust="spacingAndGlyphs">S</text>
<rect x="469.9" y="757.59" width="14.2" height="9.07" fill="#FFFF00" stroke="#222" stroke-width="0.7" />
<text x="477" y="764.42" font-size="6.4" text-anchor="middle" fill="#222" textLength="3.84" lengthAdjust="spacingAndGlyphs">V</text>
<rect x="441.5" y="694.1" width="42.6" height="72.56" fill="none" stroke="#111" stroke-width="1" />
<line x1="441.5" y1="748.52" x2="484.1" y2="748.52" stroke="#111" stroke-width="1.4" />
<text x="583.62" y="692" font-size="6.6" text-anchor="middle" fill="#222" textLength="9.91" lengthAdjust="spacingAndGlyphs">167</text>
<text x="597.68" y="692" font-size="6.6" text-anchor="middle" fill="#222" textLength="9.91" lengthAdjust="spacingAndGlyphs">168</text>
<text x="625.77" y="692" font-size="6.6" text-anchor="middle" fill="#222" textLength="9.91" lengthAdjust="spacingAndGlyphs">169</text>
<text x="653.88" y="692" font-size="6.6" text-anchor="middle" fill="#222" textLength="9.91" lengthAdjust="spacingAndGlyphs">170</text>
<text x="545.6" y="701.43" font-size="6.7" text-anchor="middle" fill="#222" textLength="4.02" lengthAdjust="spacingAndGlyphs">A</text>
<rect x="576.6" y="694.5" width="14.05" height="9.07" fill="#7CBB4B" stroke="#222" stroke-width="0.7" />
<text x="583.62" y="701.33" font-size="6.4" text-anchor="middle" fill="#222" textLength="3.84" lengthAdjust="spacingAndGlyphs">S</text>
<rect x="590.65" y="694.5" width="14.05" height="9.07" fill="#D070D0" stroke="#222" stroke-width="0.7" />
<text x="597.68" y="701.33" font-size="6.4" text-anchor="middle" fill="#222" textLength="4.48" lengthAdjust="spacingAndGlyphs">G</text>
<rect x="604.7" y="694.5" width="14.05" height="9.07" fill="#7CBB4B" stroke="#222" stroke-width="0.7" />
<text x="611.73" y="701.33" font-size="6.4" text-anchor="middle" fill="#222" textLength="3.84" lengthAdjust="spacingAndGlyphs">S</text>
<rect x="618.75" y="694.5" width="14.05" height="9.07" fill="#7CBB4B" stroke="#222" stroke-width="0.7" />
<text x="625.77" y="701.33" font-size="6.4" text-anchor="middle" fill="#222" textLength="3.84" lengthAdjust="spacingAndGlyphs">S</text>
<rect x="632.8" y="694.5" width="14.05" height="9.07" fill="#7CBB4B" stroke="#222" stroke-width="0.7" />
<text x="639.83" y="701.33" font-size="6.4" text-anchor="middle" fill="#222" textLength="3.84" lengthAdjust="spacingAndGlyphs">S</text>
<rect x="646.85" y="694.5" width="14.05" height="9.07" fill="#FFFF00" stroke="#222" stroke-width="0.7" />
<text x="653.88" y="701.33" font-size="6.4" text-anchor="middle" fill="#222" textLength="3.84" lengthAdjust="spacingAndGlyphs">V</text>
<text x="545.6" y="710.5" font-size="6.7" text-anchor="middle" fill="#222" textLength="4.02" lengthAdjust="spacingAndGlyphs">B</text>
<rect x="576.6" y="703.57" width="14.05" height="9.07" fill="#7CBB4B" stroke="#222" stroke-width="0.7" />
<text x="583.62" y="710.4" font-size="6.4" text-anchor="middle" fill="#222" textLength="3.84" lengthAdjust="spacingAndGlyphs">S</text>
<rect x="590.65" y="703.57" width="14.05" height="9.07" fill="#7CBB4B" stroke="#222" stroke-width="0.7" />
<text x="597.68" y="710.4" font-size="6.4" text-anchor="middle" fill="#222" textLength="3.84" lengthAdjust="spacingAndGlyphs">S</text>
<rect x="604.7" y="703.57" width="14.05" height="9.07" fill="#D070D0" stroke="#222" stroke-width="0.7" />
<text x="611.73" y="710.4" font-size="6.4" text-anchor="middle" fill="#222" textLength="4.48" lengthAdjust="spacingAndGlyphs">G</text>
<rect x="618.75" y="703.57" width="14.05" height="9.07" fill="#7CBB4B" stroke="#222" stroke-width="0.7" />
<text x="625.77" y="710.4" font-size="6.4" text-anchor="middle" fill="#222" textLength="3.84" lengthAdjust="spacingAndGlyphs">S</text>
<rect x="632.8" y="703.57" width="14.05" height="9.07" fill="#7CBB4B" stroke="#222" stroke-width="0.7" />
<text x="639.83" y="710.4" font-size="6.4" text-anchor="middle" fill="#222" textLength="3.84" lengthAdjust="spacingAndGlyphs">S</text>
<rect x="646.85" y="703.57" width="14.05" height="9.07" fill="#FFFF00" stroke="#222" stroke-width="0.7" />
<text x="653.88" y="710.4" font-size="6.4" text-anchor="middle" fill="#222" textLength="3.84" lengthAdjust="spacingAndGlyphs">V</text>
<text x="545.6" y="719.57" font-size="6.7" text-anchor="middle" fill="#222" textLength="41.24" lengthAdjust="spacingAndGlyphs">Arg13099/2015</text>
<rect x="576.6" y="712.64" width="14.05" height="9.07" fill="#7CBB4B" stroke="#222" stroke-width="0.7" />
<text x="583.62" y="719.47" font-size="6.4" text-anchor="middle" fill="#222" textLength="3.84" lengthAdjust="spacingAndGlyphs">S</text>
<rect x="590.65" y="712.64" width="14.05" height="9.07" fill="#7CBB4B" stroke="#222" stroke-width="0.7" />
<text x="597.68" y="719.47" font-size="6.4" text-anchor="middle" fill="#222" textLength="4.16" lengthAdjust="spacingAndGlyphs">N</text>
<rect x="604.7" y="712.64" width="14.05" height="9.07" fill="#FFFFFF" stroke="#222" stroke-width="0.7" />
<text x="611.73" y="719.47" font-size="6.4" text-anchor="middle" fill="#222" textLength="1.92" lengthAdjust="spacingAndGlyphs">-</text>
<rect x="618.75" y="712.64" width="14.05" height="9.07" fill="#7CBB4B" stroke="#222" stroke-width="0.7" />
<text x="625.77" y="719.47" font-size="6.4" text-anchor="middle" fill="#222" textLength="3.84" lengthAdjust="spacingAndGlyphs">S</text>
<rect x="632.8" y="712.64" width="14.05" height="9.07" fill="#FFFF00" stroke="#222" stroke-width="0.7" />
<text x="639.83" y="719.47" font-size="6.4" text-anchor="middle" fill="#222" textLength="3.2" lengthAdjust="spacingAndGlyphs">L</text>
<rect x="646.85" y="712.64" width="14.05" height="9.07" fill="#FFFF00" stroke="#222" stroke-width="0.7" />
<text x="653.88" y="719.47" font-size="6.4" text-anchor="middle" fill="#222" textLength="3.84" lengthAdjust="spacingAndGlyphs">V</text>
<text x="545.6" y="728.64" font-size="6.7" text-anchor="middle" fill="#222" textLength="4.35" lengthAdjust="spacingAndGlyphs">C</text>
<rect x="576.6" y="721.71" width="14.05" height="9.07" fill="#7CBB4B" stroke="#222" stroke-width="0.7" />
<text x="583.62" y="728.54" font-size="6.4" text-anchor="middle" fill="#222" textLength="3.84" lengthAdjust="spacingAndGlyphs">S</text>
<rect x="590.65" y="721.71" width="14.05" height="9.07" fill="#7CBB4B" stroke="#222" stroke-width="0.7" />
<text x="597.68" y="728.54" font-size="6.4" text-anchor="middle" fill="#222" textLength="3.84" lengthAdjust="spacingAndGlyphs">S</text>
<rect x="604.7" y="721.71" width="14.05" height="9.07" fill="#FFFFFF" stroke="#222" stroke-width="0.7" />
<text x="611.73" y="728.54" font-size="6.4" text-anchor="middle" fill="#222" textLength="1.92" lengthAdjust="spacingAndGlyphs">-</text>
<rect x="618.75" y="721.71" width="14.05" height="9.07" fill="#7CBB4B" stroke="#222" stroke-width="0.7" />
<text x="625.77" y="728.54" font-size="6.4" text-anchor="middle" fill="#222" textLength="4.16" lengthAdjust="spacingAndGlyphs">N</text>
<rect x="632.8" y="721.71" width="14.05" height="9.07" fill="#FFFFFF" stroke="#222" stroke-width="0.7" />
<text x="639.83" y="728.54" font-size="6.4" text-anchor="middle" fill="#222" textLength="1.92" lengthAdjust="spacingAndGlyphs">-</text>
<rect x="646.85" y="721.71" width="14.05" height="9.07" fill="#FFFF00" stroke="#222" stroke-width="0.7" />
<text x="653.88" y="728.54" font-size="6.4" text-anchor="middle" fill="#222" textLength="3.84" lengthAdjust="spacingAndGlyphs">A</text>
<text x="545.6" y="737.71" font-size="6.7" text-anchor="middle" fill="#222" textLength="4.35" lengthAdjust="spacingAndGlyphs">D</text>
<rect x="576.6" y="730.78" width="14.05" height="9.07" fill="#7CBB4B" stroke="#222" stroke-width="0.7" />
<text x="583.62" y="737.61" font-size="6.4" text-anchor="middle" fill="#222" textLength="3.84" lengthAdjust="spacingAndGlyphs">S</text>
<rect x="590.65" y="730.78" width="14.05" height="9.07" fill="#7CBB4B" stroke="#222" stroke-width="0.7" />
<text x="597.68" y="737.61" font-size="6.4" text-anchor="middle" fill="#222" textLength="3.84" lengthAdjust="spacingAndGlyphs">S</text>
<rect x="604.7" y="730.78" width="14.05" height="9.07" fill="#FFFFFF" stroke="#222" stroke-width="0.7" />
<text x="611.73" y="737.61" font-size="6.4" text-anchor="middle" fill="#222" textLength="1.92" lengthAdjust="spacingAndGlyphs">-</text>
<rect x="618.75" y="730.78" width="14.05" height="9.07" fill="#7CBB4B" stroke="#222" stroke-width="0.7" />
<text x="625.77" y="737.61" font-size="6.4" text-anchor="middle" fill="#222" textLength="4.16" lengthAdjust="spacingAndGlyphs">N</text>
<rect x="632.8" y="730.78" width="14.05" height="9.07" fill="#FFFFFF" stroke="#222" stroke-width="0.7" />
<text x="639.83" y="737.61" font-size="6.4" text-anchor="middle" fill="#222" textLength="1.92" lengthAdjust="spacingAndGlyphs">-</text>
<rect x="646.85" y="730.78" width="14.05" height="9.07" fill="#FFFF00" stroke="#222" stroke-width="0.7" />
<text x="653.88" y="737.61" font-size="6.4" text-anchor="middle" fill="#222" textLength="3.84" lengthAdjust="spacingAndGlyphs">A</text>
<text x="545.6" y="746.78" font-size="6.7" text-anchor="middle" fill="#222" textLength="12.06" lengthAdjust="spacingAndGlyphs">New</text>
<rect x="576.6" y="739.85" width="14.05" height="9.07" fill="#7CBB4B" stroke="#222" stroke-width="0.7" />
<text x="583.62" y="746.68" font-size="6.4" text-anchor="middle" fill="#222" textLength="3.84" lengthAdjust="spacingAndGlyphs">S</text>
<rect x="590.65" y="739.85" width="14.05" height="9.07" fill="#7CBB4B" stroke="#222" stroke-width="0.7" />
<text x="597.68" y="746.68" font-size="6.4" text-anchor="middle" fill="#222" textLength="3.84" lengthAdjust="spacingAndGlyphs">S</text>
<rect x="604.7" y="739.85" width="14.05" height="9.07" fill="#FFFFFF" stroke="#222" stroke-width="0.7" />
<text x="611.73" y="746.68" font-size="6.4" text-anchor="middle" fill="#222" textLength="1.92" lengthAdjust="spacingAndGlyphs">-</text>
<rect x="618.75" y="739.85" width="14.05" height="9.07" fill="#7CBB4B" stroke="#222" stroke-width="0.7" />
<text x="625.77" y="746.68" font-size="6.4" text-anchor="middle" fill="#222" textLength="4.16" lengthAdjust="spacingAndGlyphs">N</text>
<rect x="632.8" y="739.85" width="14.05" height="9.07" fill="#FFFFFF" stroke="#222" stroke-width="0.7" />
<text x="639.83" y="746.68" font-size="6.4" text-anchor="middle" fill="#222" textLength="1.92" lengthAdjust="spacingAndGlyphs">-</text>
<rect x="646.85" y="739.85" width="14.05" height="9.07" fill="#FFFF00" stroke="#222" stroke-width="0.7" />
<text x="653.88" y="746.68" font-size="6.4" text-anchor="middle" fill="#222" textLength="3.84" lengthAdjust="spacingAndGlyphs">A</text>
<text x="545.6" y="755.85" font-size="6.7" text-anchor="middle" fill="#222" textLength="39.22" lengthAdjust="spacingAndGlyphs">C142/1978 (A)</text>
<rect x="576.6" y="748.92" width="14.05" height="9.07" fill="#FFFF00" stroke="#222" stroke-width="0.7" />
<text x="583.62" y="755.75" font-size="6.4" text-anchor="middle" fill="#222" textLength="3.52" lengthAdjust="spacingAndGlyphs">F</text>
<rect x="590.65" y="748.92" width="14.05" height="9.07" fill="#FFFFFF" stroke="#222" stroke-width="0.7" />
<text x="597.68" y="755.75" font-size="6.4" text-anchor="middle" fill="#222" textLength="1.92" lengthAdjust="spacingAndGlyphs">-</text>
<rect x="604.7" y="748.92" width="14.05" height="9.07" fill="#D070D0" stroke="#222" stroke-width="0.7" />
<text x="611.73" y="755.75" font-size="6.4" text-anchor="middle" fill="#222" textLength="4.48" lengthAdjust="spacingAndGlyphs">G</text>
<rect x="618.75" y="748.92" width="14.05" height="9.07" fill="#7CBB4B" stroke="#222" stroke-width="0.7" />
<text x="625.77" y="755.75" font-size="6.4" text-anchor="middle" fill="#222" textLength="3.84" lengthAdjust="spacingAndGlyphs">S</text>
<rect x="632.8" y="748.92" width="14.05" height="9.07" fill="#7CBB4B" stroke="#222" stroke-width="0.7" />
<text x="639.83" y="755.75" font-size="6.4" text-anchor="middle" fill="#222" textLength="3.84" lengthAdjust="spacingAndGlyphs">S</text>
<rect x="646.85" y="748.92" width="14.05" height="9.07" fill="#FFFF00" stroke="#222" stroke-width="0.7" />
<text x="653.88" y="755.75" font-size="6.4" text-anchor="middle" fill="#222" textLength="3.84" lengthAdjust="spacingAndGlyphs">V</text>
<text x="545.6" y="764.92" font-size="6.7" text-anchor="middle" fill="#222" textLength="38.54" lengthAdjust="spacingAndGlyphs">T055/1977 (A)</text>
<rect x="576.6" y="757.99" width="14.05" height="9.07" fill="#7CBB4B" stroke="#222" stroke-width="0.7" />
<text x="583.62" y="764.82" font-size="6.4" text-anchor="middle" fill="#222" textLength="3.84" lengthAdjust="spacingAndGlyphs">S</text>
<rect x="590.65" y="757.99" width="14.05" height="9.07" fill="#FFFFFF" stroke="#222" stroke-width="0.7" />
<text x="597.68" y="764.82" font-size="6.4" text-anchor="middle" fill="#222" textLength="1.92" lengthAdjust="spacingAndGlyphs">-</text>
<rect x="604.7" y="757.99" width="14.05" height="9.07" fill="#7CBB4B" stroke="#222" stroke-width="0.7" />
<text x="611.73" y="764.82" font-size="6.4" text-anchor="middle" fill="#222" textLength="3.84" lengthAdjust="spacingAndGlyphs">S</text>
<rect x="618.75" y="757.99" width="14.05" height="9.07" fill="#7CBB4B" stroke="#222" stroke-width="0.7" />
<text x="625.77" y="764.82" font-size="6.4" text-anchor="middle" fill="#222" textLength="3.84" lengthAdjust="spacingAndGlyphs">S</text>
<rect x="632.8" y="757.99" width="14.05" height="9.07" fill="#7CBB4B" stroke="#222" stroke-width="0.7" />
<text x="639.83" y="764.82" font-size="6.4" text-anchor="middle" fill="#222" textLength="3.84" lengthAdjust="spacingAndGlyphs">S</text>
<rect x="646.85" y="757.99" width="14.05" height="9.07" fill="#FFFF00" stroke="#222" stroke-width="0.7" />
<text x="653.88" y="764.82" font-size="6.4" text-anchor="middle" fill="#222" textLength="3.84" lengthAdjust="spacingAndGlyphs">A</text>
<text x="545.6" y="773.99" font-size="6.7" text-anchor="middle" fill="#222" textLength="57.31" lengthAdjust="spacingAndGlyphs">SaitamaT87/2002 (A)</text>
<rect x="576.6" y="767.06" width="14.05" height="9.07" fill="#7CBB4B" stroke="#222" stroke-width="0.7" />
<text x="583.62" y="773.89" font-size="6.4" text-anchor="middle" fill="#222" textLength="3.84" lengthAdjust="spacingAndGlyphs">S</text>
<rect x="590.65" y="767.06" width="14.05" height="9.07" fill="#FFFFFF" stroke="#222" stroke-width="0.7" />
<text x="597.68" y="773.89" font-size="6.4" text-anchor="middle" fill="#222" textLength="1.92" lengthAdjust="spacingAndGlyphs">-</text>
<rect x="604.7" y="767.06" width="14.05" height="9.07" fill="#D070D0" stroke="#222" stroke-width="0.7" />
<text x="611.73" y="773.89" font-size="6.4" text-anchor="middle" fill="#222" textLength="4.48" lengthAdjust="spacingAndGlyphs">G</text>
<rect x="618.75" y="767.06" width="14.05" height="9.07" fill="#7CBB4B" stroke="#222" stroke-width="0.7" />
<text x="625.77" y="773.89" font-size="6.4" text-anchor="middle" fill="#222" textLength="3.84" lengthAdjust="spacingAndGlyphs">S</text>
<rect x="632.8" y="767.06" width="14.05" height="9.07" fill="#7CBB4B" stroke="#222" stroke-width="0.7" />
<text x="639.83" y="773.89" font-size="6.4" text-anchor="middle" fill="#222" textLength="3.84" lengthAdjust="spacingAndGlyphs">S</text>
<rect x="646.85" y="767.06" width="14.05" height="9.07" fill="#FFFF00" stroke="#222" stroke-width="0.7" />
<text x="653.88" y="773.89" font-size="6.4" text-anchor="middle" fill="#222" textLength="3.84" lengthAdjust="spacingAndGlyphs">V</text>
<text x="545.6" y="783.06" font-size="6.7" text-anchor="middle" fill="#222" textLength="43.24" lengthAdjust="spacingAndGlyphs">DS284/1990 (B)</text>
<rect x="576.6" y="776.13" width="14.05" height="9.07" fill="#7CBB4B" stroke="#222" stroke-width="0.7" />
<text x="583.62" y="782.96" font-size="6.4" text-anchor="middle" fill="#222" textLength="3.84" lengthAdjust="spacingAndGlyphs">S</text>
<rect x="590.65" y="776.13" width="14.05" height="9.07" fill="#FFFFFF" stroke="#222" stroke-width="0.7" />
<text x="597.68" y="782.96" font-size="6.4" text-anchor="middle" fill="#222" textLength="1.92" lengthAdjust="spacingAndGlyphs">-</text>
<rect x="604.7" y="776.13" width="14.05" height="9.07" fill="#D070D0" stroke="#222" stroke-width="0.7" />
<text x="611.73" y="782.96" font-size="6.4" text-anchor="middle" fill="#222" textLength="4.48" lengthAdjust="spacingAndGlyphs">G</text>
<rect x="618.75" y="776.13" width="14.05" height="9.07" fill="#7CBB4B" stroke="#222" stroke-width="0.7" />
<text x="625.77" y="782.96" font-size="6.4" text-anchor="middle" fill="#222" textLength="3.84" lengthAdjust="spacingAndGlyphs">S</text>
<rect x="632.8" y="776.13" width="14.05" height="9.07" fill="#7CBB4B" stroke="#222" stroke-width="0.7" />
<text x="639.83" y="782.96" font-size="6.4" text-anchor="middle" fill="#222" textLength="3.84" lengthAdjust="spacingAndGlyphs">S</text>
<rect x="646.85" y="776.13" width="14.05" height="9.07" fill="#FFFF00" stroke="#222" stroke-width="0.7" />
<text x="653.88" y="782.96" font-size="6.4" text-anchor="middle" fill="#222" textLength="3.84" lengthAdjust="spacingAndGlyphs">V</text>
<text x="545.6" y="792.13" font-size="6.7" text-anchor="middle" fill="#222" textLength="25.48" lengthAdjust="spacingAndGlyphs">B in 2023</text>
<rect x="576.6" y="785.2" width="14.05" height="9.07" fill="#7CBB4B" stroke="#222" stroke-width="0.7" />
<text x="583.62" y="792.03" font-size="6.4" text-anchor="middle" fill="#222" textLength="3.84" lengthAdjust="spacingAndGlyphs">S</text>
<rect x="590.65" y="785.2" width="14.05" height="9.07" fill="#FFFFFF" stroke="#222" stroke-width="0.7" />
<text x="597.68" y="792.03" font-size="6.4" text-anchor="middle" fill="#222" textLength="1.92" lengthAdjust="spacingAndGlyphs">-</text>
<rect x="604.7" y="785.2" width="14.05" height="9.07" fill="#D070D0" stroke="#222" stroke-width="0.7" />
<text x="611.73" y="792.03" font-size="6.4" text-anchor="middle" fill="#222" textLength="4.48" lengthAdjust="spacingAndGlyphs">G</text>
<rect x="618.75" y="785.2" width="14.05" height="9.07" fill="#7CBB4B" stroke="#222" stroke-width="0.7" />
<text x="625.77" y="792.03" font-size="6.4" text-anchor="middle" fill="#222" textLength="3.84" lengthAdjust="spacingAndGlyphs">S</text>
<rect x="632.8" y="785.2" width="14.05" height="9.07" fill="#7CBB4B" stroke="#222" stroke-width="0.7" />
<text x="639.83" y="792.03" font-size="6.4" text-anchor="middle" fill="#222" textLength="3.84" lengthAdjust="spacingAndGlyphs">S</text>
<rect x="646.85" y="785.2" width="14.05" height="9.07" fill="#FFFF00" stroke="#222" stroke-width="0.7" />
<text x="653.88" y="792.03" font-size="6.4" text-anchor="middle" fill="#222" textLength="3.84" lengthAdjust="spacingAndGlyphs">A</text>
<text x="545.6" y="801.2" font-size="6.7" text-anchor="middle" fill="#222" textLength="42.89" lengthAdjust="spacingAndGlyphs">6 strains in New</text>
<rect x="576.6" y="794.27" width="14.05" height="9.07" fill="#7CBB4B" stroke="#222" stroke-width="0.7" />
<text x="583.62" y="801.1" font-size="6.4" text-anchor="middle" fill="#222" textLength="3.84" lengthAdjust="spacingAndGlyphs">S</text>
<rect x="590.65" y="794.27" width="14.05" height="9.07" fill="#FFFFFF" stroke="#222" stroke-width="0.7" />
<text x="597.68" y="801.1" font-size="6.4" text-anchor="middle" fill="#222" textLength="1.92" lengthAdjust="spacingAndGlyphs">-</text>
<rect x="604.7" y="794.27" width="14.05" height="9.07" fill="#FFFFFF" stroke="#222" stroke-width="0.7" />
<text x="611.73" y="801.1" font-size="6.4" text-anchor="middle" fill="#222" textLength="1.92" lengthAdjust="spacingAndGlyphs">-</text>
<rect x="618.75" y="794.27" width="14.05" height="9.07" fill="#7CBB4B" stroke="#222" stroke-width="0.7" />
<text x="625.77" y="801.1" font-size="6.4" text-anchor="middle" fill="#222" textLength="4.16" lengthAdjust="spacingAndGlyphs">N</text>
<rect x="632.8" y="794.27" width="14.05" height="9.07" fill="#FFFFFF" stroke="#222" stroke-width="0.7" />
<text x="639.83" y="801.1" font-size="6.4" text-anchor="middle" fill="#222" textLength="1.92" lengthAdjust="spacingAndGlyphs">-</text>
<rect x="646.85" y="794.27" width="14.05" height="9.07" fill="#FFFF00" stroke="#222" stroke-width="0.7" />
<text x="653.88" y="801.1" font-size="6.4" text-anchor="middle" fill="#222" textLength="3.84" lengthAdjust="spacingAndGlyphs">A</text>
<rect x="576.6" y="694.5" width="84.3" height="108.84" fill="none" stroke="#111" stroke-width="1" />
<line x1="576.6" y1="748.92" x2="660.9" y2="748.92" stroke="#111" stroke-width="1.4" />
<text x="283.25" y="779.7" font-size="6.6" text-anchor="middle" fill="#222" textLength="9.91" lengthAdjust="spacingAndGlyphs">176</text>
<text x="297.56" y="779.7" font-size="6.6" text-anchor="middle" fill="#222" textLength="9.91" lengthAdjust="spacingAndGlyphs">177</text>
<text x="311.88" y="779.7" font-size="6.6" text-anchor="middle" fill="#222" textLength="9.91" lengthAdjust="spacingAndGlyphs">178</text>
<text x="326.19" y="779.7" font-size="6.6" text-anchor="middle" fill="#222" textLength="9.91" lengthAdjust="spacingAndGlyphs">179</text>
<text x="340.5" y="779.7" font-size="6.6" text-anchor="middle" fill="#222" textLength="9.91" lengthAdjust="spacingAndGlyphs">180</text>
<text x="354.81" y="779.7" font-size="6.6" text-anchor="middle" fill="#222" textLength="9.91" lengthAdjust="spacingAndGlyphs">181</text>
<text x="369.12" y="779.7" font-size="6.6" text-anchor="middle" fill="#222" textLength="9.91" lengthAdjust="spacingAndGlyphs">182</text>
<text x="383.43" y="779.7" font-size="6.6" text-anchor="middle" fill="#222" textLength="9.91" lengthAdjust="spacingAndGlyphs">183</text>
<text x="253.9" y="789.17" font-size="6.7" text-anchor="middle" fill="#222" textLength="4.02" lengthAdjust="spacingAndGlyphs">A</text>
<rect x="276.1" y="782.2" width="14.31" height="9.13" fill="#7CBB4B" stroke="#222" stroke-width="0.7" />
<text x="283.25" y="789.07" font-size="6.4" text-anchor="middle" fill="#222" textLength="4.48" lengthAdjust="spacingAndGlyphs">Q</text>
<rect x="290.41" y="782.2" width="14.31" height="9.13" fill="#7CBB4B" stroke="#222" stroke-width="0.7" />
<text x="297.56" y="789.07" font-size="6.4" text-anchor="middle" fill="#222" textLength="3.84" lengthAdjust="spacingAndGlyphs">S</text>
<rect x="304.72" y="782.2" width="14.31" height="9.13" fill="#7CBB4B" stroke="#222" stroke-width="0.7" />
<text x="311.88" y="789.07" font-size="6.4" text-anchor="middle" fill="#222" textLength="3.52" lengthAdjust="spacingAndGlyphs">T</text>
<rect x="319.03" y="782.2" width="14.31" height="9.13" fill="#FF0000" stroke="#222" stroke-width="0.7" />
<text x="326.19" y="789.07" font-size="6.4" text-anchor="middle" fill="#222" textLength="3.84" lengthAdjust="spacingAndGlyphs">K</text>
<rect x="333.34" y="782.2" width="14.31" height="9.13" fill="#FFFF00" stroke="#222" stroke-width="0.7" />
<text x="340.5" y="789.07" font-size="6.4" text-anchor="middle" fill="#222" textLength="3.2" lengthAdjust="spacingAndGlyphs">L</text>
<rect x="347.65" y="782.2" width="14.31" height="9.13" fill="#7CBB4B" stroke="#222" stroke-width="0.7" />
<text x="354.81" y="789.07" font-size="6.4" text-anchor="middle" fill="#222" textLength="3.84" lengthAdjust="spacingAndGlyphs">S</text>
<rect x="361.96" y="782.2" width="14.31" height="9.13" fill="#7CBB4B" stroke="#222" stroke-width="0.7" />
<text x="369.12" y="789.07" font-size="6.4" text-anchor="middle" fill="#222" textLength="3.84" lengthAdjust="spacingAndGlyphs">S</text>
<rect x="376.27" y="782.2" width="14.31" height="9.13" fill="#FFFF00" stroke="#222" stroke-width="0.7" />
<text x="383.43" y="789.07" font-size="6.4" text-anchor="middle" fill="#222" textLength="3.84" lengthAdjust="spacingAndGlyphs">V</text>
<text x="253.9" y="798.3" font-size="6.7" text-anchor="middle" fill="#222" textLength="4.02" lengthAdjust="spacingAndGlyphs">B</text>
<rect x="276.1" y="791.33" width="14.31" height="9.13" fill="#7CBB4B" stroke="#222" stroke-width="0.7" />
<text x="283.25" y="798.2" font-size="6.4" text-anchor="middle" fill="#222" textLength="4.48" lengthAdjust="spacingAndGlyphs">Q</text>
<rect x="290.41" y="791.33" width="14.31" height="9.13" fill="#7CBB4B" stroke="#222" stroke-width="0.7" />
<text x="297.56" y="798.2" font-size="6.4" text-anchor="middle" fill="#222" textLength="3.84" lengthAdjust="spacingAndGlyphs">S</text>
<rect x="304.72" y="791.33" width="14.31" height="9.13" fill="#7CBB4B" stroke="#222" stroke-width="0.7" />
<text x="311.88" y="798.2" font-size="6.4" text-anchor="middle" fill="#222" textLength="3.52" lengthAdjust="spacingAndGlyphs">T</text>
<rect x="319.03" y="791.33" width="14.31" height="9.13" fill="#FF0000" stroke="#222" stroke-width="0.7" />
<text x="326.19" y="798.2" font-size="6.4" text-anchor="middle" fill="#222" textLength="3.84" lengthAdjust="spacingAndGlyphs">K</text>
<rect x="333.34" y="791.33" width="14.31" height="9.13" fill="#FFFF00" stroke="#222" stroke-width="0.7" />
<text x="340.5" y="798.2" font-size="6.4" text-anchor="middle" fill="#222" textLength="3.2" lengthAdjust="spacingAndGlyphs">L</text>
<rect x="347.65" y="791.33" width="14.31" height="9.13" fill="#7CBB4B" stroke="#222" stroke-width="0.7" />
<text x="354.81" y="798.2" font-size="6.4" text-anchor="middle" fill="#222" textLength="3.84" lengthAdjust="spacingAndGlyphs">S</text>
<rect x="361.96" y="791.33" width="14.31" height="9.13" fill="#7CBB4B" stroke="#222" stroke-width="0.7" />
<text x="369.12" y="798.2" font-size="6.4" text-anchor="middle" fill="#222" textLength="3.84" lengthAdjust="spacingAndGlyphs">S</text>
<rect x="376.27" y="791.33" width="14.31" height="9.13" fill="#FFFF00" stroke="#222" stroke-width="0.7" />
<text x="383.43" y="798.2" font-size="6.4" text-anchor="middle" fill="#222" textLength="3.84" lengthAdjust="spacingAndGlyphs">V</text>
<text x="253.9" y="807.43" font-size="6.7" text-anchor="middle" fill="#222" textLength="41.24" lengthAdjust="spacingAndGlyphs">Arg13099/2015</text>
<rect x="276.1" y="800.46" width="14.31" height="9.13" fill="#FF0000" stroke="#222" stroke-width="0.7" />
<text x="283.25" y="807.33" font-size="6.4" text-anchor="middle" fill="#222" textLength="3.84" lengthAdjust="spacingAndGlyphs">K</text>
<rect x="290.41" y="800.46" width="14.31" height="9.13" fill="#FFFF00" stroke="#222" stroke-width="0.7" />
<text x="297.56" y="807.33" font-size="6.4" text-anchor="middle" fill="#222" textLength="4.8" lengthAdjust="spacingAndGlyphs">M</text>
<rect x="304.72" y="800.46" width="14.31" height="9.13" fill="#7CBB4B" stroke="#222" stroke-width="0.7" />
<text x="311.88" y="807.33" font-size="6.4" text-anchor="middle" fill="#222" textLength="3.52" lengthAdjust="spacingAndGlyphs">T</text>
<rect x="319.03" y="800.46" width="14.31" height="9.13" fill="#7CBB4B" stroke="#222" stroke-width="0.7" />
<text x="326.19" y="807.33" font-size="6.4" text-anchor="middle" fill="#222" textLength="4.16" lengthAdjust="spacingAndGlyphs">N</text>
<rect x="333.34" y="800.46" width="14.31" height="9.13" fill="#FFFF00" stroke="#222" stroke-width="0.7" />
<text x="340.5" y="807.33" font-size="6.4" text-anchor="middle" fill="#222" textLength="3.2" lengthAdjust="spacingAndGlyphs">L</text>
<rect x="347.65" y="800.46" width="14.31" height="9.13" fill="#7CBB4B" stroke="#222" stroke-width="0.7" />
<text x="354.81" y="807.33" font-size="6.4" text-anchor="middle" fill="#222" textLength="3.84" lengthAdjust="spacingAndGlyphs">S</text>
<rect x="361.96" y="800.46" width="14.31" height="9.13" fill="#FFFFFF" stroke="#222" stroke-width="0.7" />
<text x="369.12" y="807.33" font-size="6.4" text-anchor="middle" fill="#222" textLength="1.92" lengthAdjust="spacingAndGlyphs">-</text>
<rect x="376.27" y="800.46" width="14.31" height="9.13" fill="#D070D0" stroke="#222" stroke-width="0.7" />
<text x="383.43" y="807.33" font-size="6.4" text-anchor="middle" fill="#222" textLength="4.48" lengthAdjust="spacingAndGlyphs">G</text>
<text x="253.9" y="816.56" font-size="6.7" text-anchor="middle" fill="#222" textLength="4.35" lengthAdjust="spacingAndGlyphs">C</text>
<rect x="276.1" y="809.59" width="14.31" height="9.13" fill="#FF0000" stroke="#222" stroke-width="0.7" />
<text x="283.25" y="816.46" font-size="6.4" text-anchor="middle" fill="#222" textLength="3.84" lengthAdjust="spacingAndGlyphs">K</text>
<rect x="290.41" y="809.59" width="14.31" height="9.13" fill="#FFFF00" stroke="#222" stroke-width="0.7" />
<text x="297.56" y="816.46" font-size="6.4" text-anchor="middle" fill="#222" textLength="3.2" lengthAdjust="spacingAndGlyphs">L</text>
<rect x="304.72" y="809.59" width="14.31" height="9.13" fill="#7CBB4B" stroke="#222" stroke-width="0.7" />
<text x="311.88" y="816.46" font-size="6.4" text-anchor="middle" fill="#222" textLength="3.52" lengthAdjust="spacingAndGlyphs">T</text>
<rect x="319.03" y="809.59" width="14.31" height="9.13" fill="#7CBB4B" stroke="#222" stroke-width="0.7" />
<text x="326.19" y="816.46" font-size="6.4" text-anchor="middle" fill="#222" textLength="4.16" lengthAdjust="spacingAndGlyphs">N</text>
<rect x="333.34" y="809.59" width="14.31" height="9.13" fill="#FFFF00" stroke="#222" stroke-width="0.7" />
<text x="340.5" y="816.46" font-size="6.4" text-anchor="middle" fill="#222" textLength="3.2" lengthAdjust="spacingAndGlyphs">L</text>
<rect x="347.65" y="809.59" width="14.31" height="9.13" fill="#7CBB4B" stroke="#222" stroke-width="0.7" />
<text x="354.81" y="816.46" font-size="6.4" text-anchor="middle" fill="#222" textLength="3.84" lengthAdjust="spacingAndGlyphs">S</text>
<rect x="361.96" y="809.59" width="14.31" height="9.13" fill="#7CBB4B" stroke="#222" stroke-width="0.7" />
<text x="369.12" y="816.46" font-size="6.4" text-anchor="middle" fill="#222" textLength="3.84" lengthAdjust="spacingAndGlyphs">S</text>
<rect x="376.27" y="809.59" width="14.31" height="9.13" fill="#D070D0" stroke="#222" stroke-width="0.7" />
<text x="383.43" y="816.46" font-size="6.4" text-anchor="middle" fill="#222" textLength="4.48" lengthAdjust="spacingAndGlyphs">G</text>
<text x="253.9" y="825.69" font-size="6.7" text-anchor="middle" fill="#222" textLength="4.35" lengthAdjust="spacingAndGlyphs">D</text>
<rect x="276.1" y="818.72" width="14.31" height="9.13" fill="#FF0000" stroke="#222" stroke-width="0.7" />
<text x="283.25" y="825.59" font-size="6.4" text-anchor="middle" fill="#222" textLength="3.84" lengthAdjust="spacingAndGlyphs">K</text>
<rect x="290.41" y="818.72" width="14.31" height="9.13" fill="#FFFF00" stroke="#222" stroke-width="0.7" />
<text x="297.56" y="825.59" font-size="6.4" text-anchor="middle" fill="#222" textLength="3.2" lengthAdjust="spacingAndGlyphs">L</text>
<rect x="304.72" y="818.72" width="14.31" height="9.13" fill="#7CBB4B" stroke="#222" stroke-width="0.7" />
<text x="311.88" y="825.59" font-size="6.4" text-anchor="middle" fill="#222" textLength="3.52" lengthAdjust="spacingAndGlyphs">T</text>
<rect x="319.03" y="818.72" width="14.31" height="9.13" fill="#7CBB4B" stroke="#222" stroke-width="0.7" />
<text x="326.19" y="825.59" font-size="6.4" text-anchor="middle" fill="#222" textLength="4.16" lengthAdjust="spacingAndGlyphs">N</text>
<rect x="333.34" y="818.72" width="14.31" height="9.13" fill="#FFFF00" stroke="#222" stroke-width="0.7" />
<text x="340.5" y="825.59" font-size="6.4" text-anchor="middle" fill="#222" textLength="3.2" lengthAdjust="spacingAndGlyphs">L</text>
<rect x="347.65" y="818.72" width="14.31" height="9.13" fill="#7CBB4B" stroke="#222" stroke-width="0.7" />
<text x="354.81" y="825.59" font-size="6.4" text-anchor="middle" fill="#222" textLength="3.84" lengthAdjust="spacingAndGlyphs">S</text>
<rect x="361.96" y="818.72" width="14.31" height="9.13" fill="#7CBB4B" stroke="#222" stroke-width="0.7" />
<text x="369.12" y="825.59" font-size="6.4" text-anchor="middle" fill="#222" textLength="3.84" lengthAdjust="spacingAndGlyphs">S</text>
<rect x="376.27" y="818.72" width="14.31" height="9.13" fill="#D070D0" stroke="#222" stroke-width="0.7" />
<text x="383.43" y="825.59" font-size="6.4" text-anchor="middle" fill="#222" textLength="4.48" lengthAdjust="spacingAndGlyphs">G</text>
<text x="253.9" y="834.82" font-size="6.7" text-anchor="middle" fill="#222" textLength="12.06" lengthAdjust="spacingAndGlyphs">New</text>
<rect x="276.1" y="827.85" width="14.31" height="9.13" fill="#FF0000" stroke="#222" stroke-width="0.7" />
<text x="283.25" y="834.72" font-size="6.4" text-anchor="middle" fill="#222" textLength="3.84" lengthAdjust="spacingAndGlyphs">K</text>
<rect x="290.41" y="827.85" width="14.31" height="9.13" fill="#FFFF00" stroke="#222" stroke-width="0.7" />
<text x="297.56" y="834.72" font-size="6.4" text-anchor="middle" fill="#222" textLength="3.2" lengthAdjust="spacingAndGlyphs">L</text>
<rect x="304.72" y="827.85" width="14.31" height="9.13" fill="#7CBB4B" stroke="#222" stroke-width="0.7" />
<text x="311.88" y="834.72" font-size="6.4" text-anchor="middle" fill="#222" textLength="3.52" lengthAdjust="spacingAndGlyphs">T</text>
<rect x="319.03" y="827.85" width="14.31" height="9.13" fill="#7CBB4B" stroke="#222" stroke-width="0.7" />
<text x="326.19" y="834.72" font-size="6.4" text-anchor="middle" fill="#222" textLength="4.16" lengthAdjust="spacingAndGlyphs">N</text>
<rect x="333.34" y="827.85" width="14.31" height="9.13" fill="#FFFF00" stroke="#222" stroke-width="0.7" />
<text x="340.5" y="834.72" font-size="6.4" text-anchor="middle" fill="#222" textLength="3.2" lengthAdjust="spacingAndGlyphs">L</text>
<rect x="347.65" y="827.85" width="14.31" height="9.13" fill="#7CBB4B" stroke="#222" stroke-width="0.7" />
<text x="354.81" y="834.72" font-size="6.4" text-anchor="middle" fill="#222" textLength="3.84" lengthAdjust="spacingAndGlyphs">S</text>
<rect x="361.96" y="827.85" width="14.31" height="9.13" fill="#7CBB4B" stroke="#222" stroke-width="0.7" />
<text x="369.12" y="834.72" font-size="6.4" text-anchor="middle" fill="#222" textLength="3.84" lengthAdjust="spacingAndGlyphs">S</text>
<rect x="376.27" y="827.85" width="14.31" height="9.13" fill="#D070D0" stroke="#222" stroke-width="0.7" />
<text x="383.43" y="834.72" font-size="6.4" text-anchor="middle" fill="#222" textLength="4.48" lengthAdjust="spacingAndGlyphs">G</text>
<text x="253.9" y="843.95" font-size="6.7" text-anchor="middle" fill="#222" textLength="35.19" lengthAdjust="spacingAndGlyphs">2 strains in D</text>
<rect x="276.1" y="836.98" width="14.31" height="9.13" fill="#FF0000" stroke="#222" stroke-width="0.7" />
<text x="283.25" y="843.85" font-size="6.4" text-anchor="middle" fill="#222" textLength="3.84" lengthAdjust="spacingAndGlyphs">K</text>
<rect x="290.41" y="836.98" width="14.31" height="9.13" fill="#FFFFFF" stroke="#222" stroke-width="0.7" />
<text x="297.56" y="843.85" font-size="6.4" text-anchor="middle" fill="#222" textLength="1.92" lengthAdjust="spacingAndGlyphs">-</text>
<rect x="304.72" y="836.98" width="14.31" height="9.13" fill="#FFFFFF" stroke="#222" stroke-width="0.7" />
<text x="311.88" y="843.85" font-size="6.4" text-anchor="middle" fill="#222" textLength="1.92" lengthAdjust="spacingAndGlyphs">-</text>
<rect x="319.03" y="836.98" width="14.31" height="9.13" fill="#FFFFFF" stroke="#222" stroke-width="0.7" />
<text x="326.19" y="843.85" font-size="6.4" text-anchor="middle" fill="#222" textLength="1.92" lengthAdjust="spacingAndGlyphs">-</text>
<rect x="333.34" y="836.98" width="14.31" height="9.13" fill="#FFFF00" stroke="#222" stroke-width="0.7" />
<text x="340.5" y="843.85" font-size="6.4" text-anchor="middle" fill="#222" textLength="3.2" lengthAdjust="spacingAndGlyphs">L</text>
<rect x="347.65" y="836.98" width="14.31" height="9.13" fill="#7CBB4B" stroke="#222" stroke-width="0.7" />
<text x="354.81" y="843.85" font-size="6.4" text-anchor="middle" fill="#222" textLength="3.84" lengthAdjust="spacingAndGlyphs">S</text>
<rect x="361.96" y="836.98" width="14.31" height="9.13" fill="#7CBB4B" stroke="#222" stroke-width="0.7" />
<text x="369.12" y="843.85" font-size="6.4" text-anchor="middle" fill="#222" textLength="3.84" lengthAdjust="spacingAndGlyphs">S</text>
<rect x="376.27" y="836.98" width="14.31" height="9.13" fill="#D070D0" stroke="#222" stroke-width="0.7" />
<text x="383.43" y="843.85" font-size="6.4" text-anchor="middle" fill="#222" textLength="4.48" lengthAdjust="spacingAndGlyphs">G</text>
<rect x="276.1" y="782.2" width="114.48" height="63.91" fill="none" stroke="#111" stroke-width="1" />
<line x1="276.1" y1="836.98" x2="390.58" y2="836.98" stroke="#111" stroke-width="1.4" />
<text x="448.71" y="779.7" font-size="6.6" text-anchor="middle" fill="#222" textLength="9.91" lengthAdjust="spacingAndGlyphs">209</text>
<text x="462.73" y="779.7" font-size="6.6" text-anchor="middle" fill="#222" textLength="9.91" lengthAdjust="spacingAndGlyphs">210</text>
<text x="476.75" y="779.7" font-size="6.6" text-anchor="middle" fill="#222" textLength="9.47" lengthAdjust="spacingAndGlyphs">211</text>
<text x="490.77" y="779.7" font-size="6.6" text-anchor="middle" fill="#222" textLength="9.91" lengthAdjust="spacingAndGlyphs">212</text>
<text x="504.79" y="779.7" font-size="6.6" text-anchor="middle" fill="#222" textLength="9.91" lengthAdjust="spacingAndGlyphs">213</text>
<text x="417.7" y="788.76" font-size="6.7" text-anchor="middle" fill="#222" textLength="4.02" lengthAdjust="spacingAndGlyphs">A</text>
<rect x="441.7" y="781.8" width="14.02" height="9.13" fill="#FFFF00" stroke="#222" stroke-width="0.7" />
<text x="448.71" y="788.66" font-size="6.4" text-anchor="middle" fill="#222" textLength="1.6" lengthAdjust="spacingAndGlyphs">I</text>
<rect x="455.72" y="781.8" width="14.02" height="9.13" fill="#7CBB4B" stroke="#222" stroke-width="0.7" />
<text x="462.73" y="788.66" font-size="6.4" text-anchor="middle" fill="#222" textLength="3.84" lengthAdjust="spacingAndGlyphs">S</text>
<rect x="469.74" y="781.8" width="14.02" height="9.13" fill="#FF0000" stroke="#222" stroke-width="0.7" />
<text x="476.75" y="788.66" font-size="6.4" text-anchor="middle" fill="#222" textLength="4.16" lengthAdjust="spacingAndGlyphs">H</text>
<rect x="483.76" y="781.8" width="14.02" height="9.13" fill="#FFFF00" stroke="#222" stroke-width="0.7" />
<text x="490.77" y="788.66" font-size="6.4" text-anchor="middle" fill="#222" textLength="3.84" lengthAdjust="spacingAndGlyphs">V</text>
<rect x="497.78" y="781.8" width="14.02" height="9.13" fill="#7CBB4B" stroke="#222" stroke-width="0.7" />
<text x="504.79" y="788.66" font-size="6.4" text-anchor="middle" fill="#222" textLength="3.52" lengthAdjust="spacingAndGlyphs">T</text>
<text x="417.7" y="797.89" font-size="6.7" text-anchor="middle" fill="#222" textLength="4.02" lengthAdjust="spacingAndGlyphs">B</text>
<rect x="441.7" y="790.93" width="14.02" height="9.13" fill="#FFFF00" stroke="#222" stroke-width="0.7" />
<text x="448.71" y="797.79" font-size="6.4" text-anchor="middle" fill="#222" textLength="1.6" lengthAdjust="spacingAndGlyphs">I</text>
<rect x="455.72" y="790.93" width="14.02" height="9.13" fill="#7CBB4B" stroke="#222" stroke-width="0.7" />
<text x="462.73" y="797.79" font-size="6.4" text-anchor="middle" fill="#222" textLength="3.84" lengthAdjust="spacingAndGlyphs">S</text>
<rect x="469.74" y="790.93" width="14.02" height="9.13" fill="#FF0000" stroke="#222" stroke-width="0.7" />
<text x="476.75" y="797.79" font-size="6.4" text-anchor="middle" fill="#222" textLength="4.16" lengthAdjust="spacingAndGlyphs">H</text>
<rect x="483.76" y="790.93" width="14.02" height="9.13" fill="#FFFF00" stroke="#222" stroke-width="0.7" />
<text x="490.77" y="797.79" font-size="6.4" text-anchor="middle" fill="#222" textLength="3.84" lengthAdjust="spacingAndGlyphs">V</text>
<rect x="497.78" y="790.93" width="14.02" height="9.13" fill="#7CBB4B" stroke="#222" stroke-width="0.7" />
<text x="504.79" y="797.79" font-size="6.4" text-anchor="middle" fill="#222" textLength="3.52" lengthAdjust="spacingAndGlyphs">T</text>
<text x="417.7" y="807.02" font-size="6.7" text-anchor="middle" fill="#222" textLength="41.24" lengthAdjust="spacingAndGlyphs">Arg13099/2015</text>
<rect x="441.7" y="800.06" width="14.02" height="9.13" fill="#FFFF00" stroke="#222" stroke-width="0.7" />
<text x="448.71" y="806.92" font-size="6.4" text-anchor="middle" fill="#222" textLength="1.6" lengthAdjust="spacingAndGlyphs">I</text>
<rect x="455.72" y="800.06" width="14.02" height="9.13" fill="#7CBB4B" stroke="#222" stroke-width="0.7" />
<text x="462.73" y="806.92" font-size="6.4" text-anchor="middle" fill="#222" textLength="3.84" lengthAdjust="spacingAndGlyphs">S</text>
<rect x="469.74" y="800.06" width="14.02" height="9.13" fill="#FF0000" stroke="#222" stroke-width="0.7" />
<text x="476.75" y="806.92" font-size="6.4" text-anchor="middle" fill="#222" textLength="4.16" lengthAdjust="spacingAndGlyphs">H</text>
<rect x="483.76" y="800.06" width="14.02" height="9.13" fill="#FFFF00" stroke="#222" stroke-width="0.7" />
<text x="490.77" y="806.92" font-size="6.4" text-anchor="middle" fill="#222" textLength="3.84" lengthAdjust="spacingAndGlyphs">V</text>
<rect x="497.78" y="800.06" width="14.02" height="9.13" fill="#7CBB4B" stroke="#222" stroke-width="0.7" />
<text x="504.79" y="806.92" font-size="6.4" text-anchor="middle" fill="#222" textLength="3.52" lengthAdjust="spacingAndGlyphs">T</text>
<text x="417.7" y="816.15" font-size="6.7" text-anchor="middle" fill="#222" textLength="4.35" lengthAdjust="spacingAndGlyphs">C</text>
<rect x="441.7" y="809.19" width="14.02" height="9.13" fill="#FFFF00" stroke="#222" stroke-width="0.7" />
<text x="448.71" y="816.05" font-size="6.4" text-anchor="middle" fill="#222" textLength="1.6" lengthAdjust="spacingAndGlyphs">I</text>
<rect x="455.72" y="809.19" width="14.02" height="9.13" fill="#7CBB4B" stroke="#222" stroke-width="0.7" />
<text x="462.73" y="816.05" font-size="6.4" text-anchor="middle" fill="#222" textLength="3.84" lengthAdjust="spacingAndGlyphs">S</text>
<rect x="469.74" y="809.19" width="14.02" height="9.13" fill="#FF0000" stroke="#222" stroke-width="0.7" />
<text x="476.75" y="816.05" font-size="6.4" text-anchor="middle" fill="#222" textLength="4.16" lengthAdjust="spacingAndGlyphs">H</text>
<rect x="483.76" y="809.19" width="14.02" height="9.13" fill="#FFFF00" stroke="#222" stroke-width="0.7" />
<text x="490.77" y="816.05" font-size="6.4" text-anchor="middle" fill="#222" textLength="3.84" lengthAdjust="spacingAndGlyphs">V</text>
<rect x="497.78" y="809.19" width="14.02" height="9.13" fill="#7CBB4B" stroke="#222" stroke-width="0.7" />
<text x="504.79" y="816.05" font-size="6.4" text-anchor="middle" fill="#222" textLength="3.52" lengthAdjust="spacingAndGlyphs">T</text>
<text x="417.7" y="825.28" font-size="6.7" text-anchor="middle" fill="#222" textLength="4.35" lengthAdjust="spacingAndGlyphs">D</text>
<rect x="441.7" y="818.32" width="14.02" height="9.13" fill="#FFFF00" stroke="#222" stroke-width="0.7" />
<text x="448.71" y="825.18" font-size="6.4" text-anchor="middle" fill="#222" textLength="1.6" lengthAdjust="spacingAndGlyphs">I</text>
<rect x="455.72" y="818.32" width="14.02" height="9.13" fill="#7CBB4B" stroke="#222" stroke-width="0.7" />
<text x="462.73" y="825.18" font-size="6.4" text-anchor="middle" fill="#222" textLength="3.84" lengthAdjust="spacingAndGlyphs">S</text>
<rect x="469.74" y="818.32" width="14.02" height="9.13" fill="#FF0000" stroke="#222" stroke-width="0.7" />
<text x="476.75" y="825.18" font-size="6.4" text-anchor="middle" fill="#222" textLength="4.16" lengthAdjust="spacingAndGlyphs">H</text>
<rect x="483.76" y="818.32" width="14.02" height="9.13" fill="#FFFF00" stroke="#222" stroke-width="0.7" />
<text x="490.77" y="825.18" font-size="6.4" text-anchor="middle" fill="#222" textLength="3.84" lengthAdjust="spacingAndGlyphs">V</text>
<rect x="497.78" y="818.32" width="14.02" height="9.13" fill="#7CBB4B" stroke="#222" stroke-width="0.7" />
<text x="504.79" y="825.18" font-size="6.4" text-anchor="middle" fill="#222" textLength="3.52" lengthAdjust="spacingAndGlyphs">T</text>
<text x="417.7" y="834.41" font-size="6.7" text-anchor="middle" fill="#222" textLength="12.06" lengthAdjust="spacingAndGlyphs">New</text>
<rect x="441.7" y="827.45" width="14.02" height="9.13" fill="#FFFF00" stroke="#222" stroke-width="0.7" />
<text x="448.71" y="834.31" font-size="6.4" text-anchor="middle" fill="#222" textLength="1.6" lengthAdjust="spacingAndGlyphs">I</text>
<rect x="455.72" y="827.45" width="14.02" height="9.13" fill="#7CBB4B" stroke="#222" stroke-width="0.7" />
<text x="462.73" y="834.31" font-size="6.4" text-anchor="middle" fill="#222" textLength="3.84" lengthAdjust="spacingAndGlyphs">S</text>
<rect x="469.74" y="827.45" width="14.02" height="9.13" fill="#FF0000" stroke="#222" stroke-width="0.7" />
<text x="476.75" y="834.31" font-size="6.4" text-anchor="middle" fill="#222" textLength="4.16" lengthAdjust="spacingAndGlyphs">H</text>
<rect x="483.76" y="827.45" width="14.02" height="9.13" fill="#FFFF00" stroke="#222" stroke-width="0.7" />
<text x="490.77" y="834.31" font-size="6.4" text-anchor="middle" fill="#222" textLength="3.84" lengthAdjust="spacingAndGlyphs">V</text>
<rect x="497.78" y="827.45" width="14.02" height="9.13" fill="#7CBB4B" stroke="#222" stroke-width="0.7" />
<text x="504.79" y="834.31" font-size="6.4" text-anchor="middle" fill="#222" textLength="3.52" lengthAdjust="spacingAndGlyphs">T</text>
<text x="417.7" y="843.54" font-size="6.7" text-anchor="middle" fill="#222" textLength="42.9" lengthAdjust="spacingAndGlyphs">189/2024 (New)</text>
<rect x="441.7" y="836.58" width="14.02" height="9.13" fill="#FFFF00" stroke="#222" stroke-width="0.7" />
<text x="448.71" y="843.44" font-size="6.4" text-anchor="middle" fill="#222" textLength="1.6" lengthAdjust="spacingAndGlyphs">I</text>
<rect x="455.72" y="836.58" width="14.02" height="9.13" fill="#FFFFFF" stroke="#222" stroke-width="0.7" />
<text x="462.73" y="843.44" font-size="6.4" text-anchor="middle" fill="#222" textLength="1.92" lengthAdjust="spacingAndGlyphs">-</text>
<rect x="469.74" y="836.58" width="14.02" height="9.13" fill="#FFFFFF" stroke="#222" stroke-width="0.7" />
<text x="476.75" y="843.44" font-size="6.4" text-anchor="middle" fill="#222" textLength="1.92" lengthAdjust="spacingAndGlyphs">-</text>
<rect x="483.76" y="836.58" width="14.02" height="9.13" fill="#FFFFFF" stroke="#222" stroke-width="0.7" />
<text x="490.77" y="843.44" font-size="6.4" text-anchor="middle" fill="#222" textLength="1.92" lengthAdjust="spacingAndGlyphs">-</text>
<rect x="497.78" y="836.58" width="14.02" height="9.13" fill="#7CBB4B" stroke="#222" stroke-width="0.7" />
<text x="504.79" y="843.44" font-size="6.4" text-anchor="middle" fill="#222" textLength="3.52" lengthAdjust="spacingAndGlyphs">T</text>
<rect x="441.7" y="781.8" width="70.1" height="63.91" fill="none" stroke="#111" stroke-width="1" />
<line x1="441.7" y1="836.58" x2="511.8" y2="836.58" stroke="#111" stroke-width="1.4" />
<line x1="623" y1="809.3" x2="661.4" y2="809.3" stroke="#ddd" stroke-width="0.6" />
<text x="642.2" y="815.5" font-size="5.4" text-anchor="middle" font-weight="bold" fill="#111" textLength="21.39" lengthAdjust="spacingAndGlyphs">Residues</text>
<rect x="623" y="817.7" width="38.4" height="8.3" fill="#22B4EE" />
<text x="642.2" y="823.75" font-size="5.4" text-anchor="middle" font-weight="bold" fill="#111" textLength="13.68" lengthAdjust="spacingAndGlyphs">Acidic</text>
<rect x="623" y="826" width="38.4" height="8.1" fill="#FF0000" />
<text x="642.2" y="831.95" font-size="5.4" text-anchor="middle" font-weight="bold" fill="#111" textLength="12.54" lengthAdjust="spacingAndGlyphs">Basic</text>
<rect x="623" y="834.1" width="38.4" height="8.1" fill="#88C057" />
<text x="642.2" y="840.05" font-size="5.4" text-anchor="middle" font-weight="bold" fill="#111" textLength="29.08" lengthAdjust="spacingAndGlyphs">Polar neutral</text>
<rect x="623" y="842.2" width="38.4" height="8.4" fill="#FFFF00" />
<text x="642.2" y="848.3" font-size="5.4" text-anchor="middle" font-weight="bold" fill="#111" textLength="28.8" lengthAdjust="spacingAndGlyphs">Hydrophobic</text>
<rect x="623" y="850.6" width="38.4" height="8" fill="#1A55E8" />
<text x="642.2" y="856.5" font-size="5.4" text-anchor="middle" font-weight="bold" fill="#111" textLength="15.97" lengthAdjust="spacingAndGlyphs">Proline</text>
<rect x="623" y="858.6" width="38.4" height="8.7" fill="#CC66CC" />
<text x="642.2" y="864.85" font-size="5.4" text-anchor="middle" font-weight="bold" fill="#111" textLength="17.11" lengthAdjust="spacingAndGlyphs">Glycine</text>
<line x1="623" y1="867.5" x2="661.4" y2="867.5" stroke="#C8B040" stroke-width="0.6" />
</svg>
</body></html>
